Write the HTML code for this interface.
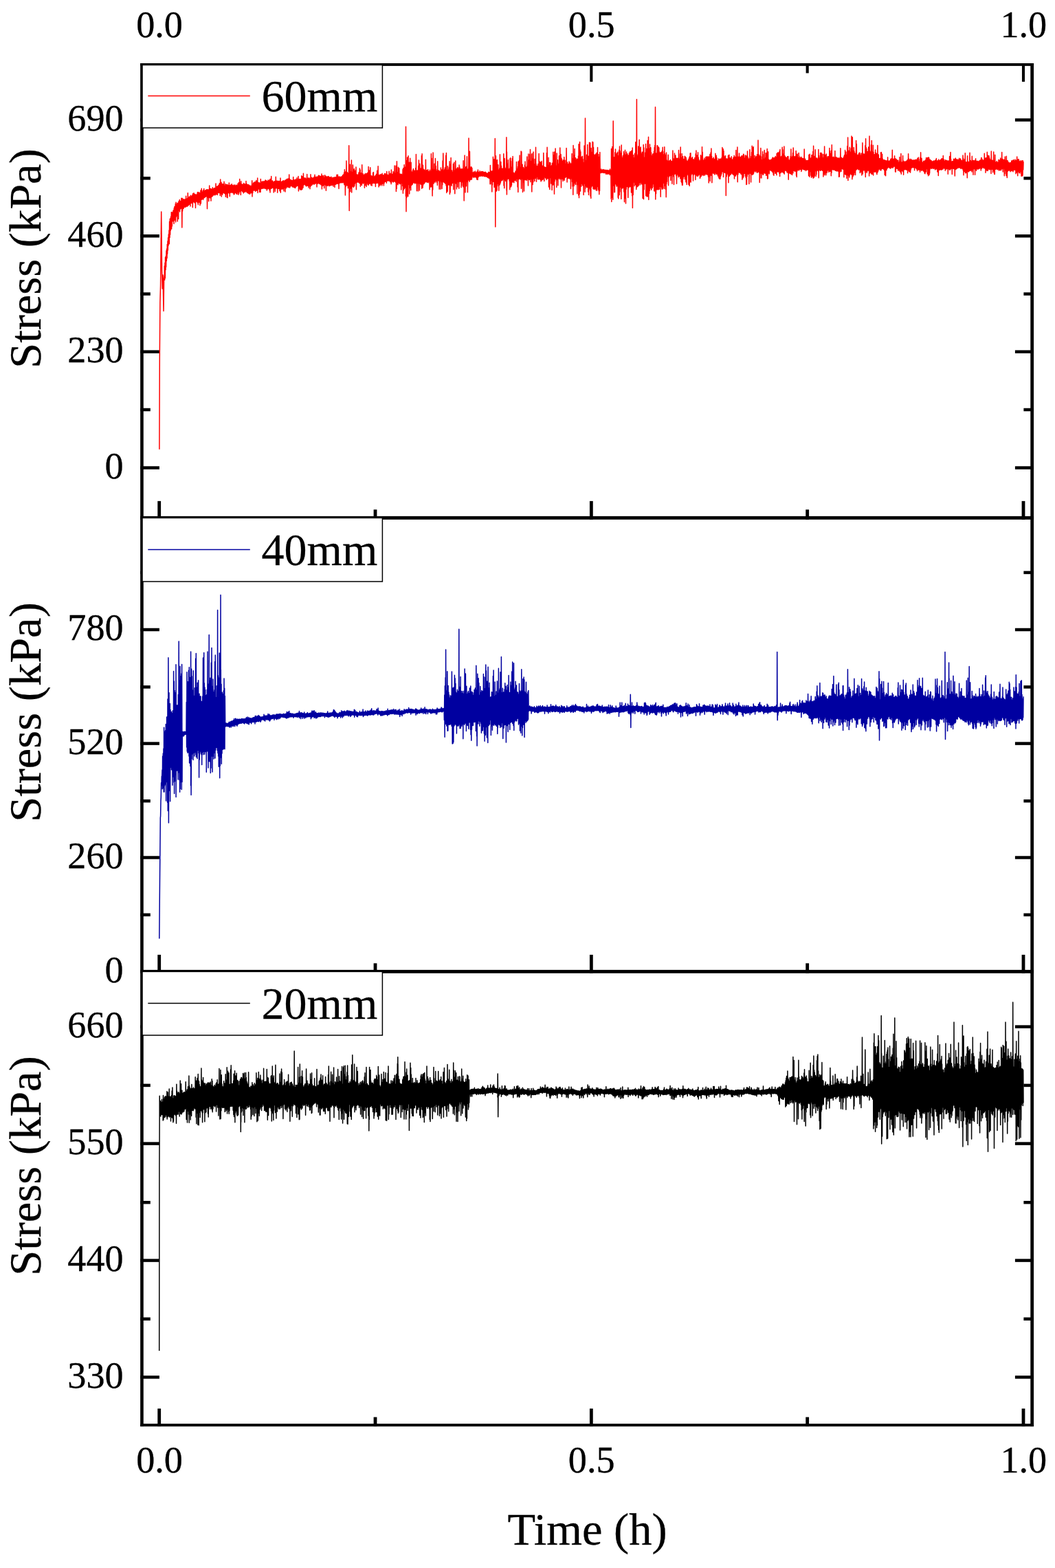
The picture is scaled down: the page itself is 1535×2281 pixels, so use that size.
<!DOCTYPE html>
<html lang="en">
<head>
<meta charset="utf-8">
<title>Stress vs Time</title>
<style>
html,body{margin:0;padding:0;background:#fff;}
body{width:1535px;height:2281px;overflow:hidden;}
svg{display:block;}
svg text{font-family:"Liberation Serif",serif;stroke:#000;stroke-width:0.3px;}
</style>
</head>
<body>
<svg width="1535" height="2281" viewBox="0 0 1535 2281" style="display:block;background:#fff">
<rect x="0" y="0" width="1535" height="2281" fill="#fff"/>
<g id="panel1">
<rect x="204.15" y="172.25" width="27.75" height="4.50" fill="#000"/>
<rect x="1476.90" y="172.25" width="27.15" height="4.50" fill="#000"/>
<rect x="204.15" y="341.05" width="27.75" height="4.50" fill="#000"/>
<rect x="1476.90" y="341.05" width="27.15" height="4.50" fill="#000"/>
<rect x="204.15" y="509.45" width="27.75" height="4.50" fill="#000"/>
<rect x="1476.90" y="509.45" width="27.15" height="4.50" fill="#000"/>
<rect x="204.15" y="678.25" width="27.75" height="4.50" fill="#000"/>
<rect x="1476.90" y="678.25" width="27.15" height="4.50" fill="#000"/>
<rect x="204.15" y="257.05" width="14.65" height="4.50" fill="#000"/>
<rect x="1489.40" y="257.05" width="14.65" height="4.50" fill="#000"/>
<rect x="204.15" y="425.35" width="14.65" height="4.50" fill="#000"/>
<rect x="1489.40" y="425.35" width="14.65" height="4.50" fill="#000"/>
<rect x="204.15" y="593.75" width="14.65" height="4.50" fill="#000"/>
<rect x="1489.40" y="593.75" width="14.65" height="4.50" fill="#000"/>
<rect x="229.30" y="728.90" width="4.80" height="26.90" fill="#000"/>
<rect x="229.65" y="92.00" width="4.10" height="26.90" fill="#000"/>
<rect x="543.62" y="741.30" width="4.80" height="14.50" fill="#000"/>
<rect x="543.98" y="92.00" width="4.10" height="14.40" fill="#000"/>
<rect x="857.95" y="728.90" width="4.80" height="26.90" fill="#000"/>
<rect x="858.30" y="92.00" width="4.10" height="26.90" fill="#000"/>
<rect x="1172.27" y="741.30" width="4.80" height="14.50" fill="#000"/>
<rect x="1172.62" y="92.00" width="4.10" height="14.40" fill="#000"/>
<rect x="1486.60" y="728.90" width="4.80" height="26.90" fill="#000"/>
<rect x="1486.95" y="92.00" width="4.10" height="26.90" fill="#000"/>
<path d="M231.9 653.7L232.3 520.0L232.9 440.0L233.6 415.0L234.7 308.0L235.6 395.0L236.3 420.0L237.0 400.0L238.0 452.4L238.6 405.0L239.3 400.0L239.3 387.0L239.6 407.3L240.0 382.2L240.3 404.7L240.6 374.3L241.0 392.6L241.3 372.7L241.6 388.3L242.0 364.7L242.3 379.6L242.6 361.9L243.0 375.4L243.3 355.6L243.6 369.3L244.0 350.7L244.3 363.9L244.6 345.7L245.0 357.3L245.3 340.7L245.6 351.8L246.0 335.0L246.3 354.8L246.6 322.2L247.0 345.6L247.3 318.6L247.6 341.3L248.0 317.6L248.3 335.2L248.6 314.9L249.0 330.5L249.3 308.7L249.6 333.1L250.0 309.0L250.3 329.1L250.6 310.2L251.0 322.3L251.3 308.7L251.6 321.3L252.0 306.3L252.3 319.8L252.6 305.7L253.0 325.4L253.3 302.8L253.6 315.8L254.0 300.6L254.3 320.3L254.6 300.0L255.0 313.8L255.3 296.6L255.6 323.0L256.0 294.2L256.3 315.6L256.6 298.8L257.0 313.8L257.3 297.2L257.6 309.4L258.0 295.5L258.3 322.0L258.6 295.6L259.0 309.1L259.3 295.2L259.6 318.4L260.0 293.1L260.3 306.3L260.6 292.2L261.0 305.6L261.3 290.4L261.6 307.9L262.0 292.3L262.3 304.2L262.6 292.9L263.0 303.2L263.3 292.8L263.6 302.1L264.0 288.3L264.3 303.5L264.6 298.0L264.8 331.0L265.1 298.0L264.6 292.2L265.0 302.1L265.3 288.6L265.6 306.9L266.0 291.2L266.3 302.9L266.6 290.5L267.0 303.4L267.3 289.6L267.6 302.0L268.0 290.4L268.3 301.3L268.6 291.4L269.0 301.1L269.3 289.9L269.6 301.2L270.0 289.7L270.3 301.1L270.6 285.2L271.0 299.6L271.3 289.3L271.6 299.7L272.0 289.5L272.3 300.5L272.6 288.4L273.0 299.3L273.3 280.8L273.6 298.5L274.0 287.9L274.3 298.8L274.6 287.5L275.0 297.4L275.3 286.1L275.6 297.3L276.0 287.1L276.3 296.2L276.6 286.3L277.0 300.0L277.3 284.3L277.6 295.5L278.0 285.7L278.3 294.6L278.6 286.0L279.0 295.6L279.3 284.3L279.6 294.3L280.0 284.7L280.3 301.7L280.6 281.8L281.0 294.2L281.3 282.2L281.6 293.4L282.0 280.8L282.3 293.0L282.6 282.0L283.0 295.0L283.3 283.1L283.6 292.0L284.0 282.5L284.3 286.8L284.5 302.5L284.8 286.8L284.3 292.5L284.6 283.8L285.0 292.1L285.3 283.6L285.6 293.1L286.0 282.9L286.3 292.7L286.6 282.4L287.0 294.0L287.3 280.1L287.6 294.9L288.0 279.5L288.3 297.7L288.6 280.1L289.0 294.4L289.3 281.1L289.6 294.3L290.0 280.1L290.3 292.1L290.6 281.3L291.0 298.8L291.3 280.9L291.6 292.2L292.0 276.9L292.3 296.1L292.6 280.2L293.0 289.3L293.3 274.2L293.6 290.2L294.0 279.8L294.3 289.2L294.6 279.3L295.0 287.8L295.3 277.4L295.6 290.6L296.0 276.5L296.3 288.4L296.7 274.5L297.0 287.0L297.3 277.5L297.7 287.4L298.0 277.5L298.3 286.4L298.7 277.2L299.0 286.2L299.3 276.5L299.7 285.9L300.0 276.4L300.3 285.6L300.7 275.7L301.0 285.8L301.3 281.9L301.5 303.7L301.8 281.9L301.3 277.4L301.7 286.0L302.0 275.7L302.3 287.2L302.7 276.7L303.0 286.2L303.3 276.1L303.7 292.8L304.0 276.1L304.3 287.3L304.7 270.0L305.0 287.3L305.3 275.9L305.7 287.8L306.0 274.4L306.3 288.1L306.7 274.4L307.0 292.3L307.3 275.5L307.7 285.5L308.0 275.3L308.3 286.1L308.7 275.3L309.0 285.5L309.3 272.7L309.7 284.8L310.0 274.7L310.3 283.9L310.7 275.6L311.0 283.5L311.3 273.9L311.7 282.8L312.0 273.8L312.3 283.8L312.7 273.7L313.0 283.8L313.3 273.5L313.7 282.4L314.0 267.1L314.3 282.7L314.7 271.7L315.0 282.6L315.3 272.6L315.7 282.0L316.0 271.1L316.3 283.4L316.7 271.1L317.0 280.7L317.3 270.8L317.7 280.2L318.0 269.5L318.3 280.6L318.7 268.7L319.0 280.6L319.3 266.8L319.7 280.0L320.0 268.6L320.3 284.6L320.7 261.0L321.0 281.8L321.3 266.9L321.7 281.6L322.0 265.2L322.3 286.1L322.7 267.5L323.0 279.4L323.3 267.4L323.7 283.1L324.0 269.7L324.3 280.7L324.7 267.7L325.0 280.3L325.3 270.3L325.7 280.2L326.0 264.2L326.3 281.3L326.7 271.2L327.0 281.1L327.3 269.9L327.7 282.2L328.0 267.5L328.3 286.3L328.7 269.1L329.0 281.7L329.3 268.7L329.7 280.7L330.0 268.7L330.3 287.2L330.7 268.5L331.0 287.7L331.3 269.0L331.7 280.7L332.0 270.2L332.3 279.3L332.7 269.4L333.0 280.7L333.3 266.1L333.7 278.5L334.0 270.0L334.3 285.7L334.7 269.8L335.0 278.4L335.3 269.8L335.7 279.9L336.0 268.8L336.3 279.9L336.7 268.4L337.0 280.0L337.3 267.7L337.7 279.1L338.0 269.3L338.3 280.0L338.7 269.8L339.0 280.7L339.3 270.0L339.7 279.8L340.0 270.4L340.3 283.1L340.7 268.7L341.0 282.4L341.3 269.7L341.7 280.2L342.0 270.2L342.3 280.5L342.7 270.5L343.0 280.1L343.3 269.1L343.7 281.7L344.0 269.7L344.3 281.9L344.7 269.9L345.0 282.4L345.3 269.4L345.7 279.0L346.0 267.3L346.3 279.7L346.7 267.4L347.0 283.2L347.3 265.7L347.7 281.5L348.0 265.2L348.3 279.2L348.7 260.6L349.0 278.0L349.3 265.9L349.7 277.3L350.0 267.2L350.3 283.6L350.7 263.8L351.0 277.2L351.3 268.1L351.7 276.9L352.0 268.2L352.3 278.1L352.7 268.6L353.0 279.0L353.3 268.3L353.7 278.7L354.0 268.2L354.3 281.0L354.7 266.5L355.0 278.6L355.3 267.8L355.7 279.5L356.0 267.7L356.3 278.2L356.7 268.6L357.0 279.0L357.3 267.9L357.7 278.0L358.0 263.5L358.3 277.9L358.7 267.2L359.0 279.6L359.3 268.1L359.7 280.2L360.0 269.4L360.3 280.5L360.7 268.7L361.0 281.0L361.3 268.7L361.7 281.3L362.0 269.0L362.3 281.9L362.7 269.8L363.0 280.4L363.3 270.8L363.7 282.3L364.0 270.1L364.3 280.1L364.7 271.3L365.0 280.8L365.3 271.3L365.7 280.0L366.0 269.7L366.3 280.8L366.7 262.8L367.0 286.1L367.3 267.5L367.7 280.5L368.0 267.4L368.3 277.2L368.7 266.1L369.0 276.7L369.3 266.8L369.7 277.1L370.0 265.6L370.3 277.1L370.7 264.8L371.0 276.8L371.3 264.7L371.7 278.6L372.0 264.4L372.3 277.2L372.7 262.4L373.0 277.3L373.3 263.5L373.7 277.0L374.0 265.6L374.3 276.1L374.7 259.0L375.0 280.6L375.3 265.4L375.7 275.2L376.0 265.4L376.3 274.8L376.7 267.3L377.0 275.0L377.3 266.0L377.7 279.6L378.0 266.5L378.3 274.8L378.7 266.5L379.0 279.6L379.3 260.6L379.7 274.7L380.0 264.3L380.3 274.6L380.7 265.5L381.0 273.9L381.3 264.5L381.7 274.0L382.0 264.0L382.3 274.2L382.7 264.4L383.0 273.7L383.3 264.1L383.7 273.4L384.0 264.1L384.3 274.0L384.7 264.5L385.0 273.8L385.3 263.6L385.7 273.8L386.0 262.1L386.3 274.5L386.7 262.6L387.0 274.5L387.3 262.8L387.7 273.0L388.0 263.5L388.3 277.1L388.7 263.8L389.0 275.3L389.3 264.0L389.7 274.1L390.0 262.0L390.3 273.3L390.7 263.7L391.0 274.8L391.3 262.9L391.7 273.5L392.0 262.0L392.3 277.1L392.7 260.9L393.0 280.1L393.3 260.4L393.7 274.7L394.0 262.8L394.3 273.3L394.7 256.4L395.0 274.2L395.3 263.0L395.7 272.8L396.0 264.0L396.3 273.1L396.7 262.9L397.0 273.1L397.3 264.7L397.7 273.7L398.0 265.1L398.3 279.9L398.7 264.4L399.0 273.4L399.3 264.1L399.7 274.6L400.0 263.4L400.3 278.6L400.7 263.9L401.0 273.7L401.3 257.2L401.7 273.8L402.0 263.0L402.3 273.0L402.7 263.8L403.0 273.8L403.3 263.2L403.7 280.2L404.0 263.9L404.3 274.4L404.7 263.4L405.0 273.4L405.3 263.6L405.7 274.4L406.0 264.4L406.3 274.4L406.7 263.6L407.0 277.7L407.3 263.7L407.7 274.4L408.0 259.0L408.3 280.2L408.7 264.0L409.0 274.6L409.3 264.4L409.7 275.1L410.0 264.6L410.4 273.7L410.7 263.8L411.0 275.3L411.4 263.9L411.7 274.6L412.0 262.7L412.4 273.7L412.7 262.9L413.0 277.9L413.4 263.6L413.7 273.2L414.0 263.7L414.4 273.0L414.7 262.3L415.0 279.1L415.4 262.7L415.7 272.2L416.0 261.8L416.4 273.8L416.7 261.2L417.0 272.5L417.4 260.4L417.7 271.0L418.0 260.4L418.4 271.2L418.7 260.6L419.0 272.4L419.4 259.9L419.7 271.9L420.0 260.2L420.4 272.6L420.7 254.0L421.0 271.1L421.4 260.1L421.7 273.0L422.0 261.6L422.4 270.6L422.7 261.8L423.0 270.8L423.4 261.7L423.7 270.5L424.0 262.2L424.4 270.5L424.7 262.7L425.0 270.8L425.4 262.6L425.7 271.9L426.0 262.6L426.4 271.9L426.7 257.6L427.0 271.2L427.4 262.0L427.7 272.6L428.0 261.5L428.4 272.5L428.7 262.2L429.0 273.3L429.4 262.0L429.7 273.4L430.0 261.1L430.4 271.1L430.7 261.2L431.0 271.6L431.4 261.3L431.7 270.5L432.0 258.7L432.4 270.3L432.7 261.8L433.0 270.1L433.4 261.3L433.7 270.6L434.0 256.4L434.4 278.0L434.7 262.5L435.0 272.6L435.4 261.1L435.7 273.8L436.0 260.5L436.4 275.8L436.7 261.4L437.0 276.1L437.4 260.7L437.7 272.0L438.0 260.5L438.4 276.2L438.7 255.7L439.0 272.8L439.4 259.5L439.7 275.6L440.0 256.8L440.4 273.2L440.7 258.0L441.0 273.1L441.4 252.2L441.7 269.2L442.0 258.6L442.4 268.5L442.7 259.3L443.0 268.3L443.4 259.1L443.7 267.9L444.0 260.2L444.4 269.7L444.7 258.9L445.0 269.2L445.4 260.3L445.7 271.1L446.0 260.5L446.4 269.6L446.7 253.4L447.0 269.8L447.4 258.9L447.7 270.2L448.0 259.6L448.4 269.8L448.7 259.1L449.0 273.1L449.4 260.5L449.7 270.2L450.0 259.0L450.4 270.4L450.7 260.3L451.0 274.8L451.4 259.9L451.7 271.4L452.0 253.8L452.4 269.9L452.7 259.8L453.0 269.1L453.4 258.2L453.7 269.5L454.0 258.9L454.4 268.3L454.7 259.0L455.0 267.8L455.4 258.9L455.7 267.5L456.0 258.8L456.4 267.0L456.7 258.0L457.0 268.2L457.4 256.9L457.7 266.5L458.0 254.2L458.4 267.4L458.7 257.7L459.0 266.0L459.4 257.8L459.7 266.5L460.0 257.3L460.4 265.4L460.7 257.6L461.0 272.0L461.4 257.6L461.7 266.6L462.0 257.1L462.4 266.9L462.7 257.1L463.0 266.3L463.4 255.3L463.7 266.1L464.0 257.0L464.4 267.5L464.7 255.6L465.0 267.0L465.4 257.0L465.7 266.9L466.0 256.5L466.4 268.5L466.7 257.0L467.0 268.4L467.4 256.0L467.7 269.3L468.0 253.1L468.4 275.0L468.7 255.6L469.0 269.0L469.4 256.0L469.7 270.2L470.0 258.4L470.4 269.6L470.7 255.6L471.0 269.1L471.4 259.0L471.7 273.7L472.0 258.2L472.4 267.8L472.7 254.8L473.0 268.3L473.4 258.1L473.7 269.7L474.0 256.3L474.4 277.2L474.7 258.7L475.0 269.6L475.4 257.3L475.7 269.6L476.0 257.0L476.4 270.4L476.7 257.9L477.0 269.8L477.4 256.8L477.7 269.2L478.0 256.6L478.4 269.5L478.7 257.8L479.0 270.7L479.4 258.1L479.7 269.7L480.0 258.1L480.4 269.9L480.7 258.1L481.0 269.6L481.4 259.2L481.7 269.4L482.0 257.2L482.4 269.3L482.7 260.3L483.0 269.4L483.4 259.3L483.7 269.0L484.0 258.3L484.4 268.1L484.7 260.3L485.0 271.2L485.4 258.4L485.7 268.0L486.0 258.2L486.4 268.5L486.7 258.1L487.0 272.4L487.4 258.2L487.7 267.4L488.0 257.9L488.4 268.3L488.7 257.7L489.0 267.8L489.4 257.4L489.7 267.2L490.0 254.2L490.4 267.2L490.7 258.3L491.0 267.2L491.4 254.2L491.7 266.7L492.0 256.9L492.4 266.8L492.7 257.3L493.0 274.5L493.4 258.0L493.7 266.6L494.0 257.1L494.4 265.5L494.7 257.6L495.0 265.9L495.4 257.4L495.7 265.7L496.0 258.0L496.4 265.4L496.7 257.3L497.0 264.5L497.4 256.4L497.7 265.9L498.0 256.2L498.4 264.7L498.7 254.8L499.0 265.2L499.4 256.0L499.7 263.9L500.0 253.4L500.4 266.7L500.7 251.0L501.0 268.8L501.4 246.7L501.7 268.6L502.0 251.6L502.4 284.0L502.7 250.0L503.0 271.8L503.4 253.4L503.7 269.6L504.0 234.1L504.4 268.7L504.7 252.8L505.0 270.0L505.4 250.8L505.7 268.1L506.0 253.5L506.4 273.7L506.7 252.1L507.0 270.9L507.4 252.0L507.4 261.0L507.7 211.8L507.9 261.0L507.7 268.4L508.0 261.0L508.2 306.4L508.4 261.0L508.0 248.5L508.4 270.2L508.7 251.9L509.0 268.1L509.4 239.2L509.7 278.7L510.0 249.5L510.4 273.9L510.7 251.9L511.0 268.8L511.4 233.0L511.7 279.9L512.0 250.3L512.4 271.8L512.7 250.4L513.0 271.1L513.4 239.9L513.7 270.7L514.0 247.8L514.4 272.6L514.7 246.4L515.0 267.3L515.4 245.4L515.7 270.8L516.0 250.4L516.4 267.4L516.7 248.3L517.0 265.6L517.4 253.9L517.7 265.6L518.0 243.0L518.4 275.8L518.7 253.6L519.0 264.4L519.4 255.4L519.7 264.9L520.0 254.2L520.4 264.6L520.7 255.0L521.0 265.1L521.4 253.7L521.7 265.0L522.0 251.1L522.4 265.7L522.7 253.6L523.0 266.5L523.4 245.1L523.7 266.4L524.1 246.9L524.4 271.2L524.7 253.7L525.1 268.7L525.4 251.8L525.7 266.7L526.1 254.1L526.4 269.4L526.7 239.8L527.1 266.3L527.4 253.7L527.7 265.8L528.1 252.8L528.4 266.9L528.7 253.9L529.1 264.7L529.4 254.9L529.7 265.8L530.1 254.7L530.4 273.3L530.7 253.3L531.1 267.8L531.4 254.4L531.7 269.4L532.1 252.2L532.4 269.6L532.7 253.8L533.1 271.4L533.4 253.0L533.7 265.5L534.1 252.6L534.4 266.5L534.7 251.6L535.1 268.8L535.4 251.3L535.7 267.4L536.1 242.5L536.4 269.2L536.7 250.4L537.1 265.0L537.4 248.0L537.7 267.0L538.1 254.1L538.4 266.9L538.7 243.8L539.1 266.2L539.4 256.4L539.7 269.5L540.1 255.5L540.4 266.6L540.7 256.2L541.1 270.2L541.4 256.3L541.7 266.5L542.1 257.5L542.4 266.5L542.7 251.2L543.1 266.5L543.4 250.6L543.7 265.4L544.1 257.9L544.4 266.4L544.7 256.9L545.1 266.0L545.4 256.3L545.7 266.7L546.1 255.6L546.4 271.6L546.7 255.7L547.1 266.8L547.4 253.4L547.7 266.0L548.1 253.3L548.4 266.3L548.7 248.3L549.1 266.1L549.4 255.3L549.7 266.3L550.1 241.8L550.4 266.3L550.7 254.9L551.1 271.9L551.4 255.6L551.7 267.0L552.1 254.2L552.4 269.4L552.7 255.1L553.1 270.1L553.4 254.2L553.7 268.7L554.1 253.6L554.4 267.7L554.7 254.1L555.1 267.5L555.4 254.2L555.7 270.1L556.1 252.3L556.4 267.5L556.7 254.9L557.1 266.0L557.4 254.7L557.7 266.7L558.1 254.9L558.4 270.0L558.7 255.1L559.1 266.5L559.4 252.8L559.7 264.3L560.1 254.1L560.4 264.2L560.7 252.4L561.1 263.2L561.4 254.1L561.7 264.3L562.1 254.1L562.4 266.2L562.7 249.4L563.1 262.2L563.4 253.9L563.7 263.0L564.1 254.6L564.4 262.5L564.7 254.8L565.1 263.1L565.4 254.9L565.7 262.8L566.1 249.3L566.4 262.6L566.7 253.6L567.1 263.6L567.4 253.0L567.7 264.7L568.1 252.3L568.4 264.3L568.7 252.7L569.1 267.8L569.4 246.9L569.7 265.4L570.1 253.2L570.4 263.6L570.7 253.5L571.1 263.5L571.4 253.4L571.7 264.2L572.1 249.5L572.4 265.1L572.7 251.4L573.1 263.4L573.4 251.3L573.7 263.7L574.1 241.1L574.4 263.7L574.7 252.0L575.1 264.5L575.4 252.7L575.7 265.2L576.1 241.3L576.4 278.6L576.7 250.5L577.1 274.5L577.4 234.8L577.7 265.4L578.1 251.2L578.4 267.8L578.7 250.5L579.1 268.7L579.4 243.2L579.7 266.6L580.1 251.1L580.4 266.3L580.7 244.8L581.1 265.8L581.4 253.7L581.7 267.7L582.1 253.0L582.4 267.1L582.7 254.5L583.1 266.8L583.4 253.7L583.7 275.9L584.1 253.2L584.4 266.6L584.7 254.3L585.1 266.1L585.4 253.9L585.7 270.4L586.1 246.4L586.4 281.3L586.7 244.7L587.1 276.5L587.4 246.6L587.7 274.2L588.1 239.7L588.4 274.6L588.7 247.0L589.1 273.1L589.4 243.3L589.7 272.0L590.1 246.4L590.2 258.7L590.5 184.2L590.8 258.7L590.4 285.2L590.7 228.1L590.8 258.7L591.0 307.8L591.2 258.7L591.1 277.7L591.4 233.5L591.7 287.4L592.1 236.4L592.4 285.3L592.7 229.1L593.1 274.0L593.4 248.2L593.7 285.7L594.1 226.8L594.4 267.6L594.7 245.4L595.1 268.5L595.4 236.2L595.7 282.0L596.1 247.1L596.4 272.3L596.7 230.3L597.1 273.3L597.4 245.3L597.7 276.7L598.1 236.2L598.4 269.7L598.7 248.9L599.1 268.8L599.4 250.3L599.7 268.8L600.1 250.3L600.4 267.8L600.7 247.3L601.1 265.9L601.4 245.6L601.7 265.7L602.1 247.3L602.4 264.9L602.7 249.7L603.1 266.1L603.4 248.5L603.7 267.0L604.1 249.5L604.4 264.8L604.7 244.6L605.1 266.0L605.4 224.5L605.7 266.8L606.1 249.0L606.4 277.7L606.7 248.4L607.1 266.5L607.4 248.1L607.7 266.1L608.1 250.2L608.4 278.0L608.7 241.3L609.1 265.8L609.4 233.1L609.7 266.8L610.1 248.5L610.4 277.0L610.7 238.3L611.1 267.1L611.4 251.0L611.7 266.6L612.1 245.0L612.4 268.2L612.7 246.5L613.1 268.3L613.4 226.5L613.7 274.3L614.1 223.7L614.4 272.1L614.7 245.5L615.1 273.0L615.4 240.2L615.7 269.2L616.1 246.0L616.4 266.4L616.7 249.7L617.1 267.3L617.4 246.9L617.7 265.9L618.1 248.3L618.4 265.6L618.7 248.3L619.1 264.2L619.4 232.2L619.7 264.2L620.1 249.9L620.4 263.6L620.7 247.9L621.1 265.3L621.4 247.6L621.7 265.0L622.1 249.1L622.4 264.4L622.7 246.8L623.1 265.8L623.4 249.2L623.7 264.0L624.1 249.9L624.4 263.9L624.7 249.4L625.1 275.8L625.4 247.3L625.7 264.0L626.1 249.4L626.4 272.1L626.7 249.3L627.1 268.1L627.4 223.8L627.7 271.7L628.1 230.2L628.4 269.2L628.7 247.5L629.1 285.1L629.4 246.0L629.7 275.9L630.1 221.9L630.4 265.9L630.7 246.6L631.1 267.0L631.4 246.8L631.7 264.2L632.1 238.3L632.4 264.1L632.7 247.9L633.1 265.6L633.4 230.5L633.7 262.2L634.1 241.6L634.4 263.5L634.7 248.8L635.1 261.5L635.4 249.2L635.7 265.8L636.1 246.6L636.4 269.5L636.7 234.8L637.1 263.1L637.4 248.0L637.8 262.8L638.1 249.5L638.4 261.9L638.8 248.1L639.1 275.3L639.4 250.4L639.8 263.1L640.1 249.5L640.4 263.5L640.8 249.8L641.1 275.3L641.4 244.1L641.8 264.5L642.1 248.7L642.4 263.9L642.8 246.9L643.1 274.5L643.4 247.8L643.8 268.7L644.1 234.0L644.4 264.7L644.8 223.1L645.1 264.5L645.4 247.9L645.8 264.7L646.1 249.5L646.4 265.5L646.8 246.5L647.1 266.0L647.4 244.1L647.8 266.9L648.1 249.3L648.4 267.1L648.8 226.0L649.1 270.0L649.4 222.4L649.8 280.4L650.1 248.8L650.4 267.2L650.8 247.4L651.1 278.5L651.4 241.7L651.8 268.9L652.1 248.0L652.4 267.8L652.8 246.9L653.1 268.9L653.4 243.8L653.8 267.9L654.1 234.8L654.4 282.6L654.8 245.0L655.1 280.0L655.4 239.0L655.8 268.8L656.1 229.5L656.4 266.5L656.8 249.4L657.1 270.4L657.4 247.9L657.8 266.7L658.1 250.3L658.4 266.2L658.8 251.6L659.1 265.5L659.4 238.6L659.8 275.8L660.1 249.1L660.4 264.4L660.8 236.2L661.1 265.6L661.4 249.3L661.8 281.7L662.1 248.0L662.4 265.2L662.8 234.1L663.1 266.8L663.4 245.7L663.8 262.8L664.1 246.3L664.4 275.1L664.8 245.4L665.1 270.1L665.4 243.9L665.8 271.9L666.1 243.7L666.4 262.7L666.8 246.6L667.1 264.4L667.4 245.2L667.8 274.2L668.1 240.1L668.4 262.6L668.8 242.9L669.1 264.1L669.4 245.3L669.8 264.0L670.1 247.5L670.4 262.5L670.8 246.0L671.1 272.8L671.4 248.0L671.8 270.0L672.1 245.6L672.4 264.8L672.8 246.2L673.1 263.5L673.4 246.6L673.8 271.7L674.1 233.8L674.4 264.0L674.8 245.2L675.0 255.5L675.2 292.0L675.5 255.5L675.1 263.9L675.4 248.1L675.8 263.0L676.1 226.1L676.4 261.8L676.8 243.4L677.1 279.9L677.4 248.1L677.8 261.8L678.1 242.6L678.4 270.7L678.8 247.0L679.1 262.4L679.4 227.8L679.8 264.3L680.1 246.5L680.4 279.8L680.8 246.8L681.1 262.5L681.4 244.9L681.8 255.2L682.0 201.0L682.2 255.2L681.8 261.8L682.1 247.4L682.4 261.1L682.8 244.8L683.1 264.3L683.4 220.2L683.8 261.9L684.1 244.1L684.4 260.2L684.8 245.1L685.1 261.3L685.4 242.7L685.8 260.1L686.1 243.2L686.4 261.0L686.8 244.6L687.1 256.6L687.4 251.2L687.8 256.3L688.1 250.9L688.4 258.3L688.8 251.3L689.1 256.5L689.4 250.1L689.8 257.3L690.1 250.5L690.4 258.0L690.8 251.5L691.1 257.3L691.4 249.0L691.8 256.9L692.1 251.1L692.4 258.0L692.8 250.9L693.1 257.5L693.4 251.3L693.8 261.0L694.1 249.5L694.4 260.9L694.8 249.9L695.1 261.6L695.4 247.0L695.8 258.0L696.1 250.0L696.4 256.8L696.8 251.0L697.1 256.1L697.4 250.8L697.8 256.2L698.1 248.8L698.4 256.2L698.8 250.7L699.1 255.6L699.4 250.3L699.8 256.1L700.1 249.9L700.4 255.7L700.8 249.6L701.1 255.7L701.4 249.7L701.8 256.1L702.1 250.1L702.4 256.2L702.8 249.6L703.1 255.5L703.4 250.7L703.8 255.8L704.1 250.8L704.4 256.6L704.8 250.7L705.1 255.9L705.4 250.5L705.8 256.8L706.1 250.3L706.4 256.8L706.8 250.7L707.1 256.3L707.4 251.9L707.8 256.9L708.1 251.9L708.4 257.3L708.8 252.3L709.1 257.8L709.4 252.3L709.8 258.5L710.1 252.1L710.4 258.4L710.8 250.2L711.1 258.9L711.4 252.2L711.8 259.6L712.1 250.7L712.4 259.4L712.8 251.7L713.1 267.8L713.4 240.6L713.8 267.8L714.1 248.3L714.4 262.6L714.8 249.4L715.1 262.6L715.4 250.7L715.8 279.0L716.1 248.7L716.4 269.0L716.8 249.2L717.1 264.3L717.4 228.2L717.8 264.3L718.1 247.8L718.4 262.7L718.8 231.7L719.1 272.6L719.4 248.3L719.8 269.8L720.0 253.8L720.3 201.4L720.5 253.8L720.1 233.2L720.4 261.5L720.6 253.8L720.8 330.0L721.0 253.8L720.8 245.7L721.1 279.3L721.4 226.8L721.8 262.1L722.1 233.3L722.4 278.1L722.8 246.3L723.1 276.8L723.4 232.4L723.8 261.0L724.1 245.6L724.4 267.4L724.8 239.8L725.1 270.6L725.4 246.9L725.8 277.3L726.1 247.2L726.4 261.4L726.8 244.8L727.1 269.1L727.4 224.7L727.8 267.3L728.1 244.7L728.4 265.2L728.8 235.6L729.1 262.8L729.4 241.3L729.8 259.4L730.1 247.1L730.4 262.7L730.8 245.3L731.1 262.0L731.4 246.4L731.8 260.4L732.1 245.0L732.4 259.9L732.8 223.7L733.1 270.1L733.4 248.2L733.8 273.7L734.1 230.4L734.4 261.1L734.8 247.2L735.1 261.8L735.4 245.5L735.8 263.5L736.1 244.0L736.4 260.9L736.6 253.3L736.9 199.8L737.1 253.3L736.8 240.8L737.1 277.2L737.2 253.3L737.4 283.0L737.6 253.3L737.4 221.0L737.8 263.3L738.1 238.2L738.4 260.7L738.8 246.7L739.1 260.1L739.4 232.7L739.8 259.9L740.1 247.7L740.4 260.0L740.8 245.9L741.1 263.3L741.4 245.0L741.8 275.8L742.1 230.8L742.4 265.7L742.8 229.8L743.1 272.0L743.4 234.6L743.8 271.3L744.1 248.6L744.4 269.2L744.8 243.0L745.1 263.8L745.4 230.6L745.8 265.0L746.1 227.4L746.4 264.2L746.8 250.8L747.1 264.8L747.4 251.6L747.8 265.7L748.1 252.2L748.4 262.3L748.8 252.3L749.1 262.6L749.4 250.7L749.8 262.0L750.1 249.2L750.4 260.5L750.8 248.8L751.1 264.1L751.5 235.4L751.8 260.1L752.1 247.6L752.5 260.0L752.8 245.6L753.1 272.1L753.5 242.5L753.8 279.6L754.1 235.1L754.5 261.1L754.8 238.5L755.1 260.6L755.5 233.2L755.8 259.2L756.1 226.0L756.5 259.7L756.8 243.4L757.1 261.1L757.5 245.7L757.8 259.7L758.1 219.9L758.5 274.2L758.8 220.8L759.1 258.3L759.5 246.3L759.8 260.1L760.1 239.2L760.5 279.4L760.8 244.3L761.1 264.7L761.5 243.6L761.8 260.7L762.1 246.1L762.5 277.9L762.8 245.3L763.1 260.4L763.5 240.0L763.8 261.6L764.1 234.9L764.5 261.2L764.8 245.7L765.1 262.0L765.5 243.4L765.8 261.0L766.1 242.5L766.5 262.2L766.8 227.9L767.1 260.1L767.5 241.5L767.8 258.8L768.1 245.8L768.5 270.0L768.8 224.1L769.1 261.3L769.5 232.8L769.8 260.4L770.1 242.6L770.5 261.5L770.8 224.2L771.1 259.4L771.5 217.5L771.8 264.8L772.1 236.5L772.5 260.5L772.8 234.4L773.1 260.4L773.5 224.6L773.8 278.9L774.1 223.2L774.5 264.9L774.8 230.9L775.1 268.5L775.5 240.3L775.8 264.9L776.1 221.0L776.5 259.9L776.8 238.8L777.1 258.3L777.5 242.2L777.8 263.6L778.1 231.6L778.5 259.2L778.8 240.2L779.1 257.7L779.5 214.3L779.8 259.5L780.1 238.5L780.5 264.3L780.8 241.3L781.1 256.3L781.5 241.7L781.8 257.4L782.1 243.4L782.5 260.6L782.8 238.7L783.1 259.5L783.5 241.8L783.8 260.9L784.1 223.6L784.5 259.8L784.8 243.4L785.1 258.4L785.5 235.2L785.8 261.0L786.1 239.7L786.5 261.8L786.8 235.9L787.1 264.1L787.5 243.0L787.8 262.4L788.1 234.6L788.5 262.1L788.8 242.8L789.1 260.0L789.5 241.2L789.8 261.2L790.1 242.9L790.5 259.9L790.8 222.6L791.1 258.5L791.5 243.0L791.8 263.4L792.1 242.7L792.5 257.8L792.8 243.9L793.1 257.7L793.5 243.5L793.8 259.0L794.1 244.2L794.5 257.5L794.8 243.6L795.1 261.5L795.5 222.6L795.8 259.9L796.1 214.2L796.5 259.5L796.8 240.2L797.1 259.6L797.5 241.7L797.8 259.7L798.1 229.2L798.5 272.1L798.8 240.4L799.1 259.7L799.5 236.5L799.8 275.5L800.1 241.0L800.5 258.6L800.8 236.7L801.1 257.9L801.5 241.4L801.8 267.1L802.1 242.2L802.5 260.7L802.8 240.6L803.1 276.6L803.5 237.3L803.8 260.4L804.1 237.8L804.5 269.0L804.8 221.2L805.1 268.8L805.5 225.6L805.8 264.0L806.1 236.5L806.5 282.3L806.8 220.9L807.1 263.8L807.5 240.6L807.8 259.0L808.1 216.0L808.5 260.0L808.8 241.4L809.1 261.3L809.5 241.1L809.8 272.6L810.1 223.1L810.5 261.8L810.8 240.9L811.1 260.1L811.5 232.7L811.8 269.8L812.1 238.3L812.5 260.2L812.8 238.2L813.1 259.1L813.5 226.8L813.8 257.4L814.1 239.6L814.5 260.7L814.8 215.1L815.1 259.8L815.5 225.1L815.8 259.8L816.1 224.6L816.5 272.9L816.8 229.9L817.1 258.5L817.5 231.3L817.8 260.2L818.1 234.2L818.5 260.7L818.8 234.4L819.1 263.6L819.5 233.0L819.8 260.7L820.1 239.1L820.5 260.7L820.8 228.4L821.1 262.5L821.5 240.2L821.8 258.1L822.1 233.3L822.5 258.5L822.8 242.1L823.1 257.2L823.5 238.3L823.8 257.3L824.1 215.5L824.5 256.8L824.8 239.5L825.1 265.1L825.5 235.9L825.8 259.8L826.1 238.8L826.5 259.5L826.8 239.4L827.1 259.5L827.5 238.1L827.8 259.1L828.1 234.9L828.5 258.6L828.8 238.1L829.1 260.2L829.5 237.1L829.8 258.6L830.1 238.5L830.5 274.6L830.8 240.5L831.1 260.1L831.5 237.3L831.8 258.4L832.1 223.6L832.5 264.5L832.8 237.2L833.1 271.0L833.5 230.8L833.8 283.3L834.1 211.4L834.5 268.0L834.8 225.7L835.1 270.4L835.5 225.5L835.8 266.1L836.1 216.4L836.5 263.6L836.8 231.6L837.1 268.2L837.5 229.7L837.8 268.6L838.1 232.3L838.5 263.7L838.8 234.3L839.1 262.9L839.5 231.1L839.8 281.7L840.1 231.4L840.5 268.5L840.8 234.7L841.1 265.0L841.5 227.0L841.8 284.1L842.1 209.7L842.5 287.7L842.8 225.7L843.1 282.7L843.5 206.6L843.8 278.0L844.1 217.9L844.5 278.0L844.8 220.7L845.1 270.6L845.5 229.2L845.8 271.0L846.1 228.4L846.5 267.2L846.8 228.0L847.1 267.1L847.5 227.2L847.8 269.7L848.1 231.4L848.5 269.6L848.8 236.8L849.1 283.4L849.5 236.6L849.8 266.9L850.1 212.0L850.5 266.3L850.8 238.3L851.1 279.3L851.2 250.4L851.5 172.0L851.8 250.4L851.5 219.7L851.8 274.1L852.1 233.5L852.5 270.8L852.8 233.5L853.1 269.4L853.5 225.3L853.8 272.7L854.1 232.1L854.5 272.2L854.8 210.6L855.1 272.2L855.5 227.0L855.8 279.0L856.1 230.7L856.5 283.5L856.8 227.1L857.1 267.7L857.5 207.3L857.8 274.1L858.1 212.6L858.5 276.6L858.8 207.7L859.1 285.4L859.5 221.5L859.8 288.6L860.1 215.6L860.5 272.3L860.8 230.3L861.1 267.9L861.5 221.2L861.8 270.5L862.1 206.3L862.5 267.9L862.8 207.1L863.1 274.7L863.5 214.3L863.8 269.1L864.2 229.9L864.5 275.5L864.8 225.1L865.2 271.9L865.5 231.0L865.8 274.7L866.2 225.6L866.5 271.8L866.8 223.9L867.2 276.7L867.5 228.8L867.8 267.7L868.2 222.3L868.5 277.3L868.8 222.7L869.2 271.6L869.5 214.5L869.8 265.3L870.2 229.2L870.5 275.8L870.8 224.6L871.2 277.8L871.5 230.1L871.8 282.7L872.2 228.2L872.5 277.4L872.8 221.5L873.2 251.2L873.5 247.1L873.8 251.6L874.2 247.0L874.5 251.4L874.8 246.0L875.2 250.7L875.5 247.4L875.8 250.9L876.2 247.4L876.5 251.0L876.8 247.0L877.2 250.7L877.5 246.6L877.8 251.2L878.2 247.0L878.5 251.5L878.8 247.3L879.2 251.1L879.5 247.2L879.8 251.6L880.2 247.3L880.5 251.6L880.8 248.1L881.2 251.6L881.5 247.4L881.8 253.4L882.2 248.1L882.5 252.1L882.8 247.6L883.2 252.6L883.5 247.5L883.8 253.2L884.2 248.0L884.5 252.9L884.8 247.9L885.2 252.9L885.5 248.0L885.8 252.6L886.2 248.0L886.5 252.5L886.8 247.8L887.2 254.5L887.5 246.1L887.8 252.6L888.2 247.8L888.5 252.9L888.8 247.9L889.2 289.3L889.5 216.6L889.8 293.5L890.2 221.2L890.5 287.2L890.8 213.6L891.2 275.0L891.5 228.5L891.8 290.3L892.0 250.0L892.2 176.0L892.5 250.0L892.2 225.4L892.5 269.3L892.8 229.8L893.2 269.9L893.5 228.8L893.8 279.8L894.2 229.7L894.5 279.5L894.8 221.7L895.2 265.2L895.5 217.0L895.8 267.2L896.2 224.5L896.5 269.1L896.8 227.2L897.2 271.3L897.5 222.8L897.8 270.0L898.2 222.6L898.5 265.4L898.8 221.1L899.2 287.3L899.5 226.9L899.8 288.9L900.2 226.4L900.5 283.9L900.8 218.2L901.2 283.4L901.5 213.0L901.8 272.6L902.2 219.6L902.5 272.2L902.8 222.4L903.2 278.9L903.5 226.6L903.8 289.4L904.2 211.1L904.5 274.0L904.8 227.0L905.2 268.4L905.5 231.9L905.8 273.9L906.2 229.4L906.5 272.3L906.8 226.1L907.2 273.0L907.5 220.6L907.8 279.1L908.2 227.2L908.5 293.8L908.8 223.8L909.2 288.6L909.5 218.2L909.8 267.5L910.2 228.9L910.3 249.5L910.5 296.0L910.8 249.5L910.5 282.9L910.8 225.1L911.2 275.2L911.5 220.9L911.8 271.5L912.2 224.1L912.5 271.6L912.8 223.8L913.2 270.3L913.5 229.2L913.8 287.6L914.2 226.0L914.5 270.0L914.8 229.3L915.2 272.8L915.5 222.8L915.8 267.7L916.2 222.0L916.5 271.0L916.8 220.4L917.2 271.7L917.5 220.7L917.8 271.8L918.2 229.4L918.5 279.9L918.8 219.2L919.2 270.4L919.5 224.2L919.8 284.7L920.2 215.0L920.2 249.3L920.4 302.4L920.6 249.3L920.5 278.8L920.8 225.7L921.2 283.4L921.5 225.6L921.8 264.4L922.2 229.5L922.5 264.9L922.8 229.9L923.2 270.8L923.5 223.7L923.8 268.8L924.2 222.6L924.5 268.7L924.8 206.8L925.2 267.9L925.5 223.6L925.8 275.5L926.1 249.1L926.4 144.4L926.6 249.1L926.2 228.2L926.5 272.0L926.8 228.8L927.2 271.5L927.5 227.2L927.8 271.4L928.2 225.0L928.5 269.7L928.8 213.0L929.2 269.9L929.5 225.3L929.8 266.1L930.2 203.3L930.5 264.4L930.8 214.9L931.2 269.1L931.5 229.5L931.8 265.5L932.2 214.1L932.5 263.5L932.8 229.4L933.2 267.8L933.5 223.4L933.8 267.7L934.2 221.2L934.5 267.9L934.8 222.1L935.2 288.4L935.5 221.1L935.8 266.2L936.2 210.6L936.5 289.8L936.8 215.1L937.2 275.8L937.5 229.4L937.8 266.2L938.2 229.0L938.5 266.9L938.8 221.9L939.2 265.1L939.5 209.6L939.8 284.8L940.2 220.0L940.5 274.4L940.8 216.4L941.2 285.9L941.5 225.3L941.8 281.2L942.2 204.4L942.5 285.7L942.8 215.9L943.2 281.4L943.5 199.2L943.8 290.6L944.2 215.9L944.5 281.5L944.8 219.9L945.2 277.5L945.5 209.9L945.8 272.9L946.2 223.0L946.5 268.5L946.8 214.7L947.2 274.8L947.5 221.8L947.8 276.2L948.2 229.6L948.5 269.8L948.8 226.4L949.2 273.6L949.5 224.2L949.8 267.8L950.2 224.1L950.5 267.5L950.8 223.6L951.2 271.7L951.5 220.3L951.8 277.8L952.2 214.4L952.5 273.0L952.8 211.4L953.2 278.8L953.2 248.4L953.5 155.8L953.8 248.4L953.5 204.3L953.8 290.0L954.2 227.7L954.5 281.8L954.8 223.0L955.2 275.9L955.5 223.7L955.8 267.9L956.2 211.8L956.5 275.4L956.8 211.9L957.2 271.7L957.5 217.9L957.8 276.1L958.2 213.9L958.5 274.0L958.8 215.0L959.2 275.3L959.5 221.0L959.8 271.5L960.2 227.5L960.5 270.3L960.8 222.5L961.2 286.2L961.5 222.1L961.8 272.3L962.2 221.5L962.5 270.6L962.8 220.8L963.2 274.9L963.5 219.1L963.8 275.2L964.2 214.3L964.5 274.1L964.8 220.5L965.2 266.2L965.5 224.8L965.8 265.4L966.2 224.9L966.5 274.5L966.8 213.7L967.2 268.6L967.5 223.4L967.8 270.2L968.2 227.2L968.5 275.2L968.8 225.6L969.2 286.7L969.5 222.1L969.8 267.6L970.2 233.1L970.5 264.2L970.8 235.4L971.2 256.5L971.5 234.2L971.8 255.7L972.2 225.2L972.5 269.8L972.8 234.6L973.2 257.5L973.5 235.5L973.8 256.2L974.2 233.6L974.5 254.9L974.8 234.2L975.2 255.5L975.5 232.5L975.8 262.6L976.2 234.1L976.5 255.2L976.8 236.4L977.2 253.4L977.5 234.5L977.9 267.2L978.2 235.5L978.5 254.0L978.9 218.9L979.2 254.1L979.5 233.0L979.9 257.0L980.2 231.1L980.5 268.6L980.9 233.4L981.2 253.5L981.5 223.0L981.9 253.2L982.2 229.1L982.5 252.6L982.9 225.9L983.2 253.1L983.5 230.0L983.9 255.7L984.2 232.9L984.5 267.3L984.9 230.3L985.2 253.6L985.5 232.8L985.9 253.2L986.2 230.6L986.5 255.2L986.9 230.0L987.2 257.7L987.5 218.4L987.9 254.9L988.2 231.0L988.5 256.4L988.9 232.0L989.2 254.9L989.5 223.7L989.9 259.7L990.2 214.1L990.5 257.4L990.9 229.4L991.2 264.4L991.5 228.9L991.9 265.9L992.2 223.6L992.5 269.3L992.9 232.5L993.2 269.3L993.5 227.5L993.9 260.5L994.2 233.9L994.5 257.8L994.9 231.4L995.2 256.6L995.5 232.9L995.9 255.4L996.2 227.3L996.5 260.7L996.9 232.7L997.2 257.4L997.5 228.2L997.9 264.7L998.2 229.6L998.5 254.8L998.9 232.7L999.2 268.4L999.5 234.4L999.9 252.4L1000.2 235.5L1000.5 253.4L1000.9 233.9L1001.2 255.0L1001.5 232.6L1001.9 268.4L1002.2 231.1L1002.5 255.5L1002.9 229.0L1003.2 270.4L1003.5 227.5L1003.9 264.7L1004.2 223.1L1004.5 254.5L1004.9 222.8L1005.2 265.1L1005.5 232.2L1005.9 254.2L1006.2 229.9L1006.5 252.5L1006.9 233.6L1007.2 250.9L1007.5 228.5L1007.9 253.6L1008.2 231.6L1008.5 263.0L1008.9 232.8L1009.2 253.4L1009.5 232.2L1009.9 254.0L1010.2 231.9L1010.5 252.8L1010.9 229.6L1011.2 252.6L1011.5 230.4L1011.9 261.4L1012.2 223.7L1012.5 254.5L1012.9 219.0L1013.2 254.3L1013.5 226.4L1013.9 256.0L1014.2 225.9L1014.5 255.0L1014.9 229.9L1015.2 256.6L1015.5 221.7L1015.9 255.6L1016.2 228.9L1016.5 254.4L1016.9 232.4L1017.2 253.0L1017.5 234.3L1017.9 253.8L1018.2 235.3L1018.5 259.6L1018.9 233.1L1019.2 257.4L1019.5 225.8L1019.9 254.5L1020.2 233.3L1020.5 256.3L1020.9 227.0L1021.2 253.6L1021.5 213.8L1021.9 254.2L1022.2 221.2L1022.5 252.9L1022.9 233.5L1023.2 255.4L1023.5 233.7L1023.9 252.2L1024.2 232.1L1024.5 253.5L1024.9 230.0L1025.2 255.3L1025.5 233.9L1025.9 253.9L1026.2 232.3L1026.5 252.8L1026.9 228.6L1027.2 253.0L1027.5 230.5L1027.9 253.7L1028.2 227.8L1028.5 251.2L1028.9 229.7L1029.2 253.9L1029.5 228.3L1029.9 254.0L1030.2 228.3L1030.5 257.0L1030.9 227.9L1031.2 266.0L1031.5 230.0L1031.9 255.6L1032.2 228.0L1032.5 257.2L1032.9 224.4L1033.2 263.5L1033.5 224.3L1033.9 255.2L1034.2 221.8L1034.5 254.9L1034.9 216.0L1035.2 255.1L1035.5 227.3L1035.9 265.7L1036.2 230.8L1036.5 252.0L1036.9 231.0L1037.2 251.7L1037.5 230.7L1037.9 252.0L1038.2 229.0L1038.5 249.8L1038.9 231.1L1039.2 253.0L1039.5 232.6L1039.9 254.1L1040.2 231.8L1040.5 251.3L1040.9 223.2L1041.2 251.2L1041.5 229.9L1041.9 253.3L1042.2 226.3L1042.5 251.4L1042.9 229.4L1043.2 253.3L1043.5 233.7L1043.9 253.3L1044.2 233.9L1044.5 255.9L1044.9 233.7L1045.2 254.1L1045.5 231.0L1045.9 258.9L1046.2 231.5L1046.5 252.8L1046.9 232.3L1047.2 260.4L1047.5 231.7L1047.9 259.9L1048.2 231.1L1048.5 256.8L1048.9 231.5L1049.2 255.0L1049.5 231.0L1049.9 252.8L1050.2 229.1L1050.5 249.6L1050.9 214.5L1051.2 249.7L1051.5 226.4L1051.9 248.1L1052.2 216.7L1052.5 257.5L1052.9 219.6L1053.2 247.9L1053.5 226.7L1053.9 250.8L1054.2 230.6L1054.5 251.3L1054.9 228.1L1055.2 251.4L1055.5 226.5L1055.9 250.6L1056.1 242.0L1056.3 284.5L1056.5 242.0L1056.2 231.4L1056.5 257.7L1056.9 231.1L1057.2 256.8L1057.5 230.9L1057.9 249.9L1058.2 232.2L1058.5 252.4L1058.9 231.1L1059.2 254.4L1059.5 226.5L1059.9 265.7L1060.2 226.1L1060.5 256.1L1060.9 225.3L1061.2 256.3L1061.5 229.3L1061.9 252.3L1062.2 231.8L1062.5 254.4L1062.9 230.0L1063.2 253.5L1063.5 230.0L1063.9 252.9L1064.2 227.8L1064.5 249.6L1064.9 231.5L1065.2 251.5L1065.5 232.9L1065.9 253.3L1066.2 232.4L1066.5 251.9L1066.9 229.3L1067.2 254.5L1067.5 231.2L1067.9 251.7L1068.2 226.3L1068.5 260.1L1068.9 227.9L1069.2 255.4L1069.5 229.1L1069.9 255.9L1070.2 228.6L1070.5 256.1L1070.9 218.4L1071.2 252.0L1071.5 228.5L1071.9 253.8L1072.2 229.7L1072.5 251.7L1072.9 214.0L1073.2 264.7L1073.5 229.9L1073.9 253.8L1074.2 228.2L1074.5 250.8L1074.9 228.7L1075.2 249.5L1075.5 223.1L1075.9 251.3L1076.2 229.0L1076.5 249.3L1076.9 228.2L1077.2 251.3L1077.5 230.6L1077.9 253.1L1078.2 228.6L1078.5 250.6L1078.9 226.8L1079.2 254.1L1079.5 228.4L1079.9 261.2L1080.2 226.7L1080.5 254.0L1080.9 226.5L1081.2 258.7L1081.5 224.2L1081.9 257.1L1082.2 224.6L1082.5 252.5L1082.9 232.0L1083.2 252.2L1083.5 229.7L1083.9 250.7L1084.2 226.5L1084.5 256.3L1084.9 225.7L1085.2 258.5L1085.5 229.2L1085.9 268.5L1086.2 227.2L1086.5 267.9L1086.9 226.5L1087.2 256.5L1087.5 220.1L1087.9 253.5L1088.2 228.6L1088.5 253.0L1088.9 231.0L1089.2 252.6L1089.5 231.1L1089.9 267.5L1090.2 231.7L1090.5 252.3L1090.9 217.8L1091.2 251.5L1091.6 230.6L1091.9 252.4L1092.2 230.5L1092.6 264.9L1092.9 227.4L1093.2 252.9L1093.6 221.4L1093.9 253.5L1094.2 212.2L1094.6 254.3L1094.9 221.1L1095.2 253.8L1095.6 214.8L1095.9 253.5L1096.2 213.5L1096.6 252.1L1096.9 230.8L1097.2 249.7L1097.6 232.4L1097.9 248.5L1098.2 226.3L1098.6 247.8L1098.9 231.3L1099.2 249.9L1099.6 228.9L1099.9 248.2L1100.2 227.6L1100.6 248.8L1100.9 229.3L1101.2 250.7L1101.6 224.7L1101.9 251.2L1102.2 227.2L1102.6 249.9L1102.8 241.1L1103.0 204.0L1103.2 241.1L1102.9 226.9L1103.2 249.9L1103.6 225.4L1103.9 249.8L1104.2 224.9L1104.6 251.0L1104.9 226.1L1105.2 265.4L1105.6 229.6L1105.9 259.1L1106.2 227.5L1106.6 250.7L1106.9 215.6L1107.2 251.9L1107.6 227.7L1107.9 259.0L1108.2 232.4L1108.6 251.5L1108.9 232.7L1109.2 252.2L1109.6 220.5L1109.9 254.0L1110.2 224.4L1110.6 254.3L1110.9 231.2L1111.2 250.7L1111.6 231.3L1111.9 251.8L1112.2 218.6L1112.6 251.5L1112.9 229.8L1113.2 252.2L1113.6 231.7L1113.9 252.1L1114.2 222.5L1114.6 255.2L1114.9 222.8L1115.2 253.4L1115.6 230.4L1115.9 255.0L1116.2 216.5L1116.6 259.9L1116.9 229.9L1117.2 259.7L1117.6 220.7L1117.9 251.8L1118.2 231.9L1118.6 251.8L1118.9 232.4L1119.2 252.9L1119.6 233.4L1119.9 247.3L1120.2 233.2L1120.6 247.6L1120.9 232.8L1121.2 246.9L1121.6 232.8L1121.9 248.4L1122.2 232.4L1122.6 248.8L1122.9 231.6L1123.2 248.4L1123.6 230.3L1123.9 250.3L1124.2 229.0L1124.6 251.0L1124.9 230.1L1125.2 253.9L1125.6 232.1L1125.9 255.3L1126.2 229.4L1126.6 248.8L1126.9 229.4L1127.2 249.1L1127.6 231.0L1127.9 252.2L1128.2 227.4L1128.6 252.1L1128.9 228.7L1129.2 251.4L1129.6 229.7L1129.9 254.8L1130.2 223.3L1130.6 249.8L1130.9 225.8L1131.2 247.5L1131.6 222.0L1131.9 249.9L1132.2 228.9L1132.6 249.8L1132.9 221.9L1133.2 249.9L1133.6 225.6L1133.9 252.4L1134.2 219.7L1134.6 256.6L1134.9 217.6L1135.2 249.8L1135.6 229.1L1135.9 251.6L1136.2 228.3L1136.6 251.0L1136.9 227.8L1137.2 247.0L1137.6 226.7L1137.9 249.5L1138.2 214.3L1138.6 250.5L1138.9 217.7L1139.2 250.0L1139.6 224.1L1139.9 251.4L1140.2 228.1L1140.6 251.1L1140.9 213.1L1141.2 253.2L1141.6 226.3L1141.9 247.5L1142.2 227.3L1142.6 248.1L1142.9 228.8L1143.2 248.3L1143.6 229.3L1143.9 248.8L1144.2 229.4L1144.6 248.6L1144.9 232.2L1145.2 251.1L1145.6 227.8L1145.9 249.3L1146.2 233.6L1146.6 251.2L1146.9 227.6L1147.2 261.2L1147.6 232.3L1147.9 250.2L1148.2 234.2L1148.6 251.0L1148.9 233.2L1149.2 252.5L1149.6 230.7L1149.9 252.1L1150.2 227.5L1150.6 252.7L1150.9 217.0L1151.2 253.4L1151.6 229.3L1151.9 252.7L1152.2 228.8L1152.6 254.6L1152.9 227.3L1153.2 249.4L1153.6 222.6L1153.9 251.7L1154.2 215.0L1154.6 248.4L1154.9 229.4L1155.2 248.3L1155.6 227.5L1155.9 248.0L1156.2 228.5L1156.6 249.5L1156.9 228.0L1157.2 248.8L1157.6 227.1L1157.9 248.0L1158.2 219.6L1158.6 255.4L1158.9 229.1L1159.2 257.4L1159.6 224.7L1159.9 249.1L1160.2 224.0L1160.6 246.2L1160.9 230.4L1161.2 247.2L1161.6 229.2L1161.9 246.3L1162.2 222.5L1162.6 248.1L1162.9 227.3L1163.2 246.0L1163.6 229.4L1163.9 246.2L1164.2 230.4L1164.6 246.4L1164.9 229.2L1165.2 246.1L1165.6 228.3L1165.9 249.4L1166.2 229.7L1166.6 247.2L1166.9 230.1L1167.2 245.6L1167.6 232.2L1167.9 245.3L1168.2 230.6L1168.6 246.4L1168.9 231.0L1169.2 246.4L1169.6 231.9L1169.9 245.1L1170.2 217.0L1170.6 247.3L1170.9 233.3L1171.2 245.9L1171.6 231.3L1171.9 246.8L1172.2 233.6L1172.6 248.4L1172.9 233.5L1173.2 246.9L1173.6 234.1L1173.9 246.9L1174.2 233.7L1174.6 245.8L1174.9 233.5L1175.2 247.0L1175.6 233.6L1175.9 246.6L1176.2 233.0L1176.6 255.7L1176.9 225.2L1177.2 247.2L1177.6 230.4L1177.9 257.3L1178.2 224.2L1178.6 248.8L1178.9 231.1L1179.2 249.5L1179.6 230.4L1179.9 255.2L1180.2 229.3L1180.6 258.3L1180.9 225.6L1181.2 255.3L1181.6 228.8L1181.9 256.8L1182.2 225.2L1182.6 248.4L1182.9 220.3L1183.2 259.3L1183.6 212.2L1183.9 247.8L1184.2 227.3L1184.6 257.9L1184.9 227.6L1185.2 256.0L1185.6 231.2L1185.9 248.6L1186.2 217.8L1186.6 247.1L1186.9 229.8L1187.2 256.5L1187.6 230.2L1187.9 253.7L1188.2 230.3L1188.6 248.6L1188.9 230.0L1189.2 247.7L1189.6 231.5L1189.9 247.3L1190.2 232.5L1190.6 248.9L1190.9 217.5L1191.2 258.8L1191.6 226.4L1191.9 246.9L1192.2 229.8L1192.6 247.4L1192.9 230.2L1193.2 246.7L1193.6 222.4L1193.9 248.5L1194.2 230.7L1194.6 246.3L1194.9 222.3L1195.2 247.3L1195.6 229.3L1195.9 245.8L1196.2 224.0L1196.6 248.2L1196.9 230.2L1197.2 248.2L1197.6 229.4L1197.9 257.1L1198.2 224.4L1198.6 247.3L1198.9 229.3L1199.2 253.4L1199.6 213.1L1199.9 254.8L1200.2 226.8L1200.6 251.7L1200.9 225.8L1201.2 251.2L1201.6 225.2L1201.9 254.8L1202.2 224.1L1202.6 251.2L1202.9 229.3L1203.2 251.2L1203.6 229.2L1203.9 249.0L1204.2 227.4L1204.6 246.8L1204.9 229.4L1205.3 247.5L1205.6 227.7L1205.9 250.5L1206.3 229.6L1206.6 247.1L1206.9 215.6L1207.3 249.3L1207.6 219.8L1207.9 246.7L1208.3 228.3L1208.6 249.2L1208.9 223.2L1209.3 255.7L1209.6 219.1L1209.9 251.2L1210.3 210.8L1210.6 246.4L1210.9 228.9L1211.3 246.7L1211.6 229.2L1211.9 246.0L1212.3 228.3L1212.6 247.1L1212.9 228.3L1213.3 246.9L1213.6 230.5L1213.9 246.0L1214.3 229.5L1214.6 247.0L1214.9 219.4L1215.3 248.2L1215.6 229.1L1215.9 247.1L1216.3 231.2L1216.6 248.3L1216.9 228.5L1217.3 249.0L1217.6 230.0L1217.9 246.7L1218.3 230.7L1218.6 248.5L1218.9 229.8L1219.3 249.1L1219.6 232.9L1219.9 248.6L1220.3 229.9L1220.6 257.3L1220.9 230.5L1221.3 257.0L1221.6 230.8L1221.9 250.6L1222.3 228.6L1222.6 248.8L1222.9 215.8L1223.3 248.0L1223.6 229.4L1223.9 249.4L1224.3 229.2L1224.6 245.8L1224.9 231.9L1225.3 244.7L1225.6 230.2L1225.9 245.8L1226.3 230.7L1226.6 246.3L1226.9 230.2L1227.3 244.6L1227.6 228.5L1227.9 257.8L1228.3 226.5L1228.6 248.3L1228.9 225.2L1229.3 253.3L1229.6 218.6L1229.9 251.1L1230.3 222.1L1230.6 254.2L1230.9 220.9L1231.3 254.0L1231.6 226.8L1231.9 259.4L1232.3 225.3L1232.6 253.8L1232.9 212.6L1233.3 254.8L1233.6 200.1L1233.9 262.5L1234.3 224.5L1234.6 255.4L1234.9 219.3L1235.3 254.1L1235.6 226.4L1235.9 258.0L1236.3 214.3L1236.6 254.5L1236.9 226.1L1237.3 252.4L1237.6 221.1L1237.9 250.6L1238.3 215.8L1238.6 253.8L1238.8 238.8L1239.0 198.0L1239.2 238.8L1238.9 224.9L1239.3 254.2L1239.6 218.9L1239.9 260.7L1240.3 199.8L1240.6 257.6L1240.9 220.9L1241.3 256.1L1241.6 219.2L1241.9 253.7L1242.3 214.4L1242.6 254.2L1242.9 220.1L1243.3 251.3L1243.6 222.6L1243.9 249.5L1244.3 223.8L1244.6 254.6L1244.9 226.4L1245.3 247.8L1245.6 204.5L1245.9 246.8L1246.3 209.4L1246.6 246.2L1246.9 228.6L1247.3 245.4L1247.6 225.6L1247.9 245.5L1248.3 226.6L1248.6 246.0L1248.9 225.0L1249.3 247.0L1249.6 223.1L1249.9 246.4L1250.3 225.5L1250.6 245.9L1250.9 221.9L1251.3 251.4L1251.6 223.5L1251.9 248.1L1252.3 227.1L1252.6 249.4L1252.9 226.0L1253.3 251.1L1253.6 223.0L1253.9 255.0L1254.3 223.5L1254.6 250.3L1254.9 207.7L1255.3 253.0L1255.6 222.7L1255.9 246.7L1256.3 224.2L1256.6 247.7L1256.9 224.2L1257.3 246.3L1257.6 226.2L1257.9 247.9L1258.3 223.8L1258.6 250.8L1258.9 211.7L1259.3 257.5L1259.6 201.8L1259.9 248.5L1260.3 214.6L1260.6 249.7L1260.9 216.5L1261.3 251.3L1261.6 221.2L1261.9 249.0L1262.3 220.6L1262.6 247.2L1262.9 220.5L1263.3 248.0L1263.6 213.9L1263.9 248.1L1264.3 225.9L1264.6 256.0L1264.8 239.0L1265.0 198.0L1265.2 239.0L1264.9 222.8L1265.3 249.2L1265.6 219.5L1265.9 251.7L1266.3 221.0L1266.6 250.8L1266.9 223.9L1267.3 249.2L1267.6 210.7L1267.9 253.0L1268.3 204.6L1268.6 253.3L1268.9 225.3L1269.3 251.4L1269.6 220.4L1269.9 253.2L1270.3 211.3L1270.6 255.1L1270.9 221.3L1271.3 249.0L1271.6 226.6L1271.9 249.8L1272.3 224.8L1272.6 250.3L1272.9 224.9L1273.3 249.4L1273.6 218.0L1273.9 249.8L1274.3 221.9L1274.6 248.8L1274.9 225.6L1275.3 251.8L1275.6 223.5L1275.9 253.7L1276.3 223.6L1276.6 251.0L1276.9 211.5L1277.3 250.1L1277.6 231.1L1277.9 248.3L1278.3 225.1L1278.6 246.2L1278.9 231.4L1279.3 244.9L1279.6 230.7L1279.9 246.1L1280.3 230.6L1280.6 247.4L1280.9 231.9L1281.3 246.4L1281.6 222.1L1281.9 247.9L1282.3 221.4L1282.6 246.1L1282.9 231.7L1283.3 245.5L1283.6 224.3L1283.9 245.3L1284.3 231.0L1284.6 245.6L1284.9 233.3L1285.3 244.8L1285.6 232.8L1285.9 246.4L1286.3 232.8L1286.6 247.8L1286.9 233.6L1287.3 254.4L1287.6 233.1L1287.9 248.4L1288.3 233.7L1288.6 255.8L1288.9 233.8L1289.3 246.8L1289.6 233.9L1289.9 247.5L1290.3 234.2L1290.6 245.2L1290.9 234.1L1291.3 244.6L1291.6 228.8L1291.9 243.6L1292.3 233.7L1292.6 242.7L1292.9 234.5L1293.3 243.2L1293.6 234.4L1293.9 243.9L1294.3 233.9L1294.6 242.5L1294.9 233.6L1295.3 245.1L1295.6 232.1L1295.9 245.1L1296.3 231.0L1296.6 243.3L1296.9 231.0L1297.3 243.0L1297.6 232.5L1297.9 244.0L1298.3 218.3L1298.6 243.7L1298.9 232.5L1299.3 244.1L1299.6 231.3L1299.9 242.6L1300.3 232.7L1300.6 241.8L1300.9 231.2L1301.3 241.7L1301.6 226.7L1301.9 242.3L1302.3 230.8L1302.6 250.1L1302.9 230.7L1303.3 250.1L1303.6 232.2L1303.9 244.3L1304.3 231.8L1304.6 244.9L1304.9 233.3L1305.3 245.3L1305.6 234.1L1305.9 245.3L1306.3 232.9L1306.6 247.9L1306.9 236.1L1307.3 247.2L1307.6 236.5L1307.9 247.7L1308.3 233.5L1308.6 247.7L1308.9 228.4L1309.3 249.4L1309.6 235.8L1309.9 247.9L1310.3 235.2L1310.6 251.1L1310.9 223.4L1311.3 253.3L1311.6 236.5L1311.9 247.7L1312.3 236.3L1312.6 248.6L1312.9 235.5L1313.3 246.7L1313.6 226.4L1313.9 249.9L1314.3 234.1L1314.6 254.2L1314.9 235.4L1315.3 246.4L1315.6 235.4L1315.9 246.8L1316.3 235.1L1316.6 246.4L1316.9 235.3L1317.3 246.4L1317.6 236.4L1317.9 245.8L1318.3 234.8L1318.6 247.0L1319.0 235.5L1319.3 246.6L1319.6 233.2L1320.0 247.5L1320.3 234.7L1320.6 251.7L1321.0 231.8L1321.3 246.2L1321.6 223.7L1322.0 247.7L1322.3 230.8L1322.6 249.5L1323.0 232.4L1323.3 245.9L1323.6 232.2L1324.0 250.2L1324.3 232.6L1324.6 251.1L1325.0 231.2L1325.3 247.1L1325.6 232.6L1326.0 244.4L1326.3 232.6L1326.6 243.8L1327.0 232.5L1327.3 243.7L1327.6 233.3L1328.0 243.1L1328.3 233.8L1328.6 243.6L1329.0 234.0L1329.3 243.8L1329.6 232.5L1330.0 243.1L1330.3 234.1L1330.6 247.7L1331.0 233.5L1331.3 243.4L1331.6 232.5L1332.0 243.7L1332.3 233.1L1332.6 244.6L1333.0 232.3L1333.3 245.2L1333.6 232.5L1334.0 246.6L1334.3 232.7L1334.6 248.4L1335.0 230.3L1335.3 246.7L1335.6 232.2L1336.0 246.2L1336.3 229.1L1336.6 247.0L1337.0 235.0L1337.3 247.0L1337.6 235.2L1338.0 247.1L1338.3 231.7L1338.6 250.2L1339.0 229.0L1339.3 246.9L1339.6 221.8L1340.0 246.5L1340.3 232.2L1340.6 248.2L1341.0 230.2L1341.3 247.2L1341.6 235.2L1342.0 247.6L1342.3 236.5L1342.6 247.0L1343.0 236.6L1343.3 248.7L1343.6 234.2L1344.0 247.4L1344.3 234.4L1344.6 249.9L1345.0 234.5L1345.3 252.3L1345.6 234.1L1346.0 252.8L1346.3 233.4L1346.6 246.2L1347.0 232.0L1347.3 250.0L1347.6 229.4L1348.0 244.7L1348.3 230.6L1348.6 245.5L1349.0 229.7L1349.3 252.9L1349.6 230.6L1350.0 245.6L1350.3 229.0L1350.6 255.8L1351.0 229.5L1351.3 246.6L1351.6 229.3L1352.0 254.5L1352.3 232.4L1352.6 251.9L1353.0 232.1L1353.3 246.1L1353.6 232.8L1354.0 244.2L1354.3 233.9L1354.6 244.1L1355.0 233.6L1355.3 245.5L1355.6 235.0L1356.0 244.4L1356.3 235.6L1356.6 244.6L1357.0 234.7L1357.3 244.9L1357.6 235.4L1358.0 244.6L1358.3 234.1L1358.6 245.2L1359.0 235.1L1359.3 244.7L1359.6 234.3L1360.0 245.0L1360.3 233.7L1360.6 247.0L1361.0 232.9L1361.3 245.3L1361.6 232.8L1362.0 245.9L1362.3 230.4L1362.6 245.8L1363.0 234.0L1363.3 244.9L1363.6 234.9L1364.0 250.0L1364.3 233.8L1364.6 245.9L1365.0 234.0L1365.3 255.6L1365.6 232.1L1366.0 247.2L1366.3 234.8L1366.6 246.9L1367.0 233.7L1367.3 247.3L1367.6 233.0L1368.0 246.8L1368.3 232.7L1368.6 246.0L1369.0 233.6L1369.3 246.7L1369.6 231.0L1370.0 247.3L1370.3 232.6L1370.6 245.6L1371.0 230.8L1371.3 245.9L1371.6 232.0L1372.0 245.9L1372.3 226.5L1372.6 244.5L1373.0 231.8L1373.3 243.9L1373.6 232.3L1374.0 245.1L1374.3 234.5L1374.6 244.2L1375.0 234.4L1375.3 248.3L1375.6 232.8L1376.0 244.3L1376.3 234.8L1376.6 246.2L1377.0 233.5L1377.3 245.1L1377.6 233.4L1378.0 245.6L1378.3 235.2L1378.6 245.4L1379.0 234.1L1379.3 253.3L1379.6 234.4L1380.0 245.3L1380.3 234.1L1380.6 245.6L1381.0 234.8L1381.3 247.0L1381.6 227.4L1382.0 246.6L1382.3 227.8L1382.6 246.9L1383.0 221.6L1383.3 245.5L1383.6 231.4L1384.0 245.1L1384.3 235.0L1384.6 244.8L1385.0 235.1L1385.3 253.4L1385.6 235.0L1386.0 244.1L1386.3 234.5L1386.6 245.0L1387.0 234.5L1387.3 245.4L1387.6 231.3L1388.0 245.1L1388.3 234.5L1388.6 246.0L1389.0 231.4L1389.3 256.1L1389.6 231.3L1390.0 245.7L1390.3 230.0L1390.6 246.5L1391.0 231.5L1391.3 245.7L1391.6 232.2L1392.0 245.5L1392.3 232.6L1392.6 243.8L1393.0 232.0L1393.3 243.9L1393.6 233.4L1394.0 244.6L1394.3 232.5L1394.6 243.2L1395.0 232.2L1395.3 243.3L1395.6 230.2L1396.0 244.0L1396.3 233.3L1396.6 243.9L1397.0 231.2L1397.3 244.3L1397.6 231.0L1398.0 245.5L1398.3 232.9L1398.6 243.7L1399.0 233.8L1399.3 244.3L1399.6 234.2L1400.0 245.5L1400.3 232.9L1400.6 245.1L1401.0 226.1L1401.3 247.8L1401.6 230.2L1402.0 254.8L1402.3 232.7L1402.6 248.1L1403.0 235.9L1403.3 249.6L1403.6 231.7L1404.0 249.8L1404.3 222.8L1404.6 251.8L1405.0 236.1L1405.3 248.9L1405.6 235.8L1406.0 251.5L1406.3 236.1L1406.6 248.2L1407.0 237.2L1407.3 258.7L1407.6 226.8L1408.0 249.3L1408.3 234.9L1408.6 249.1L1409.0 235.8L1409.3 250.1L1409.6 236.3L1410.0 249.0L1410.3 235.0L1410.6 247.3L1411.0 222.2L1411.3 248.3L1411.6 234.9L1412.0 247.1L1412.3 233.5L1412.6 248.0L1413.0 235.7L1413.3 246.1L1413.6 234.7L1414.0 249.9L1414.3 227.2L1414.6 245.9L1415.0 235.0L1415.3 247.3L1415.6 233.5L1416.0 254.3L1416.3 233.4L1416.6 245.0L1417.0 234.7L1417.3 245.6L1417.6 233.9L1418.0 246.1L1418.3 233.3L1418.6 254.3L1419.0 234.0L1419.3 246.9L1419.6 230.8L1420.0 245.5L1420.3 234.2L1420.6 248.3L1421.0 234.8L1421.3 245.7L1421.6 234.3L1422.0 245.4L1422.3 235.7L1422.6 245.9L1423.0 234.5L1423.3 246.0L1423.6 235.6L1424.0 244.0L1424.3 235.0L1424.6 245.2L1425.0 233.9L1425.3 244.1L1425.6 233.4L1426.0 244.7L1426.3 233.1L1426.6 245.1L1427.0 233.3L1427.3 247.9L1427.6 229.7L1428.0 245.2L1428.3 229.6L1428.6 244.9L1429.0 231.6L1429.3 243.8L1429.6 232.8L1430.0 243.1L1430.3 233.7L1430.6 243.2L1431.0 233.6L1431.3 244.8L1431.6 232.2L1432.0 244.0L1432.3 223.2L1432.7 244.5L1433.0 232.5L1433.3 245.4L1433.7 230.2L1434.0 251.2L1434.3 229.7L1434.7 246.7L1435.0 229.8L1435.3 246.9L1435.7 231.9L1436.0 248.5L1436.3 221.2L1436.7 247.0L1437.0 231.3L1437.3 248.2L1437.7 226.2L1438.0 245.8L1438.3 229.9L1438.7 245.3L1439.0 226.7L1439.3 246.7L1439.7 229.8L1440.0 244.3L1440.3 232.0L1440.7 246.6L1441.0 232.6L1441.3 245.3L1441.7 233.0L1442.0 252.5L1442.3 220.1L1442.7 246.3L1443.0 234.0L1443.3 246.3L1443.7 233.3L1444.0 245.6L1444.3 233.4L1444.7 250.7L1445.0 233.8L1445.3 248.0L1445.7 220.9L1446.0 245.6L1446.3 235.2L1446.7 253.2L1447.0 233.8L1447.3 253.5L1447.7 225.2L1448.0 244.9L1448.3 236.1L1448.7 246.3L1449.0 235.9L1449.3 245.5L1449.7 236.2L1450.0 245.7L1450.3 234.6L1450.7 245.0L1451.0 236.0L1451.3 246.8L1451.7 236.5L1452.0 246.0L1452.3 235.9L1452.7 246.1L1453.0 232.5L1453.3 247.9L1453.7 232.5L1454.0 247.3L1454.3 233.9L1454.7 247.4L1455.0 233.4L1455.3 247.8L1455.7 229.9L1456.0 245.5L1456.3 234.0L1456.7 247.5L1457.0 231.6L1457.3 245.6L1457.7 221.6L1458.0 244.9L1458.3 231.9L1458.7 245.8L1459.0 231.4L1459.3 250.0L1459.7 233.5L1460.0 245.1L1460.3 232.5L1460.7 245.1L1461.0 232.7L1461.3 255.8L1461.7 232.0L1462.0 252.8L1462.3 228.1L1462.7 247.7L1463.0 233.5L1463.3 247.5L1463.7 235.4L1464.0 255.4L1464.3 227.3L1464.7 248.6L1465.0 235.7L1465.3 258.5L1465.7 233.4L1466.0 249.6L1466.3 233.9L1466.7 248.2L1467.0 235.8L1467.3 248.1L1467.7 236.5L1468.0 247.4L1468.3 237.1L1468.7 247.4L1469.0 238.0L1469.3 248.4L1469.7 236.7L1470.0 249.8L1470.3 236.7L1470.7 248.3L1471.0 236.8L1471.3 247.1L1471.7 234.1L1472.0 248.8L1472.3 234.6L1472.7 247.7L1473.0 233.8L1473.3 247.5L1473.7 234.4L1474.0 249.7L1474.3 232.8L1474.7 247.7L1475.0 232.8L1475.3 246.3L1475.7 234.5L1476.0 247.1L1476.3 234.3L1476.7 247.2L1477.0 232.1L1477.3 245.0L1477.7 233.8L1478.0 252.8L1478.3 233.5L1478.7 246.8L1479.0 233.2L1479.3 251.1L1479.7 228.1L1480.0 246.1L1480.3 232.1L1480.7 255.8L1481.0 232.9L1481.3 249.6L1481.7 231.8L1482.0 248.8L1482.3 232.1L1482.7 251.2L1483.0 234.2L1483.3 249.0L1483.7 235.1L1484.0 252.0L1484.3 236.2L1484.7 249.6L1485.0 233.8L1485.3 248.6L1485.7 235.3L1486.0 256.2L1486.3 235.1L1486.7 249.7L1487.0 233.7L1487.3 255.9L1487.7 235.8L1488.0 255.3L1488.3 233.8L1488.7 247.1L1489.0 235.3" stroke="#ff0000" stroke-width="1.50" fill="none" stroke-linejoin="round"/>
<rect x="204.15" y="92.00" width="4.60" height="663.80" fill="#000"/>
<rect x="1499.30" y="92.00" width="4.75" height="663.80" fill="#000"/>
<rect x="204.15" y="92.00" width="1299.90" height="3.90" fill="#000"/>
<rect x="204.15" y="750.90" width="1299.90" height="4.90" fill="#000"/>
</g>
<g id="panel2">
<rect x="204.15" y="913.75" width="27.75" height="4.50" fill="#000"/>
<rect x="1476.90" y="913.75" width="27.15" height="4.50" fill="#000"/>
<rect x="204.15" y="1079.35" width="27.75" height="4.50" fill="#000"/>
<rect x="1476.90" y="1079.35" width="27.15" height="4.50" fill="#000"/>
<rect x="204.15" y="1245.25" width="27.75" height="4.50" fill="#000"/>
<rect x="1476.90" y="1245.25" width="27.15" height="4.50" fill="#000"/>
<rect x="204.15" y="830.65" width="14.65" height="4.50" fill="#000"/>
<rect x="1489.40" y="830.65" width="14.65" height="4.50" fill="#000"/>
<rect x="204.15" y="997.15" width="14.65" height="4.50" fill="#000"/>
<rect x="1489.40" y="997.15" width="14.65" height="4.50" fill="#000"/>
<rect x="204.15" y="1162.95" width="14.65" height="4.50" fill="#000"/>
<rect x="1489.40" y="1162.95" width="14.65" height="4.50" fill="#000"/>
<rect x="204.15" y="1328.55" width="14.65" height="4.50" fill="#000"/>
<rect x="1489.40" y="1328.55" width="14.65" height="4.50" fill="#000"/>
<rect x="229.30" y="1388.90" width="4.80" height="26.90" fill="#000"/>
<rect x="543.62" y="1401.30" width="4.80" height="14.50" fill="#000"/>
<rect x="857.95" y="1388.90" width="4.80" height="26.90" fill="#000"/>
<rect x="1172.27" y="1401.30" width="4.80" height="14.50" fill="#000"/>
<rect x="1486.60" y="1388.90" width="4.80" height="26.90" fill="#000"/>
<path d="M231.8 1365.5L232.5 1280.0L233.3 1194.0L233.3 1189.8L233.6 1187.2L234.0 1164.7L234.3 1160.0L234.6 1138.8L235.0 1142.4L235.3 1129.3L235.6 1132.3L236.0 1119.9L236.3 1147.7L236.6 1099.9L237.0 1146.3L237.3 1096.0L237.6 1145.2L238.0 1088.9L238.3 1152.1L238.6 1058.3L239.0 1151.9L239.3 1068.2L239.6 1143.0L240.0 1064.2L240.3 1129.6L240.6 1062.5L241.0 1140.9L241.3 1053.5L241.6 1165.1L242.0 1059.8L242.3 1137.6L242.6 1042.9L243.0 1128.6L243.3 1046.7L243.6 1167.2L244.0 1017.0L244.3 1179.6L244.6 1022.7L244.7 1088.2L244.9 956.8L245.2 1088.2L245.0 1145.1L245.2 1088.2L245.4 1197.0L245.7 1088.2L245.3 1014.4L245.6 1136.4L246.0 1007.7L246.3 1150.0L246.6 1034.0L247.0 1143.1L247.3 1023.5L247.6 1165.8L248.0 1032.4L248.3 1116.3L248.6 1049.3L249.0 1112.3L249.3 1035.4L249.6 1119.7L250.0 1037.4L250.3 1119.7L250.6 1044.5L251.0 1142.2L251.3 1034.1L251.6 1124.2L252.0 1033.7L252.3 1130.1L252.6 976.4L253.0 1138.1L253.3 990.9L253.6 1154.5L254.0 1004.5L254.3 1136.8L254.6 1007.6L255.0 1127.2L255.3 1010.4L255.6 1125.0L255.9 1075.5L256.1 1159.4L256.4 1075.5L256.0 966.8L256.3 1136.2L256.6 1025.8L257.0 1112.1L257.3 1026.1L257.6 1121.1L258.0 1026.5L258.3 1113.0L258.6 1025.8L259.0 1134.0L259.3 1010.4L259.6 1111.1L259.9 1071.8L260.2 933.0L260.4 1071.8L260.0 998.3L260.3 1123.7L260.6 989.5L261.0 1134.4L261.3 1014.1L261.6 1152.3L262.0 969.2L262.3 1147.5L262.6 989.2L263.0 1131.1L263.3 983.4L263.6 1137.4L264.0 980.0L264.3 1148.4L264.6 966.5L265.0 1137.4L265.3 1065.0L265.6 1070.9L266.0 1064.5L266.3 1070.5L266.6 1064.8L267.0 1070.9L267.3 1064.7L267.6 1070.2L268.0 1064.7L268.3 1069.0L268.6 1064.3L269.0 1068.5L269.3 1064.5L269.6 1068.3L270.0 1064.7L270.3 1068.1L270.6 1064.5L271.0 1068.4L271.3 1021.4L271.6 1086.9L272.0 977.8L272.3 1092.9L272.6 1022.4L273.0 1095.3L273.3 991.7L273.6 1094.2L274.0 1010.4L274.3 1091.9L274.6 975.2L275.0 1100.1L275.3 970.7L275.6 1110.0L276.0 990.7L276.3 1108.7L276.6 985.4L277.0 1114.4L277.3 988.7L277.4 1064.8L277.6 948.0L277.9 1064.8L277.6 1142.7L277.9 1064.8L278.1 1156.5L278.4 1064.8L278.0 1009.5L278.3 1106.3L278.6 973.3L279.0 1103.9L279.3 983.7L279.6 1097.0L280.0 1004.8L280.3 1094.9L280.6 1004.0L281.0 1105.5L281.3 975.8L281.6 1095.3L282.0 1012.3L282.3 1093.7L282.6 1012.5L283.0 1100.1L283.3 1000.8L283.6 1094.5L284.0 1016.1L284.3 1092.4L284.6 958.0L285.0 1097.4L285.3 950.5L285.6 1101.2L286.0 1000.1L286.3 1097.9L286.6 1001.8L287.0 1103.4L287.3 993.3L287.6 1091.8L288.0 1002.1L288.3 1088.7L288.6 989.7L289.0 1095.4L289.3 1019.4L289.6 1131.0L290.0 1009.2L290.3 1104.9L290.7 1022.3L291.0 1090.8L291.3 1013.1L291.7 1093.3L292.0 1013.0L292.3 1095.9L292.7 1020.0L293.0 1097.7L293.3 1021.4L293.7 1112.5L294.0 1020.4L294.3 1094.4L294.7 1013.1L295.0 1092.2L295.2 1061.4L295.5 957.0L295.8 1061.4L295.3 1010.1L295.7 1097.8L296.0 1002.2L296.3 1093.5L296.7 949.6L297.0 1091.1L297.3 993.7L297.7 1097.2L298.0 1000.0L298.3 1091.3L298.7 1003.4L299.0 1093.6L299.3 1011.6L299.7 1093.7L300.0 1017.0L300.3 1123.2L300.7 1010.5L301.0 1088.3L301.3 1003.2L301.7 1092.7L302.0 947.9L302.3 1092.3L302.7 995.0L303.0 1117.1L303.3 1008.7L303.7 1096.9L303.9 1059.8L304.2 923.5L304.4 1059.8L304.0 960.6L304.3 1107.3L304.7 997.0L305.0 1107.7L305.3 989.9L305.7 1107.5L306.0 986.2L306.3 1124.5L306.7 1012.6L307.0 1117.2L307.3 963.9L307.7 1100.1L308.0 942.5L308.3 1095.8L308.7 998.3L309.0 1123.1L309.3 1000.3L309.7 1099.9L310.0 988.0L310.3 1099.3L310.7 1006.5L311.0 1104.0L311.3 1009.8L311.7 1095.2L312.0 1003.7L312.3 1085.3L312.7 962.4L313.0 1103.1L313.3 952.9L313.7 1091.2L314.0 1014.4L314.3 1086.0L314.7 1019.3L315.0 1087.6L315.3 997.7L315.7 1086.0L316.0 1010.3L316.3 1091.8L316.4 1057.5L316.6 887.4L316.9 1057.5L316.7 972.0L317.0 1095.4L317.3 982.8L317.7 1100.0L318.0 985.9L318.3 1115.3L318.7 1001.1L319.0 1098.9L319.3 950.0L319.7 1131.7L320.0 994.8L320.3 1114.0L320.7 992.5L320.8 1056.7L321.0 865.6L321.2 1056.7L321.0 1101.9L321.3 974.1L321.7 1092.2L322.0 995.2L322.3 1111.2L322.7 1008.6L323.0 1095.9L323.3 1007.2L323.7 1082.2L324.0 1011.8L324.3 1090.2L324.7 1009.5L325.0 1089.8L325.3 1004.7L325.7 1089.3L326.0 986.9L326.3 1083.7L326.7 1001.3L327.0 1089.8L327.3 1012.6L327.7 1057.1L328.0 1051.7L328.3 1056.7L328.7 1051.9L329.0 1056.2L329.3 1052.6L329.7 1056.2L330.0 1052.3L330.3 1056.2L330.7 1052.5L331.0 1056.7L331.3 1052.4L331.7 1056.4L332.0 1052.4L332.3 1056.6L332.7 1051.6L333.0 1057.0L333.3 1050.2L333.7 1057.2L334.0 1051.8L334.3 1058.1L334.7 1051.0L335.0 1056.3L335.3 1049.7L335.7 1056.4L336.0 1050.8L336.3 1058.0L336.7 1048.9L337.0 1055.6L337.3 1049.8L337.7 1055.9L338.0 1049.2L338.3 1056.3L338.7 1048.7L339.0 1055.4L339.3 1047.9L339.7 1056.4L340.0 1047.7L340.3 1054.8L340.7 1045.5L341.0 1054.6L341.3 1047.7L341.7 1056.7L342.0 1048.1L342.3 1054.2L342.7 1045.3L343.0 1053.6L343.3 1045.5L343.7 1054.7L344.0 1047.9L344.3 1054.4L344.7 1046.8L345.0 1056.2L345.3 1046.3L345.7 1054.5L346.0 1046.1L346.3 1053.1L346.7 1046.9L347.0 1052.9L347.3 1046.6L347.7 1052.7L348.0 1046.9L348.3 1052.5L348.7 1046.0L349.0 1052.1L349.3 1046.5L349.7 1052.2L350.0 1046.5L350.3 1051.9L350.7 1046.8L351.0 1052.3L351.3 1045.5L351.7 1052.0L352.0 1045.7L352.3 1051.5L352.7 1046.3L353.0 1051.0L353.3 1045.8L353.7 1051.3L354.0 1046.2L354.3 1052.1L354.7 1046.0L355.0 1051.2L355.3 1046.2L355.7 1053.0L356.0 1045.8L356.3 1051.4L356.7 1046.1L357.0 1050.9L357.3 1045.8L357.7 1051.2L358.0 1044.2L358.3 1051.9L358.7 1044.0L359.0 1051.9L359.3 1044.9L359.7 1052.3L360.0 1043.1L360.3 1051.9L360.7 1045.0L361.0 1053.2L361.3 1045.3L361.7 1051.1L362.0 1043.6L362.3 1053.8L362.7 1044.7L363.0 1050.5L363.3 1045.6L363.7 1050.9L364.0 1044.8L364.3 1050.7L364.7 1045.1L365.0 1051.3L365.3 1045.2L365.7 1052.8L366.0 1045.3L366.3 1050.7L366.7 1045.1L367.0 1050.0L367.3 1044.3L367.7 1049.4L368.0 1044.4L368.3 1050.6L368.7 1043.7L369.0 1049.9L369.3 1044.1L369.7 1049.9L370.0 1043.7L370.3 1050.6L370.7 1043.3L371.0 1053.1L371.3 1041.6L371.7 1049.8L372.0 1043.6L372.3 1049.9L372.7 1041.4L373.0 1050.1L373.3 1043.8L373.7 1049.2L374.0 1043.0L374.3 1049.1L374.7 1041.8L375.0 1049.4L375.3 1043.3L375.7 1048.6L376.0 1040.6L376.3 1049.7L376.7 1043.3L377.0 1048.7L377.3 1041.6L377.7 1048.7L378.0 1042.9L378.3 1048.2L378.7 1042.8L379.0 1050.3L379.3 1043.2L379.7 1048.9L380.0 1043.3L380.3 1046.7L380.7 1043.1L381.0 1046.9L381.3 1043.1L381.7 1046.7L382.0 1042.9L382.3 1046.7L382.7 1042.5L383.0 1046.9L383.3 1042.2L383.7 1046.8L384.0 1039.2L384.3 1047.9L384.7 1041.9L385.0 1046.7L385.3 1041.3L385.7 1049.0L386.0 1041.2L386.3 1046.6L386.7 1041.4L387.0 1046.6L387.3 1041.3L387.7 1046.8L388.0 1041.6L388.3 1046.9L388.7 1041.1L389.0 1046.8L389.3 1041.4L389.7 1046.6L390.0 1038.4L390.3 1047.0L390.7 1039.9L391.0 1047.5L391.3 1041.5L391.7 1046.4L392.0 1039.1L392.3 1049.0L392.7 1040.9L393.0 1048.2L393.3 1040.8L393.7 1046.5L394.0 1041.4L394.3 1046.1L394.7 1041.0L395.0 1045.4L395.3 1040.6L395.7 1045.6L396.0 1041.0L396.3 1045.6L396.7 1040.0L397.0 1044.9L397.3 1040.4L397.7 1044.9L398.0 1040.1L398.3 1044.9L398.7 1039.7L399.0 1047.4L399.3 1040.2L399.7 1045.0L400.0 1040.2L400.3 1045.0L400.7 1040.4L401.0 1044.9L401.3 1040.1L401.7 1045.2L402.0 1038.9L402.3 1046.7L402.7 1039.5L403.0 1046.1L403.3 1038.9L403.7 1045.0L404.0 1039.3L404.3 1044.2L404.7 1039.2L405.0 1045.9L405.4 1039.1L405.7 1043.9L406.0 1038.9L406.4 1043.7L406.7 1038.8L407.0 1045.5L407.4 1038.6L407.7 1044.2L408.0 1039.0L408.4 1043.4L408.7 1038.8L409.0 1042.9L409.4 1039.4L409.7 1042.6L410.0 1039.5L410.4 1042.9L410.7 1039.1L411.0 1043.3L411.4 1039.3L411.7 1043.1L412.0 1039.0L412.4 1043.0L412.7 1038.3L413.0 1043.7L413.4 1039.1L413.7 1043.5L414.0 1039.2L414.4 1043.5L414.7 1039.0L415.0 1043.3L415.4 1038.5L415.7 1044.2L416.0 1038.2L416.4 1043.5L416.7 1037.9L417.0 1045.1L417.4 1035.5L417.7 1044.0L418.0 1036.5L418.4 1043.7L418.7 1037.4L419.0 1044.2L419.4 1035.8L419.7 1043.2L420.0 1036.4L420.4 1043.6L420.7 1034.5L421.0 1043.0L421.4 1037.7L421.7 1042.9L422.0 1037.4L422.4 1042.8L422.7 1038.1L423.0 1042.7L423.4 1037.9L423.7 1042.7L424.0 1038.4L424.4 1042.8L424.7 1038.2L425.0 1042.5L425.4 1038.3L425.7 1042.6L426.0 1038.2L426.4 1042.7L426.7 1038.8L427.0 1044.2L427.4 1039.0L427.7 1042.5L428.0 1039.2L428.4 1042.3L428.7 1038.7L429.0 1042.6L429.4 1038.7L429.7 1042.7L430.0 1038.5L430.4 1042.4L430.7 1037.9L431.0 1042.7L431.4 1037.9L431.7 1042.8L432.0 1038.0L432.4 1042.6L432.7 1037.5L433.0 1043.4L433.4 1037.5L433.7 1042.5L434.0 1037.2L434.4 1042.0L434.7 1036.9L435.0 1042.9L435.4 1034.6L435.7 1044.5L436.0 1037.3L436.4 1042.2L436.7 1037.1L437.0 1042.5L437.4 1038.0L437.7 1045.6L438.0 1036.8L438.4 1042.1L438.7 1037.3L439.0 1042.6L439.4 1037.1L439.7 1042.6L440.0 1038.0L440.4 1045.3L440.7 1037.8L441.0 1042.7L441.4 1038.1L441.7 1042.9L442.0 1037.9L442.4 1042.5L442.7 1036.1L443.0 1045.1L443.4 1038.3L443.7 1042.9L444.0 1038.6L444.4 1042.2L444.7 1038.3L445.0 1044.1L445.4 1038.4L445.7 1043.1L446.0 1038.1L446.4 1042.6L446.7 1037.5L447.0 1042.5L447.4 1036.5L447.7 1043.0L448.0 1038.3L448.4 1042.5L448.7 1038.3L449.0 1042.3L449.4 1038.0L449.7 1042.6L450.0 1037.8L450.4 1041.9L450.7 1037.7L451.0 1042.6L451.4 1037.2L451.7 1042.2L452.0 1037.2L452.4 1045.8L452.7 1037.7L453.0 1044.2L453.4 1035.6L453.7 1042.5L454.0 1033.9L454.4 1043.0L454.7 1034.7L455.0 1041.9L455.4 1036.9L455.7 1042.2L456.0 1034.4L456.4 1042.4L456.7 1034.1L457.0 1044.2L457.4 1034.0L457.7 1043.9L458.0 1036.7L458.4 1042.6L458.7 1037.0L459.0 1043.3L459.4 1035.7L459.7 1045.1L460.0 1038.0L460.4 1042.4L460.7 1037.4L461.0 1044.1L461.4 1037.8L461.7 1043.9L462.0 1037.7L462.4 1042.0L462.7 1038.1L463.0 1042.5L463.4 1037.0L463.7 1042.5L464.0 1038.2L464.4 1042.5L464.7 1037.8L465.0 1041.9L465.4 1036.9L465.7 1042.5L466.0 1037.2L466.4 1042.5L466.7 1037.3L467.0 1041.8L467.4 1037.0L467.7 1041.7L468.0 1037.6L468.4 1041.6L468.7 1037.3L469.0 1041.8L469.4 1037.6L469.7 1041.5L470.0 1037.3L470.4 1041.8L470.7 1037.4L471.0 1041.2L471.4 1037.8L471.7 1041.2L472.0 1038.0L472.4 1043.7L472.7 1037.7L473.0 1041.8L473.4 1038.2L473.7 1041.8L474.0 1037.9L474.4 1042.1L474.7 1038.1L475.0 1042.2L475.4 1037.4L475.7 1042.5L476.0 1037.9L476.4 1042.6L476.7 1034.9L477.0 1042.9L477.4 1037.9L477.7 1043.3L478.0 1037.6L478.4 1043.0L478.7 1037.9L479.0 1042.8L479.4 1037.3L479.7 1042.6L480.0 1037.5L480.4 1042.2L480.7 1036.9L481.0 1042.0L481.4 1037.4L481.7 1041.6L482.0 1037.2L482.4 1040.9L482.7 1037.1L483.0 1041.4L483.4 1036.5L483.7 1040.6L484.0 1036.5L484.4 1040.8L484.7 1034.8L485.0 1041.6L485.4 1032.5L485.7 1042.1L486.0 1035.5L486.4 1042.8L486.7 1033.3L487.0 1043.4L487.4 1036.7L487.7 1041.9L488.0 1035.3L488.4 1041.9L488.7 1037.0L489.0 1042.1L489.4 1037.0L489.7 1042.2L490.0 1037.8L490.4 1042.3L490.7 1038.1L491.0 1044.8L491.4 1038.2L491.7 1042.6L492.0 1038.4L492.4 1042.3L492.7 1038.1L493.0 1042.3L493.4 1037.7L493.7 1042.3L494.0 1036.3L494.4 1041.5L494.7 1037.6L495.0 1041.2L495.4 1036.8L495.7 1044.1L496.0 1037.0L496.4 1041.0L496.7 1033.8L497.0 1041.9L497.4 1035.6L497.7 1040.8L498.0 1035.6L498.4 1044.0L498.7 1034.7L499.0 1042.1L499.4 1035.6L499.7 1040.7L500.0 1035.0L500.4 1041.8L500.7 1035.3L501.0 1040.4L501.4 1034.3L501.7 1040.1L502.0 1035.4L502.4 1040.5L502.7 1035.6L503.0 1040.2L503.4 1035.3L503.7 1040.8L504.0 1035.2L504.4 1039.8L504.7 1033.9L505.0 1040.1L505.4 1033.5L505.7 1040.5L506.0 1035.1L506.4 1039.8L506.7 1035.1L507.0 1042.0L507.4 1034.0L507.7 1040.3L508.0 1034.3L508.4 1040.4L508.7 1034.9L509.0 1040.1L509.4 1034.9L509.7 1042.5L510.0 1034.7L510.4 1039.5L510.7 1035.0L511.0 1041.3L511.4 1035.2L511.7 1039.6L512.0 1035.9L512.4 1039.7L512.7 1035.3L513.0 1039.7L513.4 1035.7L513.7 1040.1L514.0 1035.4L514.4 1039.9L514.7 1035.2L515.0 1039.9L515.4 1032.3L515.7 1043.2L516.0 1033.1L516.4 1040.3L516.7 1033.4L517.0 1040.6L517.4 1035.7L517.7 1040.3L518.0 1036.0L518.4 1040.4L518.7 1035.6L519.1 1042.5L519.4 1036.0L519.7 1042.2L520.1 1036.4L520.4 1042.8L520.7 1036.7L521.1 1040.4L521.4 1037.0L521.7 1040.5L522.1 1036.9L522.4 1040.3L522.7 1036.7L523.1 1040.5L523.4 1034.6L523.7 1040.6L524.1 1036.7L524.4 1040.4L524.7 1036.4L525.1 1040.8L525.4 1035.9L525.7 1040.1L526.1 1035.9L526.4 1040.5L526.7 1035.7L527.1 1040.2L527.4 1035.8L527.7 1040.4L528.1 1031.9L528.4 1042.6L528.7 1035.6L529.1 1040.9L529.4 1035.9L529.7 1041.0L530.1 1035.7L530.4 1040.3L530.7 1035.6L531.1 1040.1L531.4 1035.9L531.7 1040.5L532.1 1034.0L532.4 1040.2L532.7 1036.0L533.1 1040.0L533.4 1035.9L533.7 1039.8L534.1 1035.5L534.4 1041.3L534.7 1034.0L535.1 1040.0L535.4 1034.5L535.7 1040.2L536.1 1035.1L536.4 1039.7L536.7 1034.7L537.1 1039.5L537.4 1034.2L537.7 1039.9L538.1 1034.8L538.4 1039.8L538.7 1034.0L539.1 1040.0L539.4 1033.1L539.7 1039.9L540.1 1034.5L540.4 1039.3L540.7 1030.8L541.1 1039.4L541.4 1033.9L541.7 1039.0L542.1 1034.2L542.4 1039.8L542.7 1034.4L543.1 1040.1L543.4 1033.7L543.7 1038.5L544.1 1034.2L544.4 1039.6L544.7 1034.0L545.1 1038.3L545.4 1034.2L545.7 1037.5L546.1 1034.4L546.4 1038.5L546.7 1034.3L547.1 1037.5L547.4 1033.9L547.7 1037.3L548.1 1031.5L548.4 1038.2L548.7 1032.2L549.1 1037.7L549.4 1033.3L549.7 1040.1L550.1 1030.0L550.4 1038.6L550.7 1034.1L551.1 1038.3L551.4 1034.4L551.7 1038.8L552.1 1034.8L552.4 1039.1L552.7 1035.1L553.1 1039.0L553.4 1035.1L553.7 1040.9L554.1 1035.3L554.4 1039.3L554.7 1035.1L555.1 1040.9L555.4 1034.4L555.7 1039.9L556.1 1035.1L556.4 1040.7L556.7 1034.8L557.1 1039.9L557.4 1035.4L557.7 1039.9L558.1 1035.3L558.4 1039.9L558.7 1034.7L559.1 1039.8L559.4 1035.3L559.7 1039.4L560.1 1035.1L560.4 1039.1L560.7 1034.8L561.1 1039.2L561.4 1034.1L561.7 1039.3L562.1 1033.9L562.4 1039.3L562.7 1034.2L563.1 1038.5L563.4 1034.2L563.7 1040.9L564.1 1031.2L564.4 1039.8L564.7 1034.3L565.1 1038.7L565.4 1033.7L565.7 1039.4L566.1 1034.0L566.4 1039.5L566.7 1033.5L567.1 1037.8L567.4 1033.3L567.7 1037.8L568.1 1033.2L568.4 1038.6L568.7 1033.7L569.1 1038.2L569.4 1032.7L569.7 1038.1L570.1 1033.3L570.4 1038.4L570.7 1032.7L571.1 1038.1L571.4 1033.3L571.7 1038.0L572.1 1032.8L572.4 1038.1L572.7 1031.6L573.1 1037.8L573.4 1033.8L573.7 1039.0L574.1 1033.9L574.4 1038.4L574.7 1032.5L575.1 1038.9L575.4 1034.2L575.7 1038.7L576.1 1032.2L576.4 1038.5L576.7 1034.5L577.1 1038.9L577.4 1034.4L577.7 1039.0L578.1 1034.0L578.4 1038.5L578.7 1034.7L579.1 1039.1L579.4 1032.7L579.7 1039.0L580.1 1034.7L580.4 1039.2L580.7 1034.1L581.1 1038.9L581.4 1031.7L581.7 1042.4L582.1 1034.7L582.4 1039.4L582.7 1034.8L583.1 1039.4L583.4 1034.6L583.7 1039.5L584.1 1033.8L584.4 1039.5L584.7 1034.5L585.1 1041.5L585.4 1034.1L585.7 1039.0L586.1 1034.6L586.4 1038.3L586.7 1034.3L587.1 1038.0L587.4 1034.2L587.7 1038.6L588.1 1031.8L588.4 1037.6L588.7 1033.2L589.1 1037.4L589.4 1033.5L589.7 1037.6L590.1 1032.5L590.4 1037.0L590.7 1032.8L591.1 1036.5L591.4 1032.3L591.7 1036.4L592.1 1032.0L592.4 1036.9L592.7 1032.7L593.1 1037.3L593.4 1032.2L593.7 1036.2L594.1 1032.5L594.4 1036.1L594.7 1029.6L595.1 1036.7L595.4 1032.1L595.7 1036.0L596.1 1031.9L596.4 1036.5L596.7 1031.6L597.1 1036.4L597.4 1031.7L597.7 1039.1L598.1 1032.3L598.4 1036.7L598.7 1031.5L599.1 1036.9L599.4 1031.9L599.7 1036.9L600.1 1032.3L600.4 1036.9L600.7 1032.5L601.1 1037.0L601.4 1032.3L601.7 1036.8L602.1 1032.9L602.4 1036.5L602.7 1032.9L603.1 1036.8L603.4 1033.2L603.7 1036.8L604.1 1031.9L604.4 1036.7L604.7 1031.1L605.1 1040.2L605.4 1032.7L605.7 1037.5L606.1 1031.5L606.4 1037.2L606.7 1032.5L607.1 1038.7L607.4 1032.8L607.7 1037.6L608.1 1033.3L608.4 1037.1L608.7 1033.4L609.1 1036.9L609.4 1033.0L609.7 1036.6L610.1 1033.1L610.4 1037.8L610.7 1033.0L611.1 1036.8L611.4 1032.2L611.7 1036.5L612.1 1032.8L612.4 1036.5L612.7 1029.9L613.1 1036.7L613.4 1032.0L613.7 1036.7L614.1 1031.7L614.4 1036.3L614.7 1032.0L615.1 1035.8L615.4 1031.9L615.7 1038.3L616.1 1031.1L616.4 1035.8L616.7 1032.0L617.1 1035.8L617.4 1031.9L617.7 1037.8L618.1 1028.8L618.4 1036.0L618.7 1032.4L619.1 1036.9L619.4 1031.7L619.7 1038.6L620.1 1032.3L620.4 1035.9L620.7 1032.1L621.1 1035.6L621.4 1032.1L621.7 1035.7L622.1 1032.7L622.4 1038.4L622.7 1032.9L623.1 1035.4L623.4 1032.8L623.7 1035.7L624.1 1032.6L624.4 1035.8L624.7 1032.7L625.1 1036.2L625.4 1032.1L625.7 1036.4L626.1 1032.4L626.4 1037.1L626.7 1032.3L627.1 1038.1L627.4 1032.7L627.7 1037.1L628.1 1033.0L628.4 1036.7L628.7 1032.8L629.1 1036.9L629.4 1031.3L629.7 1036.9L630.1 1032.4L630.4 1036.7L630.7 1032.6L631.1 1036.6L631.4 1032.6L631.7 1036.6L632.1 1032.4L632.4 1036.9L632.7 1032.9L633.1 1036.5L633.4 1032.4L633.8 1036.6L634.1 1032.4L634.4 1039.0L634.8 1032.2L635.1 1037.6L635.4 1031.7L635.8 1038.8L636.1 1029.9L636.4 1036.3L636.8 1031.5L637.1 1035.6L637.4 1031.4L637.8 1035.8L638.1 1031.8L638.4 1035.7L638.8 1031.7L639.1 1035.1L639.4 1031.9L639.8 1035.4L640.1 1031.6L640.4 1034.9L640.8 1031.3L641.1 1034.9L641.4 1031.4L641.8 1034.9L642.1 1028.9L642.4 1035.2L642.8 1029.7L643.1 1035.9L643.4 1030.7L643.8 1034.5L644.1 1031.1L644.4 1034.9L644.8 1031.1L645.1 1034.6L645.4 1030.6L645.8 1034.8L646.1 1031.4L646.4 1047.6L646.8 1011.0L647.1 1072.3L647.4 997.7L647.8 1048.8L648.1 985.7L648.4 1033.5L648.6 945.1L648.9 1033.5L648.4 1053.3L648.8 977.1L649.1 1049.5L649.4 1004.7L649.8 1055.9L650.1 1008.4L650.4 1051.6L650.8 976.7L651.1 1063.2L651.4 1012.5L651.8 1063.1L652.1 997.5L652.4 1054.6L652.8 1006.9L653.1 1054.1L653.4 1010.7L653.8 1053.6L654.1 1015.0L654.4 1054.3L654.8 1017.0L655.1 1052.4L655.4 1012.1L655.8 1053.5L656.1 1012.4L656.4 1052.6L656.8 1012.8L657.1 1056.2L657.4 976.9L657.8 1055.6L658.0 1033.3L658.2 1082.0L658.5 1033.3L658.1 1010.7L658.4 1054.9L658.8 1000.9L659.1 1081.4L659.4 1001.5L659.8 1079.5L660.1 1000.0L660.4 1056.8L660.8 1001.7L661.1 1055.4L661.4 982.3L661.8 1049.5L662.1 986.8L662.4 1053.7L662.8 994.3L663.1 1049.0L663.4 1006.8L663.8 1055.0L664.1 1007.9L664.4 1067.1L664.8 1010.2L665.1 1049.0L665.4 1003.3L665.8 1056.1L666.1 1005.4L666.4 1054.3L666.8 1007.0L667.1 1055.9L667.4 1009.7L667.5 1033.1L667.8 915.2L668.0 1033.1L667.8 1053.8L668.1 1010.4L668.4 1052.1L668.8 999.4L669.1 1059.8L669.4 1006.3L669.8 1056.1L670.1 984.6L670.4 1059.2L670.8 1008.4L671.1 1055.9L671.4 1005.4L671.8 1056.3L672.1 1008.3L672.4 1050.0L672.8 1010.5L673.1 1053.7L673.4 1005.6L673.8 1074.8L674.1 1009.1L674.4 1048.8L674.8 1009.3L675.1 1053.2L675.4 1005.1L675.8 1054.3L676.1 972.9L676.4 1050.9L676.8 1010.4L677.1 1052.1L677.4 980.1L677.8 1049.8L678.1 1003.6L678.4 1063.4L678.8 998.2L679.1 1055.0L679.4 1009.6L679.8 1045.8L680.1 1011.5L680.4 1055.6L680.8 1007.2L681.1 1048.8L681.4 1005.5L681.8 1060.3L682.1 1008.5L682.4 1045.6L682.8 1012.1L683.1 1050.8L683.4 1000.9L683.8 1048.0L684.1 1007.7L684.4 1061.3L684.8 997.9L685.1 1068.7L685.4 1008.1L685.8 1077.2L686.1 1006.3L686.4 1061.2L686.8 1008.6L687.1 1055.8L687.4 1006.9L687.8 1053.3L688.1 1011.3L688.4 1055.2L688.8 1013.5L689.1 1050.5L689.4 1007.7L689.8 1047.8L690.1 1003.5L690.4 1050.4L690.8 1009.5L691.1 1050.0L691.4 1001.1L691.8 1047.9L692.1 1007.1L692.4 1063.5L692.8 968.2L693.1 1053.8L693.4 1003.7L693.8 1071.2L693.9 1032.7L694.1 1085.0L694.4 1032.7L694.1 1008.3L694.4 1046.9L694.8 980.3L695.1 1050.9L695.4 1007.3L695.8 1053.0L696.1 986.7L696.4 1048.9L696.8 993.6L697.1 1046.4L697.4 1013.5L697.8 1056.2L698.1 1011.3L698.4 1048.8L698.8 998.5L699.1 1049.4L699.4 1007.1L699.8 1052.3L700.1 1012.0L700.4 1066.3L700.8 1004.4L701.1 1060.1L701.4 1009.1L701.8 1062.9L702.1 1005.7L702.4 1062.6L702.8 1005.5L703.1 1057.1L703.4 980.4L703.8 1054.9L704.1 984.5L704.4 1067.1L704.8 1003.9L705.1 1078.3L705.4 1001.5L705.8 1069.8L706.1 985.2L706.4 1069.0L706.8 966.9L707.1 1057.4L707.4 975.7L707.8 1053.5L708.1 999.7L708.4 1073.1L708.8 991.2L709.1 1053.7L709.4 1002.9L709.8 1080.4L710.1 970.2L710.4 1053.8L710.8 1000.7L711.1 1055.5L711.4 1008.6L711.8 1052.5L712.1 993.2L712.4 1053.7L712.8 1015.2L713.1 1044.9L713.4 1014.3L713.8 1047.5L714.1 1013.9L714.4 1069.5L714.8 1013.7L715.1 1048.9L715.4 1006.7L715.8 1055.9L716.1 1007.2L716.4 1062.3L716.8 1012.4L717.1 1051.5L717.4 983.6L717.8 1054.4L718.1 974.9L718.4 1055.2L718.8 1014.9L719.1 1051.6L719.4 1012.8L719.8 1053.1L720.1 992.0L720.4 1054.7L720.8 1015.1L721.1 1054.5L721.4 1011.3L721.8 1050.1L722.1 1006.1L722.4 1056.5L722.8 1011.9L723.1 1054.3L723.4 990.9L723.8 1067.4L724.1 1008.0L724.4 1058.5L724.8 1011.9L725.1 1051.3L725.4 972.3L725.8 1053.8L726.1 1004.0L726.4 1054.2L726.8 1011.2L727.1 1055.1L727.4 1001.7L727.8 1058.4L728.1 977.8L728.4 1051.4L728.8 1011.8L729.1 1056.2L729.1 1032.1L729.4 955.6L729.6 1032.1L729.4 989.2L729.8 1057.6L730.1 1008.9L730.4 1050.8L730.8 1007.4L731.1 1051.5L731.4 1001.3L731.8 1074.6L732.1 1007.6L732.4 1059.6L732.8 1006.9L733.1 1058.9L733.4 1009.8L733.8 1053.9L734.1 1002.7L734.4 1054.4L734.8 993.8L735.1 1052.7L735.4 1002.7L735.8 1054.5L736.1 998.4L736.2 1032.0L736.4 1080.0L736.6 1032.0L736.4 1054.9L736.8 1007.3L737.1 1050.9L737.4 1004.0L737.8 1055.5L738.1 996.5L738.4 1049.2L738.8 1000.0L739.1 1064.6L739.4 1010.2L739.8 1049.6L740.1 982.4L740.4 1053.2L740.8 1008.7L741.1 1048.8L741.4 1007.4L741.8 1061.4L742.1 1007.5L742.4 1049.3L742.8 992.1L743.1 1050.9L743.4 1007.1L743.8 1048.4L744.1 997.3L744.4 1050.3L744.8 976.9L745.1 1047.5L745.4 996.4L745.5 1031.9L745.7 963.0L746.0 1031.9L745.8 1052.5L746.1 999.8L746.4 1048.5L746.8 1000.1L747.1 1055.4L747.5 964.7L747.8 1062.6L748.1 1003.2L748.5 1050.4L748.8 1007.0L749.1 1048.8L749.5 1000.7L749.8 1047.5L750.1 991.2L750.5 1044.7L750.8 997.5L751.1 1049.1L751.5 997.0L751.8 1048.8L752.1 1006.2L752.5 1045.5L752.8 1011.7L753.1 1044.2L753.5 1007.3L753.8 1045.3L754.1 1010.5L754.5 1054.1L754.8 1010.0L755.1 1047.4L755.5 994.6L755.8 1052.1L756.1 1004.8L756.5 1062.9L756.8 1006.3L757.1 1051.1L757.5 1012.3L757.8 1066.2L758.1 1005.1L758.5 1056.4L758.8 973.8L759.1 1052.8L759.5 1007.0L759.8 1069.9L760.1 1004.7L760.5 1058.6L760.8 987.8L761.1 1052.6L761.5 1009.8L761.8 1054.0L762.1 985.0L762.5 1051.9L762.8 988.8L763.1 1072.5L763.5 1005.9L763.8 1048.7L764.1 1007.4L764.5 1048.4L764.8 1007.5L765.1 1051.2L765.5 992.3L765.8 1046.0L766.1 1008.4L766.5 1049.4L766.8 1014.6L767.1 1048.2L767.5 1009.9L767.8 1048.0L768.1 1006.6L768.5 1046.6L768.8 1004.6L769.1 1034.6L769.5 1027.7L769.8 1034.0L770.1 1028.4L770.5 1033.6L770.8 1026.9L771.1 1033.7L771.5 1028.2L771.8 1033.9L772.1 1028.3L772.5 1033.5L772.8 1028.5L773.1 1037.9L773.5 1028.3L773.8 1034.0L774.1 1028.6L774.5 1034.2L774.8 1029.2L775.1 1035.0L775.5 1028.9L775.8 1034.5L776.1 1029.2L776.5 1034.5L776.8 1029.2L777.1 1034.6L777.5 1027.7L777.8 1036.5L778.1 1029.2L778.5 1034.9L778.8 1029.8L779.1 1035.8L779.5 1029.8L779.8 1034.8L780.1 1029.7L780.5 1035.8L780.8 1027.3L781.1 1035.6L781.5 1029.3L781.8 1036.6L782.1 1029.0L782.5 1037.0L782.8 1027.9L783.1 1035.6L783.5 1027.0L783.8 1036.4L784.1 1029.4L784.5 1035.1L784.8 1028.0L785.1 1035.1L785.5 1029.0L785.8 1034.8L786.1 1026.4L786.5 1034.0L786.8 1029.4L787.1 1035.2L787.5 1028.4L787.8 1034.3L788.1 1028.5L788.5 1034.2L788.8 1027.6L789.1 1034.7L789.5 1026.5L789.8 1034.3L790.1 1028.9L790.5 1034.2L790.8 1028.6L791.1 1034.6L791.5 1028.6L791.8 1034.1L792.1 1028.6L792.5 1038.2L792.8 1028.1L793.1 1034.8L793.5 1029.2L793.8 1034.5L794.1 1028.8L794.5 1034.8L794.8 1029.4L795.1 1034.4L795.5 1028.8L795.8 1035.1L796.1 1026.1L796.5 1035.3L796.8 1028.6L797.1 1035.4L797.5 1029.3L797.8 1037.7L798.1 1028.4L798.5 1034.4L798.8 1028.8L799.1 1035.1L799.5 1028.7L799.8 1034.6L800.1 1028.4L800.5 1036.0L800.8 1028.3L801.1 1033.5L801.5 1024.7L801.8 1033.8L802.1 1028.0L802.5 1034.4L802.8 1028.1L803.1 1035.5L803.5 1027.6L803.8 1033.8L804.1 1026.9L804.5 1035.1L804.8 1028.4L805.1 1034.5L805.5 1027.3L805.8 1034.2L806.1 1028.0L806.5 1034.4L806.8 1028.1L807.1 1035.5L807.5 1027.9L807.8 1034.1L808.1 1027.4L808.5 1035.2L808.8 1025.5L809.1 1033.8L809.5 1027.8L809.8 1034.8L810.1 1028.5L810.5 1034.3L810.8 1027.9L811.1 1033.9L811.5 1028.2L811.8 1035.5L812.1 1028.6L812.5 1034.4L812.8 1029.0L813.1 1035.0L813.5 1029.3L813.8 1034.8L814.1 1027.6L814.5 1037.5L814.8 1029.4L815.1 1035.6L815.5 1029.6L815.8 1035.0L816.1 1029.2L816.5 1035.3L816.8 1026.3L817.1 1035.7L817.5 1028.8L817.8 1035.3L818.1 1027.5L818.5 1036.2L818.8 1029.3L819.1 1035.5L819.5 1030.0L819.8 1035.2L820.1 1027.8L820.5 1034.4L820.8 1030.2L821.1 1036.5L821.5 1027.9L821.8 1034.3L822.1 1030.7L822.5 1034.7L822.8 1030.5L823.1 1034.5L823.5 1030.1L823.8 1034.5L824.1 1029.5L824.5 1035.0L824.8 1026.7L825.1 1034.7L825.5 1028.9L825.8 1035.1L826.1 1029.4L826.5 1034.7L826.8 1029.0L827.1 1034.1L827.5 1029.2L827.8 1034.4L828.1 1029.2L828.5 1034.1L828.8 1028.9L829.1 1034.6L829.5 1028.2L829.8 1034.7L830.1 1027.5L830.5 1036.4L830.8 1027.8L831.1 1034.3L831.5 1027.7L831.8 1035.2L832.1 1025.9L832.5 1034.0L832.8 1028.0L833.1 1034.2L833.5 1027.4L833.8 1036.2L834.1 1025.8L834.5 1035.9L834.8 1027.1L835.1 1033.0L835.5 1027.8L835.8 1034.7L836.1 1026.9L836.5 1032.7L836.8 1025.7L837.1 1035.4L837.5 1024.6L837.8 1033.4L838.1 1026.5L838.5 1032.9L838.8 1027.0L839.1 1033.3L839.5 1027.2L839.8 1033.1L840.1 1028.1L840.5 1033.0L840.8 1028.0L841.1 1033.1L841.5 1028.3L841.8 1033.5L842.1 1028.1L842.5 1033.6L842.8 1028.0L843.1 1034.2L843.5 1028.4L843.8 1034.4L844.1 1027.8L844.5 1033.9L844.8 1028.8L845.1 1034.2L845.5 1028.8L845.8 1034.7L846.1 1029.6L846.5 1035.0L846.8 1029.0L847.1 1034.7L847.5 1029.3L847.8 1035.4L848.1 1028.1L848.5 1035.0L848.8 1029.9L849.1 1034.6L849.5 1029.4L849.8 1036.9L850.1 1030.0L850.5 1034.3L850.8 1029.8L851.1 1034.6L851.5 1029.9L851.8 1034.1L852.1 1029.4L852.5 1034.6L852.8 1029.4L853.1 1034.3L853.5 1024.4L853.8 1035.5L854.1 1028.4L854.5 1034.6L854.8 1028.6L855.1 1034.3L855.5 1027.1L855.8 1034.4L856.1 1028.7L856.5 1034.1L856.8 1029.0L857.1 1033.8L857.5 1028.7L857.8 1034.7L858.1 1028.9L858.5 1034.6L858.8 1028.3L859.1 1034.7L859.5 1028.6L859.8 1034.0L860.1 1028.1L860.5 1037.4L860.8 1027.3L861.2 1035.2L861.5 1027.7L861.8 1033.9L862.2 1028.2L862.5 1034.6L862.8 1026.5L863.2 1035.3L863.5 1027.8L863.8 1033.9L864.2 1027.7L864.5 1034.7L864.8 1028.7L865.2 1033.4L865.5 1028.2L865.8 1033.4L866.2 1028.3L866.5 1033.6L866.8 1028.1L867.2 1033.7L867.5 1028.0L867.8 1033.7L868.2 1025.3L868.5 1033.1L868.8 1027.9L869.2 1033.5L869.5 1024.5L869.8 1033.8L870.2 1027.2L870.5 1033.6L870.8 1027.3L871.2 1033.4L871.5 1027.3L871.8 1034.2L872.2 1027.2L872.5 1035.4L872.8 1027.3L873.2 1036.6L873.5 1028.5L873.8 1033.9L874.2 1027.8L874.5 1033.6L874.8 1028.2L875.2 1034.1L875.5 1028.4L875.8 1034.7L876.2 1026.0L876.5 1034.4L876.8 1028.5L877.2 1036.6L877.5 1028.8L877.8 1034.4L878.2 1029.1L878.5 1034.9L878.8 1028.8L879.2 1035.5L879.5 1028.8L879.8 1034.0L880.2 1028.1L880.5 1034.1L880.8 1028.5L881.2 1034.5L881.5 1028.7L881.8 1034.4L882.2 1028.5L882.5 1034.4L882.8 1028.0L883.2 1038.1L883.5 1028.6L883.8 1037.7L884.2 1028.7L884.5 1035.1L884.8 1029.3L885.2 1037.4L885.5 1025.4L885.8 1035.2L886.2 1029.5L886.5 1036.3L886.8 1029.4L887.2 1038.3L887.5 1030.1L887.8 1036.3L888.2 1025.8L888.5 1036.2L888.8 1030.3L889.2 1036.5L889.5 1028.6L889.8 1036.5L890.2 1027.9L890.5 1035.8L890.8 1026.8L891.2 1035.9L891.5 1029.3L891.8 1035.4L892.2 1029.6L892.5 1035.8L892.8 1030.2L893.2 1035.4L893.5 1029.7L893.8 1035.6L894.2 1030.4L894.5 1035.6L894.8 1030.5L895.2 1034.9L895.5 1030.3L895.8 1035.7L896.2 1026.9L896.5 1035.2L896.8 1029.0L897.2 1035.0L897.5 1030.8L897.8 1035.2L898.2 1030.2L898.5 1035.3L898.8 1030.0L899.2 1034.9L899.5 1030.6L899.8 1035.0L900.2 1029.6L900.5 1042.2L900.8 1029.2L901.2 1036.8L901.5 1028.4L901.8 1036.2L902.2 1022.0L902.5 1035.8L902.8 1028.3L903.2 1035.9L903.5 1026.6L903.8 1036.0L904.2 1027.8L904.5 1035.1L904.8 1021.9L905.2 1034.8L905.5 1028.6L905.8 1035.7L906.2 1027.8L906.5 1035.2L906.8 1028.5L907.2 1035.7L907.5 1027.3L907.8 1035.4L908.2 1026.2L908.5 1034.9L908.8 1029.0L909.2 1034.7L909.5 1028.2L909.8 1034.5L910.2 1023.3L910.5 1033.6L910.8 1027.6L911.2 1034.5L911.5 1027.5L911.8 1034.2L912.2 1027.7L912.5 1033.3L912.8 1027.8L913.2 1033.5L913.5 1023.9L913.8 1036.4L914.2 1026.1L914.5 1037.9L914.8 1026.3L915.2 1034.8L915.5 1026.5L915.8 1037.9L916.2 1027.7L916.5 1034.3L916.8 1026.6L917.0 1031.5L917.3 1010.3L917.5 1031.5L917.2 1040.1L917.5 1028.3L917.6 1031.5L917.8 1058.5L918.0 1031.5L917.8 1035.0L918.2 1027.5L918.5 1037.8L918.8 1027.7L919.2 1035.4L919.5 1022.0L919.8 1035.8L920.2 1027.9L920.5 1035.1L920.8 1027.5L921.2 1037.4L921.5 1026.8L921.8 1034.1L922.2 1028.1L922.5 1034.0L922.8 1027.4L923.2 1035.7L923.5 1027.8L923.8 1038.3L924.2 1027.8L924.5 1033.1L924.8 1027.8L925.2 1033.3L925.5 1026.6L925.8 1033.5L926.2 1027.0L926.5 1033.7L926.8 1022.0L927.2 1034.8L927.5 1025.7L927.8 1035.4L928.2 1027.7L928.5 1035.0L928.8 1027.9L929.2 1035.3L929.5 1027.3L929.8 1035.0L930.2 1027.8L930.5 1033.9L930.8 1028.6L931.2 1034.1L931.5 1027.9L931.8 1034.6L932.2 1028.5L932.5 1037.9L932.8 1027.8L933.2 1035.8L933.5 1027.5L933.8 1035.4L934.2 1028.8L934.5 1035.5L934.8 1028.2L935.2 1035.7L935.5 1028.7L935.8 1035.9L936.2 1028.8L936.5 1036.0L936.8 1028.2L937.2 1038.9L937.5 1022.7L937.8 1035.6L938.2 1022.7L938.5 1036.3L938.8 1022.1L939.2 1037.1L939.5 1023.6L939.8 1036.9L940.2 1025.9L940.5 1035.3L940.8 1026.6L941.2 1040.4L941.5 1026.6L941.8 1039.1L942.2 1026.9L942.5 1035.1L942.8 1027.6L943.2 1034.0L943.5 1027.2L943.8 1034.8L944.2 1028.3L944.5 1034.5L944.8 1028.3L945.2 1039.2L945.5 1028.6L945.8 1035.2L946.2 1027.9L946.5 1037.3L946.8 1025.4L947.2 1035.4L947.5 1026.4L947.8 1036.2L948.2 1027.7L948.5 1035.5L948.8 1027.2L949.2 1037.3L949.5 1025.6L949.8 1036.8L950.2 1027.4L950.5 1036.0L950.8 1028.1L951.2 1035.5L951.5 1026.1L951.8 1036.7L952.2 1025.4L952.5 1035.6L952.8 1025.6L953.2 1038.7L953.5 1024.0L953.8 1039.4L954.2 1022.2L954.5 1035.8L954.8 1028.7L955.2 1040.3L955.5 1028.0L955.8 1038.8L956.2 1028.6L956.5 1034.7L956.8 1027.5L957.2 1035.8L957.5 1028.5L957.8 1034.8L958.2 1026.5L958.5 1034.7L958.8 1028.9L959.2 1037.0L959.5 1028.6L959.8 1035.1L960.2 1028.4L960.5 1034.8L960.8 1027.7L961.2 1035.0L961.5 1028.0L961.8 1037.6L962.2 1027.3L962.5 1042.0L962.8 1028.3L963.2 1036.0L963.5 1027.4L963.8 1036.0L964.2 1029.5L964.5 1035.9L964.8 1025.3L965.2 1038.1L965.5 1028.9L965.8 1036.3L966.2 1029.4L966.5 1035.4L966.8 1029.8L967.2 1035.7L967.5 1029.2L967.8 1036.7L968.2 1029.6L968.5 1035.8L968.8 1030.2L969.2 1040.9L969.5 1029.6L969.8 1036.0L970.2 1029.4L970.5 1035.9L970.8 1028.3L971.2 1035.0L971.5 1029.2L971.8 1034.7L972.2 1029.3L972.5 1038.9L972.8 1028.6L973.2 1035.1L973.5 1028.1L973.8 1035.4L974.2 1027.8L974.5 1035.1L974.8 1028.1L975.2 1035.3L975.5 1026.6L975.9 1034.9L976.2 1027.1L976.5 1033.6L976.9 1026.1L977.2 1033.1L977.5 1026.1L977.9 1033.3L978.2 1026.9L978.5 1033.5L978.9 1024.6L979.2 1035.2L979.5 1025.2L979.9 1035.7L980.2 1026.2L980.5 1033.1L980.9 1023.2L981.2 1033.2L981.5 1025.5L981.9 1033.6L982.2 1022.8L982.5 1034.4L982.9 1023.3L983.2 1034.2L983.5 1025.4L983.9 1034.9L984.2 1027.2L984.5 1035.2L984.9 1023.8L985.2 1034.9L985.5 1027.9L985.9 1034.2L986.2 1029.0L986.5 1038.3L986.9 1028.6L987.2 1035.3L987.5 1029.4L987.9 1034.9L988.2 1029.7L988.5 1035.9L988.9 1026.6L989.2 1036.5L989.5 1026.6L989.9 1036.1L990.2 1025.7L990.5 1042.9L990.9 1028.3L991.2 1036.0L991.5 1027.2L991.9 1036.3L992.2 1027.6L992.5 1036.7L992.9 1028.3L993.2 1041.8L993.5 1028.7L993.9 1035.2L994.2 1028.2L994.5 1035.2L994.9 1028.0L995.2 1034.5L995.5 1027.9L995.9 1035.3L996.2 1027.9L996.5 1034.1L996.9 1027.3L997.2 1034.5L997.5 1027.7L997.9 1034.4L998.2 1022.7L998.5 1037.9L998.9 1028.0L999.2 1036.8L999.5 1026.7L999.9 1036.1L1000.2 1028.0L1000.5 1041.5L1000.9 1023.9L1001.2 1035.6L1001.5 1028.4L1001.9 1036.1L1002.2 1029.9L1002.5 1038.8L1002.9 1025.6L1003.2 1036.7L1003.5 1030.0L1003.9 1038.2L1004.2 1029.0L1004.5 1037.3L1004.9 1029.3L1005.2 1037.8L1005.5 1030.5L1005.9 1036.7L1006.2 1030.0L1006.5 1037.3L1006.9 1029.7L1007.2 1036.5L1007.5 1029.6L1007.9 1037.7L1008.2 1030.2L1008.5 1036.6L1008.9 1029.1L1009.2 1036.6L1009.5 1029.4L1009.9 1036.1L1010.2 1028.4L1010.5 1036.1L1010.9 1029.1L1011.2 1034.9L1011.5 1028.9L1011.9 1035.7L1012.2 1028.8L1012.5 1041.2L1012.9 1028.7L1013.2 1035.3L1013.5 1024.7L1013.9 1035.5L1014.2 1026.1L1014.5 1035.2L1014.9 1027.6L1015.2 1036.3L1015.5 1028.0L1015.9 1034.5L1016.2 1028.2L1016.5 1035.1L1016.9 1027.4L1017.2 1034.4L1017.5 1023.7L1017.9 1035.4L1018.2 1028.2L1018.5 1040.3L1018.9 1028.6L1019.2 1034.6L1019.5 1028.5L1019.9 1037.0L1020.2 1028.7L1020.5 1034.7L1020.9 1028.8L1021.2 1035.1L1021.5 1028.9L1021.9 1036.6L1022.2 1029.4L1022.5 1034.7L1022.9 1026.2L1023.2 1034.6L1023.5 1025.9L1023.9 1034.9L1024.2 1027.9L1024.5 1034.5L1024.9 1025.2L1025.2 1039.3L1025.5 1026.2L1025.9 1034.6L1026.2 1028.1L1026.5 1034.0L1026.9 1027.0L1027.2 1033.7L1027.5 1027.9L1027.9 1035.8L1028.2 1027.3L1028.5 1033.8L1028.9 1027.4L1029.2 1034.3L1029.5 1028.2L1029.9 1035.1L1030.2 1026.7L1030.5 1035.1L1030.9 1028.0L1031.2 1034.2L1031.5 1027.7L1031.9 1034.5L1032.2 1028.8L1032.5 1034.8L1032.9 1025.0L1033.2 1035.3L1033.5 1028.4L1033.9 1034.9L1034.2 1028.7L1034.5 1035.0L1034.9 1028.2L1035.2 1035.0L1035.5 1029.3L1035.9 1035.5L1036.2 1025.1L1036.5 1035.8L1036.9 1025.3L1037.2 1035.8L1037.5 1026.7L1037.9 1040.5L1038.2 1029.8L1038.5 1036.0L1038.9 1030.1L1039.2 1036.4L1039.5 1029.9L1039.9 1036.6L1040.2 1030.0L1040.5 1036.8L1040.9 1025.1L1041.2 1037.5L1041.5 1026.4L1041.9 1036.5L1042.2 1026.6L1042.5 1036.6L1042.9 1029.9L1043.2 1036.0L1043.5 1024.4L1043.9 1036.3L1044.2 1029.4L1044.5 1035.2L1044.9 1029.6L1045.2 1034.9L1045.5 1029.1L1045.9 1034.6L1046.2 1029.0L1046.5 1034.7L1046.9 1025.9L1047.2 1035.5L1047.5 1026.3L1047.9 1035.8L1048.2 1028.4L1048.5 1038.5L1048.9 1028.1L1049.2 1034.7L1049.5 1028.4L1049.9 1034.5L1050.2 1027.4L1050.5 1034.8L1050.9 1024.7L1051.2 1034.6L1051.5 1027.1L1051.9 1039.2L1052.2 1028.3L1052.5 1034.5L1052.9 1028.2L1053.2 1034.7L1053.5 1028.3L1053.9 1034.9L1054.2 1028.4L1054.5 1035.9L1054.9 1026.6L1055.2 1035.8L1055.5 1023.1L1055.9 1036.5L1056.2 1027.2L1056.5 1036.1L1056.9 1027.5L1057.2 1038.2L1057.5 1026.9L1057.9 1034.2L1058.2 1026.9L1058.5 1034.4L1058.9 1023.9L1059.2 1039.8L1059.5 1027.0L1059.9 1033.7L1060.2 1026.9L1060.5 1033.3L1060.9 1027.8L1061.2 1034.0L1061.5 1022.8L1061.9 1034.5L1062.2 1027.2L1062.5 1034.1L1062.9 1026.6L1063.2 1034.6L1063.5 1027.9L1063.9 1035.7L1064.2 1028.3L1064.5 1034.3L1064.9 1028.2L1065.2 1035.4L1065.5 1027.9L1065.9 1034.9L1066.2 1023.1L1066.5 1037.5L1066.9 1028.2L1067.2 1036.9L1067.5 1025.9L1067.9 1039.1L1068.2 1028.6L1068.5 1035.3L1068.9 1028.5L1069.2 1036.7L1069.5 1027.9L1069.9 1035.6L1070.2 1028.1L1070.5 1041.6L1070.9 1024.3L1071.2 1035.1L1071.5 1027.2L1071.9 1039.9L1072.2 1027.3L1072.5 1035.3L1072.9 1026.7L1073.2 1040.1L1073.5 1027.0L1073.9 1034.3L1074.2 1025.1L1074.5 1034.9L1074.9 1021.9L1075.2 1034.7L1075.5 1026.9L1075.9 1034.3L1076.2 1026.8L1076.5 1035.4L1076.9 1027.7L1077.2 1034.6L1077.5 1027.3L1077.9 1035.5L1078.2 1028.7L1078.5 1036.1L1078.9 1028.3L1079.2 1035.4L1079.5 1028.8L1079.9 1039.7L1080.2 1029.3L1080.5 1036.3L1080.9 1025.9L1081.2 1042.0L1081.5 1029.3L1081.9 1036.7L1082.2 1028.5L1082.5 1036.3L1082.9 1029.1L1083.2 1037.0L1083.5 1026.2L1083.9 1036.5L1084.2 1029.6L1084.5 1037.7L1084.9 1028.3L1085.2 1038.2L1085.5 1029.2L1085.9 1036.7L1086.2 1026.3L1086.5 1037.3L1086.9 1029.1L1087.2 1037.2L1087.5 1029.0L1087.9 1036.4L1088.2 1026.5L1088.5 1035.8L1088.9 1026.7L1089.2 1037.2L1089.6 1028.7L1089.9 1035.3L1090.2 1029.1L1090.6 1035.9L1090.9 1029.1L1091.2 1039.7L1091.6 1028.7L1091.9 1035.3L1092.2 1028.1L1092.6 1036.5L1092.9 1028.4L1093.2 1037.7L1093.6 1028.4L1093.9 1036.2L1094.2 1028.7L1094.6 1036.1L1094.9 1028.7L1095.2 1035.7L1095.6 1028.9L1095.9 1035.7L1096.2 1023.9L1096.6 1035.6L1096.9 1026.3L1097.2 1035.2L1097.6 1028.9L1097.9 1035.1L1098.2 1027.6L1098.6 1039.1L1098.9 1027.7L1099.2 1035.5L1099.6 1027.5L1099.9 1034.8L1100.2 1028.9L1100.6 1034.3L1100.9 1028.8L1101.2 1034.2L1101.6 1027.9L1101.9 1034.4L1102.2 1027.8L1102.6 1034.1L1102.9 1028.1L1103.2 1034.3L1103.6 1024.5L1103.9 1036.0L1104.2 1027.2L1104.6 1034.2L1104.9 1022.8L1105.2 1035.5L1105.6 1021.7L1105.9 1034.0L1106.2 1025.4L1106.6 1035.6L1106.9 1027.6L1107.2 1034.0L1107.6 1025.7L1107.9 1034.1L1108.2 1027.5L1108.6 1034.0L1108.9 1028.0L1109.2 1034.6L1109.6 1028.9L1109.9 1035.0L1110.2 1028.2L1110.6 1036.0L1110.9 1028.2L1111.2 1038.4L1111.6 1028.0L1111.9 1035.9L1112.2 1026.5L1112.6 1036.4L1112.9 1028.5L1113.2 1036.0L1113.6 1029.8L1113.9 1036.1L1114.2 1028.9L1114.6 1035.9L1114.9 1028.6L1115.2 1036.0L1115.6 1029.4L1115.9 1036.0L1116.2 1024.3L1116.6 1036.1L1116.9 1027.2L1117.2 1038.1L1117.6 1026.0L1117.9 1036.5L1118.2 1029.2L1118.6 1036.0L1118.9 1028.7L1119.2 1035.6L1119.6 1029.1L1119.9 1035.9L1120.2 1028.4L1120.6 1036.0L1120.9 1028.8L1121.2 1035.5L1121.6 1028.8L1121.9 1035.4L1122.2 1028.2L1122.6 1034.4L1122.9 1027.9L1123.2 1034.5L1123.6 1028.3L1123.9 1034.4L1124.2 1028.1L1124.6 1034.1L1124.9 1028.7L1125.2 1035.0L1125.6 1028.8L1125.9 1035.0L1126.2 1028.6L1126.6 1035.5L1126.9 1027.6L1127.2 1036.0L1127.6 1028.2L1127.9 1035.2L1128.2 1027.9L1128.6 1034.9L1128.9 1027.3L1129.2 1036.1L1129.6 1025.8L1129.9 1035.3L1130.2 1027.7L1130.5 1031.5L1130.7 948.4L1131.0 1031.5L1130.6 1035.6L1130.9 1028.9L1131.0 1031.5L1131.2 1047.8L1131.5 1031.5L1131.2 1035.5L1131.6 1029.5L1131.9 1040.2L1132.2 1029.4L1132.6 1036.7L1132.9 1029.0L1133.2 1034.7L1133.6 1029.0L1133.9 1034.2L1134.2 1028.9L1134.6 1034.3L1134.9 1029.4L1135.2 1035.0L1135.6 1023.0L1135.9 1034.8L1136.2 1029.0L1136.6 1034.6L1136.9 1028.6L1137.2 1036.1L1137.6 1027.8L1137.9 1034.3L1138.2 1024.9L1138.6 1034.5L1138.9 1028.0L1139.2 1033.3L1139.6 1028.3L1139.9 1034.0L1140.2 1027.9L1140.6 1033.3L1140.9 1027.8L1141.2 1033.5L1141.6 1026.9L1141.9 1034.1L1142.2 1027.0L1142.6 1033.1L1142.9 1026.5L1143.2 1033.6L1143.6 1027.1L1143.9 1037.8L1144.2 1026.4L1144.6 1033.2L1144.9 1027.2L1145.2 1033.9L1145.6 1027.6L1145.9 1033.5L1146.2 1026.9L1146.6 1034.4L1146.9 1027.5L1147.2 1034.5L1147.6 1026.8L1147.9 1034.4L1148.2 1027.0L1148.6 1034.1L1148.9 1023.1L1149.2 1033.8L1149.6 1021.2L1149.9 1034.0L1150.2 1027.5L1150.6 1033.1L1150.9 1027.5L1151.2 1038.6L1151.6 1027.7L1151.9 1034.0L1152.2 1028.1L1152.6 1033.9L1152.9 1027.4L1153.2 1034.3L1153.6 1025.5L1153.9 1033.9L1154.2 1024.6L1154.6 1034.1L1154.9 1027.7L1155.2 1035.0L1155.6 1027.7L1155.9 1034.5L1156.2 1026.5L1156.6 1034.0L1156.9 1025.0L1157.2 1034.4L1157.6 1028.7L1157.9 1035.2L1158.2 1027.9L1158.6 1034.9L1158.9 1028.5L1159.2 1034.5L1159.6 1025.0L1159.9 1036.5L1160.2 1021.9L1160.6 1036.0L1160.9 1027.3L1161.2 1035.0L1161.6 1028.1L1161.9 1036.2L1162.2 1027.4L1162.6 1035.0L1162.9 1025.3L1163.2 1036.4L1163.6 1018.6L1163.9 1034.9L1164.2 1025.9L1164.6 1035.8L1164.9 1022.9L1165.2 1035.8L1165.6 1025.0L1165.9 1043.4L1166.2 1023.6L1166.6 1036.0L1166.9 1020.6L1167.2 1035.4L1167.6 1019.2L1167.9 1035.7L1168.2 1023.1L1168.6 1035.9L1168.9 1022.6L1169.2 1038.6L1169.6 1024.7L1169.9 1037.6L1170.2 1022.7L1170.6 1037.1L1170.9 1023.1L1171.2 1036.9L1171.6 1024.4L1171.9 1037.4L1172.2 1022.8L1172.6 1036.8L1172.9 1018.9L1173.2 1037.1L1173.6 1020.4L1173.9 1038.3L1174.2 1021.0L1174.6 1039.0L1174.9 1020.0L1175.2 1038.7L1175.6 1009.4L1175.9 1040.0L1176.2 1020.2L1176.6 1041.1L1176.9 1021.7L1177.2 1044.5L1177.6 1022.8L1177.9 1043.4L1178.2 1019.7L1178.6 1045.1L1178.9 1020.4L1179.2 1043.4L1179.6 1018.3L1179.9 1045.2L1180.2 1012.8L1180.6 1049.6L1180.9 1020.4L1181.2 1049.8L1181.6 1021.3L1181.9 1053.3L1182.2 1020.5L1182.6 1044.2L1182.9 1020.8L1183.2 1046.2L1183.6 1022.8L1183.9 1041.8L1184.2 1019.3L1184.6 1044.6L1184.9 1022.4L1185.2 1044.6L1185.6 1019.6L1185.9 1043.2L1186.2 1013.6L1186.6 1044.1L1186.9 1018.1L1187.2 1044.8L1187.6 1017.0L1187.9 1044.0L1188.2 1006.1L1188.6 1043.9L1188.9 997.8L1189.2 1042.4L1189.6 1014.6L1189.9 1043.7L1190.2 1012.0L1190.6 1045.8L1190.9 1015.0L1191.2 1051.8L1191.6 1015.3L1191.9 1042.9L1192.2 1013.1L1192.6 1043.2L1192.9 993.6L1193.2 1048.4L1193.6 1013.0L1193.9 1045.1L1194.2 1014.3L1194.6 1046.6L1194.9 1013.4L1195.2 1050.2L1195.6 1013.5L1195.9 1045.0L1196.2 1012.0L1196.6 1047.8L1196.9 1007.7L1197.2 1059.7L1197.6 1008.5L1197.9 1049.1L1198.2 1011.4L1198.6 1051.2L1198.9 1013.4L1199.2 1043.9L1199.6 1011.1L1199.9 1046.0L1200.2 1011.0L1200.6 1043.2L1200.9 1014.2L1201.2 1043.4L1201.6 1014.7L1201.9 1050.1L1202.2 1012.7L1202.6 1046.4L1202.9 1018.2L1203.2 1050.4L1203.6 1016.7L1203.9 1047.1L1204.3 1017.0L1204.6 1046.1L1204.9 1018.4L1205.3 1055.1L1205.6 1013.9L1205.9 1049.7L1206.3 1012.5L1206.6 1059.0L1206.9 1012.0L1207.3 1048.8L1207.6 1016.7L1207.9 1044.0L1208.3 1012.6L1208.6 1044.7L1208.9 1014.7L1209.3 1053.4L1209.6 1012.6L1209.9 1044.8L1210.3 1002.4L1210.6 1045.9L1210.9 1013.9L1211.3 1045.2L1211.6 995.8L1211.9 1056.0L1212.3 1013.3L1212.6 1050.6L1212.9 983.6L1213.3 1047.7L1213.6 1007.4L1213.9 1045.2L1214.3 1009.4L1214.6 1054.6L1214.9 1011.6L1215.3 1043.1L1215.6 1010.4L1215.9 1051.0L1216.3 1014.4L1216.6 1045.0L1216.9 996.0L1217.3 1045.4L1217.6 1013.0L1217.9 1043.2L1218.3 1017.4L1218.6 1045.0L1218.9 1013.5L1219.3 1044.7L1219.6 995.4L1219.9 1046.3L1220.3 993.2L1220.6 1055.3L1220.9 1003.5L1221.3 1045.4L1221.6 1014.3L1221.9 1044.9L1222.3 1012.1L1222.6 1054.7L1222.9 1013.3L1223.3 1045.2L1223.6 1010.8L1223.9 1046.1L1224.3 1014.6L1224.6 1050.8L1224.9 1009.4L1225.3 1049.7L1225.6 1012.8L1225.9 1053.3L1226.3 997.7L1226.6 1062.6L1226.9 997.6L1227.3 1050.4L1227.6 1011.1L1227.9 1049.5L1228.3 1014.1L1228.6 1045.3L1228.9 1017.4L1229.3 1045.5L1229.6 1016.7L1229.9 1050.4L1230.3 1011.2L1230.6 1044.4L1230.9 1013.2L1231.3 1046.8L1231.6 1010.8L1231.9 1045.9L1232.3 1008.2L1232.6 1056.7L1232.9 1007.2L1233.2 1031.5L1233.4 973.8L1233.7 1031.5L1233.3 1046.9L1233.6 989.1L1233.9 1048.2L1234.3 1007.5L1234.6 1047.3L1234.9 1013.7L1235.3 1061.5L1235.6 999.7L1235.9 1055.2L1236.3 1012.7L1236.6 1049.5L1236.9 1002.7L1237.3 1042.6L1237.6 1006.4L1237.9 1046.5L1238.3 1015.3L1238.6 1044.9L1238.9 1015.7L1239.3 1043.2L1239.6 1013.0L1239.9 1050.7L1240.3 1015.2L1240.6 1044.3L1240.9 1005.0L1241.3 1043.1L1241.6 1013.2L1241.9 1044.1L1242.3 1012.0L1242.6 1044.8L1242.9 987.3L1243.3 1045.0L1243.6 1010.2L1243.9 1047.4L1244.3 1009.6L1244.6 1045.5L1244.9 1011.3L1245.3 1048.0L1245.6 1009.1L1245.9 1058.2L1246.3 1009.8L1246.6 1051.7L1246.9 1001.6L1247.3 1047.9L1247.6 1009.9L1247.9 1053.8L1248.3 996.8L1248.6 1046.7L1248.9 1015.1L1249.3 1045.1L1249.6 1013.2L1249.9 1044.9L1250.3 998.3L1250.6 1046.0L1250.9 1013.1L1251.3 1044.9L1251.6 1008.5L1251.9 1044.6L1252.3 1012.3L1252.6 1044.8L1252.9 1011.6L1253.3 1052.7L1253.6 987.4L1253.9 1046.0L1254.3 1006.7L1254.6 1056.6L1254.9 1002.0L1255.3 1054.2L1255.6 1004.7L1255.9 1046.7L1256.3 1011.6L1256.6 1051.5L1256.9 998.8L1257.3 1048.4L1257.6 992.0L1257.9 1058.4L1258.3 1004.8L1258.6 1047.4L1258.9 1005.2L1259.3 1060.3L1259.6 1005.5L1259.9 1063.7L1260.3 1000.3L1260.6 1049.1L1260.9 1011.9L1261.3 1052.9L1261.6 1005.6L1261.9 1044.9L1262.3 1006.3L1262.6 1045.1L1262.9 1012.6L1263.3 1042.3L1263.6 1014.3L1263.9 1042.3L1264.3 1010.0L1264.6 1042.8L1264.9 1005.3L1265.3 1045.2L1265.6 1012.8L1265.9 1056.8L1266.3 1006.4L1266.6 1046.9L1266.9 1007.1L1267.3 1050.6L1267.6 1013.2L1267.9 1046.8L1268.3 1011.1L1268.6 1043.5L1268.9 1011.5L1269.3 1045.4L1269.6 1012.4L1269.9 1041.7L1270.3 1014.2L1270.6 1042.3L1270.9 1013.1L1271.3 1050.5L1271.6 1017.1L1271.9 1043.6L1272.3 1012.7L1272.6 1043.6L1272.9 1016.4L1273.3 1043.9L1273.6 1015.8L1273.9 1047.5L1274.3 1013.0L1274.6 1046.4L1274.9 999.5L1275.3 1048.8L1275.6 1004.3L1275.9 1053.3L1276.3 1001.3L1276.6 1053.2L1276.9 1005.2L1277.3 1052.2L1277.6 1006.8L1277.9 1060.1L1278.3 1011.8L1278.6 1046.4L1278.8 1031.5L1279.0 976.7L1279.2 1031.5L1278.9 1011.7L1279.3 1043.7L1279.3 1031.5L1279.5 1077.0L1279.8 1031.5L1279.6 987.5L1279.9 1045.9L1280.3 1017.7L1280.6 1044.0L1280.9 1017.7L1281.3 1046.0L1281.6 995.4L1281.9 1042.5L1282.3 1017.2L1282.6 1044.1L1282.9 991.3L1283.3 1044.6L1283.6 1001.0L1283.9 1049.5L1284.3 1008.4L1284.6 1046.1L1284.9 1016.0L1285.3 1048.4L1285.6 991.6L1285.9 1056.8L1286.3 1007.3L1286.6 1055.7L1286.9 1015.3L1287.3 1050.9L1287.6 1013.7L1287.9 1047.7L1288.3 1010.9L1288.6 1058.8L1288.9 1011.8L1289.3 1052.1L1289.6 1008.6L1289.9 1058.7L1290.3 1012.6L1290.6 1045.2L1290.9 1010.6L1291.3 1042.3L1291.6 1011.5L1291.9 1046.1L1292.3 993.4L1292.6 1042.9L1292.9 1013.5L1293.3 1040.4L1293.6 1013.7L1293.9 1042.1L1294.3 1012.8L1294.6 1045.5L1294.9 1012.8L1295.3 1045.4L1295.6 1013.7L1295.9 1045.6L1296.3 1012.1L1296.6 1047.1L1296.9 1012.9L1297.3 1043.1L1297.6 1014.3L1297.9 1044.0L1298.3 1008.2L1298.6 1051.4L1298.9 1017.3L1299.3 1058.4L1299.6 1010.6L1299.9 1048.2L1300.3 1015.4L1300.6 1050.4L1300.9 1014.4L1301.3 1050.9L1301.6 1014.4L1301.9 1049.0L1302.3 1012.9L1302.6 1047.1L1302.9 1016.5L1303.3 1043.3L1303.6 1012.5L1303.9 1045.7L1304.3 1013.8L1304.6 1043.2L1304.9 1014.5L1305.3 1044.8L1305.6 1015.0L1305.9 1044.9L1306.3 1000.7L1306.6 1045.0L1306.9 992.9L1307.3 1053.1L1307.6 1012.1L1307.9 1046.0L1308.3 1013.1L1308.6 1044.7L1308.9 1012.7L1309.3 1048.0L1309.6 997.0L1309.9 1049.6L1310.3 1007.6L1310.6 1045.7L1310.9 1010.1L1311.3 1051.0L1311.6 1003.3L1311.9 1062.2L1312.3 1003.5L1312.6 1050.8L1312.9 1004.2L1313.3 1046.6L1313.6 1004.7L1313.9 1059.6L1314.3 989.2L1314.6 1050.8L1314.9 1007.3L1315.3 1055.8L1315.6 1013.1L1315.9 1048.4L1316.3 1011.1L1316.6 1049.7L1316.9 1013.1L1317.3 1061.5L1317.6 996.7L1318.0 1050.2L1318.3 994.1L1318.6 1054.2L1319.0 1009.8L1319.3 1051.0L1319.6 1012.3L1320.0 1050.0L1320.3 1013.0L1320.6 1055.2L1321.0 1017.4L1321.3 1041.9L1321.6 1017.1L1322.0 1046.9L1322.3 1017.8L1322.6 1043.2L1323.0 1014.6L1323.3 1045.4L1323.6 1011.3L1324.0 1045.2L1324.3 1011.9L1324.6 1051.1L1325.0 1004.0L1325.3 1048.3L1325.6 1009.3L1326.0 1064.5L1326.3 1010.5L1326.6 1061.2L1327.0 1012.3L1327.3 1056.2L1327.6 1010.1L1328.0 1048.3L1328.3 996.1L1328.6 1060.2L1329.0 1009.8L1329.3 1051.2L1329.6 1005.8L1330.0 1048.9L1330.3 1008.3L1330.6 1057.8L1331.0 1012.0L1331.3 1055.5L1331.6 1013.2L1332.0 1043.7L1332.3 1012.5L1332.6 1046.8L1333.0 1014.8L1333.3 1054.3L1333.6 1006.9L1334.0 1046.9L1334.3 1012.8L1334.6 1045.2L1335.0 989.6L1335.3 1044.4L1335.6 1007.4L1336.0 1043.9L1336.3 1000.1L1336.6 1052.2L1337.0 997.3L1337.3 1056.9L1337.6 986.7L1338.0 1048.0L1338.3 1013.4L1338.6 1052.4L1339.0 998.3L1339.3 1052.8L1339.6 998.7L1340.0 1061.7L1340.3 1011.8L1340.6 1053.9L1341.0 1001.4L1341.3 1054.7L1341.6 1015.4L1342.0 1048.4L1342.3 986.2L1342.6 1046.2L1343.0 1017.2L1343.3 1044.3L1343.6 1011.5L1344.0 1048.3L1344.3 1013.6L1344.6 1050.1L1345.0 1012.8L1345.3 1048.2L1345.6 1012.3L1346.0 1062.0L1346.3 1006.2L1346.6 1053.2L1347.0 1014.0L1347.3 1045.2L1347.6 1014.1L1348.0 1048.4L1348.3 1013.5L1348.6 1043.7L1349.0 1016.0L1349.3 1058.1L1349.6 1011.9L1350.0 1047.5L1350.3 1004.1L1350.6 1048.1L1351.0 1015.3L1351.3 1057.2L1351.6 1017.0L1352.0 1044.3L1352.3 1010.7L1352.6 1046.4L1353.0 1011.3L1353.3 1063.0L1353.6 1006.3L1354.0 1054.1L1354.3 1006.7L1354.6 1057.0L1355.0 1016.0L1355.3 1044.9L1355.6 1018.0L1356.0 1043.2L1356.3 1018.6L1356.6 1045.3L1357.0 1012.2L1357.3 1045.2L1357.6 1019.9L1358.0 1046.0L1358.3 1021.9L1358.6 1042.8L1359.0 1016.8L1359.3 1046.6L1359.6 1015.5L1360.0 1046.6L1360.3 1013.6L1360.6 1047.8L1361.0 988.1L1361.3 1045.6L1361.6 1016.9L1362.0 1053.7L1362.3 1008.7L1362.6 1064.1L1363.0 996.9L1363.3 1048.3L1363.6 987.4L1364.0 1054.7L1364.3 1000.3L1364.6 1053.8L1365.0 1009.3L1365.3 1056.5L1365.6 1010.3L1366.0 1048.1L1366.3 1013.0L1366.6 1052.6L1367.0 998.0L1367.3 1046.6L1367.6 1014.9L1368.0 1045.7L1368.3 1016.1L1368.6 1045.2L1369.0 1018.3L1369.3 1045.9L1369.6 1014.8L1370.0 1044.6L1370.3 990.3L1370.6 1047.1L1371.0 1014.5L1371.3 1044.9L1371.6 1011.9L1372.0 1043.5L1372.3 1011.5L1372.6 1045.5L1373.0 1013.1L1373.3 1050.8L1373.6 1016.1L1374.0 1041.4L1374.3 1017.9L1374.6 1043.7L1374.8 1031.5L1375.0 948.4L1375.2 1031.5L1375.0 1016.7L1375.3 1031.5L1375.5 1075.4L1375.8 1031.5L1375.3 1044.6L1375.6 1017.2L1376.0 1050.3L1376.3 1019.2L1376.6 1042.6L1377.0 1016.3L1377.3 1046.0L1377.6 1011.0L1378.0 1050.8L1378.3 992.7L1378.6 1063.6L1379.0 1006.5L1379.3 1050.5L1379.6 1002.2L1380.0 1049.0L1380.3 1007.8L1380.3 1031.5L1380.6 964.0L1380.8 1031.5L1380.6 1054.4L1381.0 987.0L1381.3 1047.2L1381.6 1011.9L1382.0 1051.6L1382.3 1009.9L1382.6 1054.4L1383.0 1016.5L1383.3 1044.4L1383.6 990.2L1384.0 1058.3L1384.3 1013.9L1384.6 1054.7L1385.0 1006.4L1385.3 1053.4L1385.6 1009.2L1386.0 1055.0L1386.3 1010.9L1386.6 1060.6L1387.0 983.3L1387.3 1048.6L1387.6 1010.2L1388.0 1053.2L1388.3 1011.1L1388.6 1045.2L1389.0 991.7L1389.3 1051.2L1389.6 1011.0L1390.0 1051.8L1390.3 1011.0L1390.6 1050.0L1391.0 1009.0L1391.3 1045.8L1391.6 1014.6L1392.0 1043.3L1392.3 1009.5L1392.6 1045.9L1393.0 1016.5L1393.3 1046.0L1393.6 1014.2L1394.0 1042.8L1394.3 1016.0L1394.6 1042.3L1395.0 1017.1L1395.3 1041.8L1395.6 994.2L1396.0 1043.7L1396.3 1014.9L1396.6 1044.5L1397.0 1013.9L1397.3 1044.9L1397.6 1006.2L1398.0 1046.3L1398.3 1012.1L1398.6 1044.0L1399.0 1001.6L1399.3 1045.8L1399.6 1012.3L1400.0 1045.8L1400.3 1014.4L1400.6 1047.3L1401.0 1012.4L1401.3 1048.0L1401.6 1016.6L1402.0 1046.6L1402.3 1013.5L1402.6 1048.6L1403.0 1012.8L1403.3 1048.2L1403.6 1015.5L1404.0 1050.3L1404.3 1015.9L1404.6 1049.5L1405.0 1015.7L1405.3 1046.0L1405.6 1017.9L1406.0 1050.8L1406.3 989.9L1406.6 1047.6L1407.0 1011.0L1407.3 1047.2L1407.6 1012.4L1408.0 1049.5L1408.3 986.2L1408.6 1052.6L1409.0 1008.5L1409.3 1054.7L1409.6 1007.1L1410.0 1031.5L1410.2 969.6L1410.5 1031.5L1410.0 1047.1L1410.3 1009.3L1410.6 1047.7L1411.0 1013.9L1411.3 1053.8L1411.6 992.8L1412.0 1051.0L1412.3 1017.4L1412.6 1048.9L1413.0 1016.9L1413.3 1049.8L1413.6 1016.7L1414.0 1049.3L1414.3 1005.4L1414.6 1052.6L1415.0 1011.7L1415.3 1059.4L1415.6 1014.8L1416.0 1045.5L1416.3 1018.3L1416.6 1060.1L1417.0 1012.7L1417.3 1050.5L1417.6 1012.5L1418.0 1051.2L1418.3 1015.6L1418.6 1053.7L1419.0 1013.7L1419.3 1057.5L1419.6 1009.6L1420.0 1060.3L1420.3 1014.4L1420.6 1058.2L1421.0 1017.5L1421.3 1043.1L1421.6 1012.9L1422.0 1051.3L1422.3 1014.6L1422.6 1047.3L1423.0 1017.7L1423.3 1045.4L1423.6 1013.2L1424.0 1050.6L1424.3 1013.6L1424.6 1051.7L1425.0 1001.4L1425.3 1047.5L1425.6 1009.9L1426.0 1049.0L1426.3 1013.7L1426.6 1056.2L1427.0 1013.6L1427.3 1053.3L1427.6 1017.0L1428.0 1049.9L1428.3 1010.6L1428.6 1048.8L1429.0 1019.3L1429.3 1049.9L1429.6 996.2L1430.0 1046.1L1430.3 1015.1L1430.6 1049.8L1431.0 1013.6L1431.3 1054.3L1431.6 1005.0L1432.0 1051.8L1432.3 1017.3L1432.7 1053.1L1433.0 1012.4L1433.3 1053.0L1433.7 986.0L1434.0 1053.6L1434.3 982.7L1434.7 1050.0L1435.0 1005.9L1435.3 1059.1L1435.7 1012.1L1436.0 1055.8L1436.3 1008.3L1436.7 1053.9L1437.0 1005.4L1437.3 1054.9L1437.7 1010.3L1438.0 1045.7L1438.3 1016.8L1438.7 1047.6L1439.0 1012.3L1439.3 1049.4L1439.7 1013.7L1440.0 1051.2L1440.3 1017.1L1440.7 1047.3L1441.0 1015.6L1441.3 1047.4L1441.7 1009.9L1442.0 1052.3L1442.3 996.0L1442.7 1049.6L1443.0 1013.7L1443.3 1055.7L1443.7 1014.9L1444.0 1051.5L1444.3 1018.1L1444.7 1044.8L1445.0 1018.6L1445.3 1046.7L1445.7 1016.8L1446.0 1059.4L1446.3 1006.6L1446.7 1043.7L1447.0 1017.5L1447.3 1043.6L1447.7 1017.3L1448.0 1046.6L1448.3 1018.7L1448.7 1045.6L1449.0 1013.6L1449.3 1057.0L1449.7 1015.6L1450.0 1046.1L1450.3 1012.8L1450.7 1044.9L1451.0 1013.8L1451.3 1052.9L1451.7 1017.2L1452.0 1046.9L1452.3 1015.0L1452.7 1044.3L1453.0 1015.1L1453.3 1048.5L1453.7 1007.0L1454.0 1047.5L1454.3 1016.1L1454.7 1045.5L1455.0 995.3L1455.3 1048.6L1455.7 1016.3L1456.0 1048.2L1456.3 1016.6L1456.7 1048.1L1457.0 1016.6L1457.3 1047.2L1457.7 1018.2L1458.0 1044.0L1458.3 1013.7L1458.7 1043.3L1459.0 1000.1L1459.3 1043.9L1459.7 1015.0L1460.0 1046.6L1460.3 1015.9L1460.7 1047.4L1461.0 1017.4L1461.3 1047.1L1461.7 1017.3L1462.0 1054.3L1462.3 1019.2L1462.7 1044.9L1463.0 1018.0L1463.3 1044.0L1463.7 1003.1L1464.0 1043.3L1464.3 1018.6L1464.7 1057.3L1465.0 1010.4L1465.3 1045.8L1465.7 1013.1L1466.0 1048.9L1466.3 1008.4L1466.7 1047.7L1467.0 1005.0L1467.3 1048.2L1467.7 1013.8L1468.0 1052.4L1468.3 992.2L1468.7 1051.8L1469.0 994.5L1469.3 1052.5L1469.7 1003.3L1470.0 1054.5L1470.3 1015.5L1470.7 1044.5L1471.0 1014.3L1471.3 1045.3L1471.7 1014.5L1472.0 1050.8L1472.3 1017.9L1472.7 1048.5L1473.0 1017.9L1473.3 1050.1L1473.7 1015.8L1474.0 1046.9L1474.3 1016.6L1474.7 1048.8L1475.0 1000.1L1475.3 1046.7L1475.7 1005.5L1476.0 1048.5L1476.3 1008.9L1476.7 1051.3L1477.0 1006.1L1477.3 1052.5L1477.7 999.4L1478.0 1060.0L1478.3 981.7L1478.7 1052.3L1479.0 1000.1L1479.3 1051.7L1479.7 1009.0L1480.0 1045.6L1480.3 1011.9L1480.7 1048.1L1481.0 1009.5L1481.3 1045.4L1481.7 1013.0L1482.0 1044.4L1482.3 1006.7L1482.7 1051.9L1483.0 994.6L1483.3 1045.9L1483.7 1014.1L1484.0 1045.3L1484.3 1013.0L1484.7 1045.6L1485.0 990.9L1485.3 1045.5L1485.7 1013.6L1486.0 1046.1L1486.3 989.7L1486.7 1047.7L1487.0 1010.5L1487.3 1047.8L1487.7 1016.7L1488.0 1047.0L1488.3 1016.6L1488.7 1043.8L1489.0 1013.2" stroke="#0000a0" stroke-width="1.50" fill="none" stroke-linejoin="round"/>
<rect x="204.15" y="750.90" width="4.60" height="664.90" fill="#000"/>
<rect x="1499.30" y="750.90" width="4.75" height="664.90" fill="#000"/>
<rect x="204.15" y="1410.90" width="1299.90" height="4.90" fill="#000"/>
</g>
<g id="panel3">
<rect x="204.15" y="1491.35" width="27.75" height="4.50" fill="#000"/>
<rect x="1476.90" y="1491.35" width="27.15" height="4.50" fill="#000"/>
<rect x="204.15" y="1661.35" width="27.75" height="4.50" fill="#000"/>
<rect x="1476.90" y="1661.35" width="27.15" height="4.50" fill="#000"/>
<rect x="204.15" y="1831.35" width="27.75" height="4.50" fill="#000"/>
<rect x="1476.90" y="1831.35" width="27.15" height="4.50" fill="#000"/>
<rect x="204.15" y="2001.15" width="27.75" height="4.50" fill="#000"/>
<rect x="1476.90" y="2001.15" width="27.15" height="4.50" fill="#000"/>
<rect x="204.15" y="1576.65" width="14.65" height="4.50" fill="#000"/>
<rect x="1489.40" y="1576.65" width="14.65" height="4.50" fill="#000"/>
<rect x="204.15" y="1746.95" width="14.65" height="4.50" fill="#000"/>
<rect x="1489.40" y="1746.95" width="14.65" height="4.50" fill="#000"/>
<rect x="204.15" y="1916.45" width="14.65" height="4.50" fill="#000"/>
<rect x="1489.40" y="1916.45" width="14.65" height="4.50" fill="#000"/>
<rect x="229.30" y="2049.10" width="4.80" height="26.00" fill="#000"/>
<rect x="543.62" y="2061.50" width="4.80" height="13.60" fill="#000"/>
<rect x="857.95" y="2049.10" width="4.80" height="26.00" fill="#000"/>
<rect x="1172.27" y="2061.50" width="4.80" height="13.60" fill="#000"/>
<rect x="1486.60" y="2049.10" width="4.80" height="26.00" fill="#000"/>
<path d="M231.7 1965.0L231.9 1700.0L232.2 1618.0L232.2 1594.2L232.5 1623.0L232.9 1603.2L233.2 1623.0L233.5 1601.4L233.9 1623.9L234.2 1603.6L234.5 1621.2L234.9 1603.9L235.2 1621.2L235.5 1599.3L235.9 1621.4L236.2 1603.3L236.5 1620.7L236.9 1603.0L237.2 1629.9L237.5 1593.4L237.9 1628.8L238.2 1598.6L238.5 1623.6L238.9 1600.7L239.2 1625.4L239.5 1596.1L239.9 1625.3L240.2 1599.0L240.5 1624.2L240.9 1594.6L241.2 1621.2L241.5 1595.6L241.9 1622.0L242.2 1598.1L242.5 1624.7L242.9 1587.7L243.2 1628.1L243.5 1599.6L243.9 1623.8L244.2 1589.1L244.5 1624.5L244.9 1595.0L245.2 1623.1L245.5 1597.8L245.9 1621.5L246.2 1584.1L246.5 1624.9L246.9 1594.9L247.2 1622.7L247.5 1598.7L247.9 1624.4L248.2 1595.6L248.5 1631.0L248.9 1598.0L249.2 1621.3L249.5 1593.5L249.9 1625.4L250.2 1587.0L250.5 1623.7L250.9 1582.0L251.2 1626.8L251.5 1597.8L251.9 1632.8L252.2 1598.1L252.5 1630.9L252.9 1594.1L253.2 1621.8L253.5 1595.0L253.9 1619.7L254.2 1593.8L254.5 1620.7L254.9 1596.5L255.2 1621.7L255.5 1595.1L255.9 1622.9L256.2 1594.7L256.5 1634.2L256.9 1577.2L257.2 1621.0L257.5 1587.3L257.9 1621.0L258.2 1593.2L258.5 1618.6L258.9 1589.7L259.2 1621.0L259.5 1589.0L259.9 1616.2L260.2 1589.3L260.5 1616.8L260.9 1590.9L261.2 1624.0L261.5 1592.4L261.9 1619.3L262.2 1571.9L262.5 1620.1L262.9 1590.7L263.2 1618.1L263.5 1576.8L263.9 1621.0L264.2 1588.0L264.5 1620.0L264.9 1586.2L265.2 1615.7L265.5 1592.2L265.9 1618.1L266.2 1590.4L266.5 1617.4L266.9 1589.5L267.2 1615.6L267.5 1589.0L267.9 1616.7L268.2 1589.1L268.5 1612.8L268.9 1589.0L269.2 1613.4L269.5 1591.6L269.9 1611.8L270.2 1573.7L270.5 1612.6L270.9 1587.2L271.2 1628.6L271.5 1587.2L271.9 1611.0L272.2 1585.0L272.5 1633.0L272.9 1585.2L273.2 1616.3L273.5 1580.7L273.9 1612.6L274.2 1582.6L274.5 1620.9L274.9 1565.0L275.2 1633.2L275.5 1579.4L275.9 1620.8L276.2 1581.8L276.5 1614.8L276.9 1585.8L277.2 1628.9L277.6 1583.7L277.9 1610.4L278.2 1586.7L278.6 1623.2L278.9 1577.4L279.2 1611.0L279.6 1583.7L279.9 1615.3L280.2 1583.5L280.6 1613.2L280.9 1585.6L281.2 1615.8L281.6 1582.1L281.9 1613.8L282.2 1586.4L282.6 1611.3L282.9 1583.7L283.2 1611.6L283.6 1584.2L283.9 1613.0L284.2 1566.8L284.6 1612.8L284.9 1583.6L285.2 1625.3L285.6 1572.2L285.9 1634.7L286.2 1580.0L286.6 1617.1L286.9 1568.5L287.2 1619.3L287.6 1569.0L287.9 1636.2L288.2 1562.4L288.6 1618.6L288.9 1572.1L289.2 1636.8L289.6 1572.9L289.9 1618.2L290.2 1577.5L290.6 1609.6L290.9 1580.2L291.2 1625.6L291.6 1581.0L291.9 1610.0L292.2 1581.1L292.6 1615.7L292.9 1554.1L293.2 1615.8L293.6 1571.0L293.9 1618.1L294.2 1572.6L294.6 1632.7L294.9 1574.6L295.2 1618.8L295.6 1567.6L295.9 1614.0L296.2 1574.9L296.6 1611.1L296.9 1576.3L297.2 1613.5L297.6 1576.3L297.9 1631.8L298.2 1576.0L298.6 1618.7L298.9 1581.4L299.2 1611.2L299.6 1579.1L299.9 1617.8L300.2 1576.8L300.6 1612.0L300.9 1580.2L301.2 1608.3L301.6 1576.8L301.9 1611.8L302.2 1575.2L302.6 1619.9L302.9 1575.0L303.2 1625.0L303.6 1577.1L303.9 1613.5L304.2 1575.3L304.6 1609.4L304.9 1575.8L305.2 1607.5L305.6 1578.8L305.9 1610.0L306.2 1574.0L306.6 1613.2L306.9 1579.6L307.2 1612.2L307.6 1579.0L307.9 1609.3L308.2 1569.8L308.6 1614.9L308.9 1572.4L309.2 1617.7L309.6 1579.7L309.9 1613.0L310.2 1581.1L310.6 1607.9L310.9 1581.1L311.2 1607.6L311.6 1580.9L311.9 1609.1L312.2 1578.5L312.6 1609.9L312.9 1581.6L313.2 1608.6L313.6 1580.1L313.9 1606.9L314.2 1576.6L314.6 1616.9L314.9 1575.0L315.2 1606.5L315.6 1575.2L315.9 1606.9L316.2 1570.8L316.6 1610.9L316.9 1578.7L317.2 1609.6L317.6 1577.2L317.9 1623.1L318.2 1579.0L318.6 1610.8L318.9 1554.4L319.2 1610.0L319.6 1579.6L319.9 1628.0L320.2 1575.5L320.6 1625.1L320.9 1556.5L321.2 1627.6L321.6 1577.7L321.9 1615.8L322.2 1563.8L322.6 1608.9L322.9 1577.1L323.2 1610.4L323.6 1580.3L323.9 1611.5L324.2 1581.1L324.6 1607.9L324.9 1582.3L325.2 1611.2L325.6 1572.7L325.9 1610.7L326.2 1577.8L326.6 1611.2L326.9 1576.1L327.2 1617.4L327.6 1575.9L327.9 1616.4L328.2 1562.8L328.6 1613.4L328.9 1570.9L329.2 1613.5L329.6 1574.1L329.9 1615.6L330.2 1552.8L330.6 1620.0L330.9 1572.6L331.2 1614.0L331.6 1558.3L331.9 1611.9L332.2 1573.0L332.6 1617.1L332.9 1560.8L333.2 1620.2L333.6 1579.3L333.9 1615.5L334.2 1577.6L334.6 1609.8L334.9 1578.6L335.2 1608.2L335.6 1555.8L335.9 1609.3L336.2 1549.7L336.6 1609.2L336.9 1579.0L337.2 1606.4L337.6 1576.5L337.9 1609.3L338.2 1576.5L338.6 1609.4L338.9 1577.4L339.2 1615.2L339.6 1572.2L339.9 1621.5L340.2 1562.3L340.6 1624.6L340.9 1573.9L341.2 1609.5L341.6 1557.8L341.9 1632.8L342.2 1573.4L342.6 1618.8L342.9 1564.9L343.2 1616.2L343.6 1570.8L343.9 1612.2L344.2 1561.3L344.6 1621.2L344.9 1575.0L345.2 1623.3L345.6 1571.5L345.9 1608.9L346.2 1578.6L346.6 1622.0L346.9 1573.1L347.2 1607.8L347.6 1579.1L347.9 1609.7L348.2 1580.0L348.6 1606.9L348.9 1572.5L349.2 1608.3L349.6 1569.9L349.9 1612.9L350.1 1593.5L350.3 1646.4L350.6 1593.5L350.2 1570.8L350.6 1632.2L350.9 1567.4L351.2 1618.1L351.6 1567.5L351.9 1611.6L352.2 1569.3L352.6 1609.9L352.9 1570.1L353.2 1616.2L353.6 1561.5L353.9 1622.5L354.2 1562.9L354.6 1610.1L354.9 1570.0L355.2 1612.4L355.6 1560.8L355.9 1632.7L356.2 1572.6L356.6 1611.0L356.9 1569.2L357.2 1612.7L357.6 1560.5L357.9 1613.6L358.2 1567.6L358.6 1612.4L358.9 1573.0L359.2 1608.6L359.6 1575.2L359.9 1608.3L360.2 1577.6L360.6 1610.9L360.9 1580.9L361.2 1608.0L361.6 1559.7L361.9 1610.3L362.2 1585.2L362.6 1606.7L362.9 1581.5L363.2 1607.6L363.6 1584.8L363.9 1609.9L364.2 1582.6L364.6 1613.6L364.9 1579.9L365.2 1628.2L365.6 1580.4L365.9 1623.7L366.2 1583.9L366.6 1610.4L366.9 1574.7L367.3 1610.3L367.6 1578.8L367.9 1621.6L368.3 1578.1L368.6 1611.2L368.9 1582.4L369.3 1611.8L369.6 1580.2L369.9 1623.6L370.3 1575.8L370.6 1607.4L370.9 1577.1L371.3 1609.8L371.6 1578.2L371.9 1619.5L372.3 1580.3L372.6 1612.6L372.9 1560.8L373.3 1609.5L373.6 1572.1L373.9 1631.7L374.3 1571.3L374.6 1616.4L374.9 1568.6L375.3 1629.9L375.6 1573.6L375.9 1616.0L376.3 1559.4L376.6 1619.3L376.9 1570.0L377.3 1623.3L377.6 1571.3L377.9 1614.2L378.3 1569.1L378.6 1612.9L378.9 1563.9L379.3 1610.4L379.6 1570.2L379.9 1609.9L380.3 1572.1L380.6 1615.6L380.9 1575.9L381.3 1607.5L381.6 1576.2L381.9 1609.4L382.3 1571.2L382.6 1604.8L382.9 1576.0L383.3 1606.6L383.6 1554.2L383.9 1608.4L384.3 1573.6L384.6 1615.4L384.9 1579.1L385.3 1614.7L385.6 1573.5L385.9 1614.9L386.3 1578.8L386.6 1616.9L386.9 1573.2L387.3 1613.5L387.6 1580.1L387.9 1617.2L388.3 1555.5L388.6 1611.9L388.9 1578.7L389.3 1629.3L389.6 1567.6L389.9 1617.7L390.3 1568.2L390.6 1622.6L390.9 1574.1L391.3 1610.0L391.6 1579.8L391.9 1611.5L392.3 1576.7L392.6 1607.2L392.9 1576.7L393.3 1610.4L393.6 1579.5L393.9 1612.2L394.3 1565.6L394.6 1616.0L394.9 1564.7L395.3 1630.9L395.6 1573.6L395.9 1618.7L396.3 1551.1L396.6 1612.0L396.9 1568.7L397.3 1619.9L397.6 1568.1L397.9 1629.6L398.3 1565.1L398.6 1615.0L398.9 1574.3L399.3 1607.5L399.6 1575.6L399.9 1605.8L400.3 1576.2L400.6 1618.6L400.9 1549.2L401.3 1604.7L401.6 1577.5L401.9 1626.9L402.3 1577.3L402.6 1610.4L402.9 1576.3L403.3 1617.0L403.6 1575.4L403.9 1610.2L404.3 1576.3L404.6 1606.7L404.9 1578.0L405.3 1612.3L405.6 1578.6L405.9 1613.2L406.3 1579.1L406.6 1608.1L406.9 1562.0L407.3 1613.1L407.6 1574.2L407.9 1606.5L408.3 1578.5L408.6 1608.2L408.9 1559.0L409.3 1611.6L409.6 1554.9L409.9 1611.0L410.3 1560.1L410.6 1607.7L410.9 1579.8L411.3 1605.0L411.6 1579.2L411.9 1627.4L412.3 1581.5L412.6 1607.2L412.9 1577.8L413.3 1605.6L413.6 1570.5L413.9 1606.1L414.3 1575.5L414.6 1613.0L414.9 1579.2L415.3 1611.4L415.6 1578.9L415.9 1614.9L416.3 1574.0L416.6 1610.1L416.9 1575.8L417.3 1612.2L417.6 1573.8L417.9 1617.2L418.3 1575.3L418.6 1611.3L418.9 1572.5L419.3 1609.2L419.6 1563.2L419.9 1608.2L420.3 1576.2L420.6 1612.6L420.9 1580.2L421.3 1607.8L421.6 1579.8L421.9 1631.2L422.3 1575.1L422.6 1610.7L422.9 1577.2L423.3 1615.8L423.6 1574.5L423.9 1607.0L424.3 1574.2L424.6 1608.3L424.9 1577.5L425.3 1624.2L425.6 1577.0L425.9 1607.0L426.3 1579.4L426.6 1608.5L426.9 1581.4L427.3 1605.9L427.6 1581.6L427.9 1605.6L427.9 1593.2L428.2 1529.0L428.4 1593.2L428.3 1581.3L428.6 1606.7L428.9 1581.6L429.3 1607.5L429.6 1581.9L429.9 1606.8L430.3 1578.4L430.6 1619.5L430.9 1578.7L431.3 1608.3L431.6 1581.4L431.9 1625.5L432.3 1578.4L432.6 1610.0L432.9 1580.3L433.3 1608.3L433.6 1552.6L433.9 1620.8L434.3 1575.5L434.6 1610.0L434.9 1578.2L435.3 1628.7L435.6 1567.1L435.9 1628.2L436.3 1547.9L436.6 1613.3L436.9 1565.9L437.3 1609.4L437.6 1576.2L437.9 1611.3L438.3 1578.5L438.6 1614.0L438.9 1565.5L439.3 1607.3L439.6 1557.8L439.9 1612.0L440.3 1566.7L440.6 1606.6L440.9 1579.6L441.3 1605.1L441.6 1581.5L441.9 1608.3L442.3 1581.9L442.6 1604.3L442.9 1578.9L443.3 1607.2L443.6 1577.1L443.9 1606.2L444.3 1578.1L444.6 1622.3L444.9 1576.5L445.3 1605.6L445.6 1554.9L445.9 1605.6L446.3 1575.8L446.6 1608.3L446.9 1572.3L447.3 1609.3L447.6 1575.8L447.9 1604.6L448.3 1579.6L448.6 1606.6L448.9 1579.4L449.3 1609.9L449.6 1577.0L449.9 1609.2L450.3 1577.6L450.6 1614.9L450.9 1577.4L451.3 1614.8L451.6 1562.0L451.9 1610.6L452.3 1570.5L452.6 1608.3L452.9 1573.0L453.3 1619.4L453.6 1560.8L453.9 1618.7L454.3 1577.2L454.6 1608.2L454.9 1580.7L455.3 1607.2L455.6 1579.7L455.9 1606.5L456.3 1579.8L456.6 1605.8L457.0 1581.0L457.3 1604.8L457.6 1568.7L458.0 1605.0L458.3 1582.0L458.6 1603.3L459.0 1580.4L459.3 1603.2L459.6 1582.0L460.0 1604.9L460.3 1581.1L460.6 1610.1L461.0 1555.6L461.3 1605.0L461.6 1579.8L462.0 1606.1L462.3 1581.5L462.6 1604.0L463.0 1578.5L463.3 1618.0L463.6 1578.9L464.0 1611.7L464.3 1573.0L464.6 1605.4L465.0 1574.8L465.3 1622.0L465.6 1571.2L466.0 1622.0L466.3 1568.0L466.6 1608.3L467.0 1562.9L467.3 1611.4L467.6 1570.9L468.0 1613.3L468.3 1571.5L468.6 1612.1L469.0 1573.6L469.3 1609.3L469.6 1564.7L470.0 1610.9L470.3 1579.1L470.6 1616.4L471.0 1579.7L471.3 1611.2L471.6 1577.3L472.0 1616.5L472.3 1579.6L472.6 1614.0L473.0 1576.6L473.3 1620.3L473.6 1566.5L474.0 1612.1L474.3 1575.5L474.6 1608.9L475.0 1575.9L475.3 1610.4L475.6 1579.0L476.0 1611.6L476.3 1578.1L476.6 1615.0L477.0 1578.7L477.3 1616.0L477.6 1563.6L478.0 1609.9L478.3 1551.0L478.6 1615.5L479.0 1574.7L479.3 1611.5L479.6 1579.5L480.0 1631.3L480.3 1579.4L480.6 1608.6L481.0 1573.0L481.3 1609.9L481.6 1559.2L482.0 1610.4L482.3 1573.8L482.6 1606.9L483.0 1575.2L483.3 1608.0L483.6 1563.3L484.0 1606.8L484.3 1575.4L484.6 1607.7L485.0 1577.0L485.3 1609.6L485.6 1553.0L486.0 1625.7L486.3 1577.7L486.6 1611.2L487.0 1577.8L487.3 1608.0L487.6 1573.7L488.0 1606.9L488.3 1578.4L488.6 1609.2L489.0 1574.9L489.3 1607.4L489.6 1567.1L490.0 1605.7L490.3 1578.4L490.6 1610.8L491.0 1574.2L491.3 1611.3L491.6 1555.5L492.0 1614.7L492.3 1574.1L492.6 1615.3L493.0 1576.0L493.3 1628.4L493.6 1565.8L494.0 1612.6L494.3 1572.6L494.6 1611.0L495.0 1576.7L495.3 1608.4L495.6 1573.6L496.0 1616.3L496.3 1558.6L496.6 1627.9L497.0 1571.3L497.3 1608.3L497.6 1551.6L498.0 1619.7L498.3 1577.0L498.6 1633.9L499.0 1579.4L499.3 1613.7L499.6 1552.8L500.0 1608.9L500.3 1550.8L500.6 1628.3L501.0 1569.2L501.3 1611.3L501.6 1563.1L502.0 1615.8L502.3 1550.2L502.6 1618.3L503.0 1573.4L503.3 1619.6L503.6 1570.7L504.0 1619.0L504.3 1566.0L504.6 1619.4L505.0 1559.7L505.3 1634.8L505.6 1549.9L506.0 1635.2L506.3 1564.4L506.6 1614.9L507.0 1575.8L507.3 1624.2L507.6 1576.1L508.0 1606.3L508.3 1579.9L508.6 1606.4L509.0 1573.2L509.3 1616.7L509.6 1576.0L510.0 1624.1L510.3 1574.9L510.6 1608.3L511.0 1570.4L511.3 1628.5L511.6 1549.0L512.0 1612.0L512.3 1569.8L512.5 1592.9L512.8 1534.8L513.0 1592.9L512.6 1605.8L513.0 1569.4L513.3 1610.1L513.6 1572.0L514.0 1607.0L514.3 1573.3L514.6 1608.0L515.0 1571.6L515.3 1606.5L515.6 1548.1L516.0 1617.7L516.3 1572.8L516.6 1611.3L517.0 1574.7L517.3 1610.9L517.6 1575.3L518.0 1614.7L518.3 1573.7L518.6 1606.4L519.0 1552.6L519.3 1608.1L519.6 1580.2L520.0 1606.2L520.3 1558.6L520.6 1606.5L521.0 1579.3L521.3 1607.8L521.6 1579.9L522.0 1604.9L522.3 1576.3L522.6 1611.2L523.0 1580.3L523.3 1608.4L523.6 1578.6L524.0 1607.0L524.3 1574.2L524.6 1620.9L525.0 1576.5L525.3 1609.0L525.6 1576.1L526.0 1607.1L526.3 1573.5L526.6 1624.6L527.0 1573.6L527.3 1613.7L527.6 1571.9L528.0 1608.4L528.3 1577.4L528.6 1627.3L529.0 1576.1L529.3 1615.6L529.6 1573.6L530.0 1608.0L530.3 1566.8L530.6 1615.6L531.0 1560.8L531.3 1606.4L531.6 1580.0L532.0 1610.6L532.3 1577.4L532.6 1626.7L533.0 1552.5L533.3 1611.7L533.6 1576.5L534.0 1610.2L534.3 1576.6L534.6 1607.9L535.0 1580.0L535.3 1611.1L535.6 1578.4L536.0 1623.1L536.3 1581.1L536.6 1592.8L536.8 1645.0L537.0 1592.8L536.6 1606.4L537.0 1579.6L537.3 1628.5L537.6 1552.6L538.0 1610.0L538.3 1578.4L538.6 1609.9L539.0 1556.6L539.3 1609.6L539.6 1572.2L540.0 1607.7L540.3 1575.3L540.6 1608.3L541.0 1575.2L541.3 1611.1L541.6 1576.9L542.0 1608.4L542.3 1575.6L542.6 1617.4L543.0 1577.2L543.3 1607.3L543.6 1578.1L544.0 1626.9L544.3 1571.5L544.6 1622.9L545.0 1569.5L545.3 1618.8L545.6 1572.5L546.0 1608.6L546.3 1569.8L546.7 1611.5L547.0 1573.2L547.3 1617.5L547.7 1564.2L548.0 1612.9L548.3 1566.3L548.7 1617.7L549.0 1576.5L549.3 1623.8L549.7 1570.5L550.0 1624.5L550.3 1551.4L550.7 1628.2L551.0 1575.3L551.3 1622.2L551.7 1564.1L552.0 1610.6L552.3 1579.1L552.7 1623.0L553.0 1581.1L553.3 1603.7L553.7 1581.6L554.0 1606.1L554.3 1579.0L554.7 1608.8L555.0 1562.4L555.3 1608.8L555.7 1574.6L556.0 1608.1L556.3 1574.2L556.7 1608.0L557.0 1570.4L557.3 1613.2L557.7 1573.3L558.0 1610.0L558.3 1559.4L558.7 1611.7L559.0 1569.1L559.3 1606.7L559.7 1573.3L560.0 1612.7L560.3 1569.8L560.7 1611.1L561.0 1560.6L561.3 1629.8L561.7 1576.5L562.0 1610.3L562.3 1574.2L562.7 1630.2L563.0 1577.9L563.3 1608.0L563.7 1574.9L564.0 1606.9L564.3 1561.3L564.7 1608.0L565.0 1551.0L565.3 1628.4L565.7 1577.1L566.0 1620.5L566.3 1579.2L566.7 1611.0L567.0 1576.5L567.3 1605.9L567.7 1579.7L568.0 1606.9L568.3 1577.4L568.7 1611.0L569.0 1572.0L569.3 1609.5L569.7 1575.9L570.0 1621.2L570.3 1578.6L570.7 1608.2L571.0 1572.5L571.3 1621.0L571.7 1574.0L572.0 1612.4L572.3 1577.3L572.7 1607.5L573.0 1568.9L573.3 1609.7L573.7 1578.6L574.0 1610.3L574.3 1564.3L574.7 1607.3L575.0 1577.0L575.3 1607.1L575.7 1577.3L576.0 1628.4L576.3 1564.2L576.7 1608.5L577.0 1562.5L577.3 1612.8L577.7 1574.2L578.0 1609.6L578.3 1547.2L578.5 1592.2L578.8 1537.7L579.0 1592.2L578.7 1615.8L579.0 1548.1L579.3 1619.2L579.7 1565.4L580.0 1617.5L580.3 1573.4L580.7 1610.1L581.0 1570.2L581.3 1607.1L581.7 1575.5L582.0 1603.7L582.3 1580.4L582.7 1607.2L583.0 1576.9L583.3 1625.6L583.7 1577.0L584.0 1606.7L584.3 1577.9L584.7 1606.0L585.0 1577.3L585.3 1617.4L585.7 1571.0L586.0 1609.7L586.3 1569.6L586.7 1613.3L587.0 1566.5L587.3 1612.5L587.7 1566.9L588.0 1628.1L588.3 1565.6L588.7 1612.8L589.0 1544.7L589.3 1614.0L589.7 1567.1L590.0 1610.5L590.3 1566.2L590.7 1628.1L591.0 1560.1L591.3 1621.1L591.7 1554.9L592.0 1611.4L592.3 1568.8L592.7 1611.2L593.0 1564.3L593.3 1615.6L593.7 1572.4L594.0 1602.8L594.3 1572.7L594.7 1605.9L595.0 1576.8L595.2 1591.9L595.4 1644.6L595.6 1591.9L595.3 1607.7L595.7 1571.8L596.0 1626.6L596.3 1576.4L596.7 1611.7L597.0 1546.2L597.3 1612.0L597.7 1553.6L598.0 1612.1L598.3 1562.9L598.7 1611.2L599.0 1576.5L599.3 1619.7L599.7 1575.8L600.0 1623.2L600.3 1568.5L600.7 1611.0L601.0 1575.3L601.3 1623.4L601.7 1576.7L602.0 1609.4L602.3 1575.9L602.7 1611.8L603.0 1574.4L603.3 1611.4L603.7 1578.9L604.0 1607.6L604.3 1576.1L604.7 1607.8L605.0 1568.5L605.3 1607.5L605.7 1575.7L606.0 1619.1L606.3 1575.1L606.7 1613.4L607.0 1571.8L607.3 1612.5L607.7 1575.3L608.0 1614.0L608.3 1576.4L608.7 1608.5L609.0 1578.8L609.3 1610.8L609.7 1575.7L610.0 1609.9L610.3 1575.3L610.7 1622.2L611.0 1576.7L611.3 1611.1L611.7 1570.6L612.0 1625.9L612.3 1565.0L612.7 1609.7L613.0 1563.0L613.3 1608.5L613.7 1567.7L614.0 1613.8L614.3 1566.7L614.7 1614.6L615.0 1563.0L615.3 1625.4L615.7 1571.0L616.0 1615.9L616.3 1561.7L616.7 1624.0L617.0 1571.7L617.3 1632.6L617.7 1560.6L618.0 1618.7L618.3 1569.9L618.7 1609.5L619.0 1572.3L619.3 1622.9L619.7 1576.6L620.0 1610.2L620.3 1577.0L620.7 1609.6L621.0 1550.9L621.3 1608.0L621.7 1572.9L622.0 1612.6L622.3 1566.5L622.7 1610.1L623.0 1569.3L623.3 1610.0L623.7 1577.6L624.0 1609.1L624.3 1572.6L624.7 1612.9L625.0 1572.2L625.3 1628.6L625.7 1567.4L626.0 1631.6L626.3 1576.9L626.7 1611.5L627.0 1571.6L627.3 1608.8L627.7 1575.5L628.0 1610.4L628.3 1575.7L628.7 1606.4L629.0 1578.9L629.3 1627.5L629.7 1577.9L630.0 1603.9L630.3 1576.2L630.7 1609.8L631.0 1552.4L631.3 1616.8L631.7 1568.8L632.0 1608.2L632.3 1578.8L632.7 1603.6L633.0 1574.4L633.3 1617.8L633.7 1558.5L634.0 1606.0L634.3 1577.3L634.7 1606.8L635.0 1572.2L635.3 1610.1L635.7 1575.9L636.0 1609.9L636.4 1573.2L636.7 1622.0L637.0 1575.1L637.4 1606.7L637.7 1558.6L638.0 1607.8L638.4 1571.3L638.7 1607.1L639.0 1572.4L639.4 1623.3L639.7 1574.7L640.0 1608.9L640.4 1570.8L640.7 1619.4L641.0 1573.9L641.4 1619.6L641.7 1566.4L642.0 1627.0L642.4 1573.5L642.7 1611.7L643.0 1572.7L643.4 1607.7L643.7 1577.0L644.0 1609.9L644.4 1578.4L644.7 1606.7L645.0 1559.7L645.4 1625.3L645.7 1575.6L646.0 1608.8L646.4 1553.4L646.7 1604.0L647.0 1575.9L647.4 1608.5L647.7 1574.8L648.0 1606.2L648.4 1578.5L648.7 1614.6L649.0 1576.2L649.4 1610.3L649.7 1572.8L650.0 1624.0L650.4 1572.1L650.7 1607.4L651.0 1548.4L651.4 1605.9L651.7 1569.4L652.0 1612.9L652.4 1572.6L652.7 1616.8L653.0 1570.9L653.4 1605.8L653.7 1556.3L654.0 1604.7L654.4 1576.6L654.7 1603.9L655.0 1573.1L655.4 1605.8L655.7 1575.8L656.0 1607.1L656.4 1577.1L656.7 1603.0L657.0 1570.2L657.4 1608.2L657.7 1574.3L658.0 1609.4L658.4 1573.6L658.7 1607.7L659.0 1575.2L659.4 1619.9L659.7 1545.9L660.0 1611.4L660.4 1557.0L660.7 1613.1L661.0 1567.1L661.4 1621.8L661.7 1572.0L662.0 1609.4L662.4 1557.7L662.7 1608.9L663.0 1570.6L663.4 1606.6L663.7 1560.7L664.0 1631.2L664.4 1572.0L664.7 1617.8L665.0 1571.2L665.4 1607.2L665.7 1573.0L666.0 1631.6L666.4 1566.4L666.7 1607.7L667.0 1572.3L667.4 1606.7L667.7 1573.4L668.0 1616.5L668.4 1565.8L668.7 1602.7L669.0 1566.4L669.4 1603.0L669.7 1573.9L670.0 1606.1L670.4 1577.6L670.7 1622.7L671.0 1573.1L671.4 1602.5L671.7 1555.1L672.0 1602.8L672.4 1571.8L672.7 1619.8L673.0 1569.7L673.4 1609.2L673.7 1565.2L674.0 1612.0L674.4 1573.0L674.7 1606.1L675.0 1574.9L675.4 1605.6L675.7 1574.8L676.0 1608.1L676.4 1574.2L676.7 1606.6L677.0 1576.6L677.4 1624.9L677.7 1569.7L678.0 1612.5L678.4 1573.2L678.7 1630.6L679.0 1574.3L679.4 1627.1L679.7 1563.8L680.0 1605.4L680.4 1576.1L680.7 1603.5L681.0 1565.1L681.4 1613.9L681.7 1577.2L682.0 1610.8L682.4 1570.8L682.7 1604.2L683.0 1586.2L683.4 1591.7L683.7 1585.9L684.0 1591.3L684.4 1586.1L684.7 1595.0L685.0 1585.1L685.4 1591.2L685.7 1584.7L686.0 1591.0L686.4 1584.8L686.7 1595.1L687.0 1584.4L687.4 1590.6L687.7 1585.0L688.0 1590.9L688.4 1584.2L688.7 1591.5L689.0 1584.4L689.4 1590.9L689.7 1584.7L690.0 1590.9L690.4 1582.3L690.7 1590.3L691.0 1585.1L691.4 1590.3L691.7 1584.7L692.0 1591.1L692.4 1584.9L692.7 1591.3L693.0 1584.8L693.4 1592.5L693.7 1584.3L694.0 1591.0L694.4 1584.8L694.7 1590.7L695.0 1584.6L695.4 1590.7L695.7 1583.5L696.0 1592.1L696.4 1585.1L696.7 1590.8L697.0 1585.0L697.4 1590.7L697.7 1584.5L698.0 1590.4L698.4 1585.3L698.7 1591.8L699.0 1584.5L699.4 1590.1L699.7 1584.4L700.0 1591.1L700.4 1585.2L700.7 1590.9L701.0 1582.3L701.4 1590.9L701.7 1581.3L702.0 1591.0L702.4 1580.3L702.7 1591.5L703.0 1584.5L703.4 1590.5L703.7 1581.9L704.0 1590.9L704.4 1584.7L704.7 1590.8L705.0 1582.8L705.4 1590.2L705.7 1583.9L706.0 1593.8L706.4 1585.1L706.7 1590.9L707.0 1585.3L707.4 1590.2L707.7 1583.7L708.0 1590.4L708.4 1583.1L708.7 1589.9L709.0 1585.1L709.4 1589.6L709.7 1579.0L710.0 1590.2L710.4 1584.4L710.7 1589.6L711.0 1582.9L711.4 1589.7L711.7 1584.4L712.0 1589.2L712.4 1583.3L712.7 1589.2L713.0 1584.0L713.4 1589.1L713.7 1578.1L714.0 1589.8L714.4 1584.1L714.7 1588.3L715.0 1583.3L715.4 1589.0L715.7 1582.8L716.0 1589.1L716.4 1583.4L716.7 1591.4L717.0 1579.7L717.4 1588.5L717.7 1582.6L718.0 1588.6L718.4 1578.0L718.7 1589.2L719.0 1580.4L719.4 1589.1L719.7 1582.5L720.0 1589.1L720.4 1583.5L720.7 1589.5L721.0 1583.3L721.4 1589.1L721.7 1584.1L722.0 1589.8L722.4 1583.6L722.7 1590.1L723.0 1583.7L723.4 1589.7L723.7 1583.2L724.0 1588.1L724.2 1562.0L724.5 1588.1L724.0 1596.0L724.4 1583.7L724.5 1588.1L724.7 1624.7L725.0 1588.1L724.7 1589.9L725.0 1584.5L725.4 1590.4L725.7 1584.9L726.1 1593.7L726.4 1585.2L726.7 1590.8L727.1 1582.3L727.4 1591.2L727.7 1584.7L728.1 1591.2L728.4 1585.2L728.7 1590.6L729.1 1585.4L729.4 1595.3L729.7 1585.6L730.1 1591.4L730.4 1579.7L730.7 1592.0L731.1 1584.9L731.4 1592.1L731.7 1585.1L732.1 1590.6L732.4 1585.4L732.7 1591.5L733.1 1583.5L733.4 1591.4L733.7 1583.3L734.1 1592.4L734.4 1579.5L734.7 1592.5L735.1 1580.1L735.4 1593.0L735.7 1585.5L736.1 1592.6L736.4 1584.6L736.7 1594.1L737.1 1583.8L737.4 1592.3L737.7 1585.3L738.1 1591.5L738.4 1586.0L738.7 1593.2L739.1 1586.5L739.4 1591.1L739.7 1586.3L740.1 1590.6L740.4 1585.9L740.7 1591.4L741.1 1586.0L741.4 1591.3L741.7 1586.0L742.1 1591.5L742.4 1585.7L742.7 1591.5L743.1 1585.0L743.4 1591.1L743.7 1585.7L744.1 1591.8L744.4 1586.0L744.7 1592.2L745.1 1585.2L745.4 1591.5L745.7 1585.6L746.1 1592.0L746.4 1584.2L746.7 1596.7L747.1 1586.0L747.4 1591.3L747.7 1586.3L748.1 1592.0L748.4 1580.8L748.7 1591.3L749.1 1584.9L749.4 1591.3L749.7 1584.4L750.1 1591.1L750.4 1585.2L750.7 1591.5L751.1 1584.0L751.4 1590.4L751.7 1580.2L752.1 1590.7L752.4 1584.8L752.7 1595.9L753.1 1579.7L753.4 1592.5L753.7 1579.8L754.1 1594.6L754.4 1584.6L754.7 1590.4L755.1 1583.3L755.4 1596.3L755.7 1582.1L756.1 1595.5L756.4 1585.3L756.7 1591.0L757.1 1585.3L757.4 1591.8L757.7 1585.5L758.1 1591.5L758.4 1584.0L758.7 1592.2L759.1 1585.4L759.4 1591.6L759.7 1584.9L760.1 1591.0L760.4 1582.3L760.7 1591.1L761.1 1585.0L761.4 1591.7L761.7 1584.3L762.1 1591.1L762.4 1585.4L762.7 1592.2L763.1 1585.1L763.4 1591.4L763.7 1585.8L764.1 1591.1L764.4 1585.5L764.7 1590.9L765.1 1585.9L765.4 1591.1L765.7 1586.2L766.1 1591.5L766.4 1585.5L766.7 1592.3L767.1 1586.3L767.4 1592.2L767.7 1583.4L768.1 1594.1L768.4 1586.6L768.7 1592.0L769.1 1586.5L769.4 1592.3L769.7 1583.7L770.1 1593.6L770.4 1586.8L770.7 1592.1L771.1 1586.7L771.4 1591.3L771.7 1586.6L772.1 1591.4L772.4 1586.9L772.7 1596.7L773.1 1583.6L773.4 1591.0L773.7 1586.7L774.1 1592.5L774.4 1586.7L774.7 1591.2L775.1 1586.6L775.4 1592.4L775.7 1583.2L776.1 1592.1L776.4 1585.9L776.7 1592.5L777.1 1585.9L777.4 1592.2L777.7 1586.3L778.1 1592.0L778.4 1586.9L778.7 1592.5L779.1 1586.6L779.4 1592.2L779.7 1587.0L780.1 1591.2L780.4 1586.8L780.7 1591.6L781.1 1586.2L781.4 1590.6L781.7 1585.6L782.1 1591.7L782.4 1584.8L782.7 1590.3L783.1 1585.3L783.4 1589.7L783.7 1584.4L784.1 1591.7L784.4 1584.7L784.7 1589.9L785.1 1584.5L785.4 1589.8L785.7 1583.9L786.1 1589.2L786.4 1581.0L786.7 1589.3L787.1 1583.1L787.4 1589.0L787.7 1583.8L788.1 1589.8L788.4 1583.3L788.7 1589.6L789.1 1581.6L789.4 1590.3L789.7 1583.5L790.1 1589.2L790.4 1582.6L790.7 1588.6L791.1 1583.2L791.4 1589.0L791.7 1583.2L792.1 1589.5L792.4 1583.2L792.7 1588.5L793.1 1578.3L793.4 1589.1L793.7 1583.7L794.1 1588.7L794.4 1583.4L794.7 1589.6L795.1 1583.2L795.4 1595.1L795.7 1581.7L796.1 1589.5L796.4 1583.8L796.7 1590.4L797.1 1581.5L797.4 1590.3L797.7 1584.1L798.1 1590.8L798.4 1584.4L798.7 1590.7L799.1 1584.5L799.4 1594.1L799.7 1583.4L800.1 1597.3L800.4 1585.0L800.7 1597.5L801.1 1583.9L801.4 1592.0L801.7 1582.2L802.1 1593.9L802.4 1582.8L802.7 1592.4L803.1 1583.3L803.4 1592.2L803.7 1585.4L804.1 1592.5L804.4 1583.8L804.7 1593.6L805.1 1586.3L805.4 1592.0L805.7 1584.6L806.1 1591.6L806.4 1585.6L806.7 1592.4L807.1 1585.6L807.4 1592.3L807.7 1585.1L808.1 1592.5L808.4 1585.0L808.7 1593.6L809.1 1581.0L809.4 1591.6L809.7 1583.0L810.1 1591.8L810.4 1582.9L810.7 1597.2L811.1 1584.5L811.4 1591.9L811.7 1584.4L812.1 1590.2L812.4 1583.2L812.7 1590.7L813.1 1584.3L813.4 1590.5L813.7 1581.8L814.1 1589.7L814.4 1584.6L814.7 1590.9L815.1 1581.6L815.4 1590.8L815.8 1584.6L816.1 1591.6L816.4 1584.0L816.8 1591.3L817.1 1585.0L817.4 1595.2L817.8 1584.7L818.1 1591.8L818.4 1582.8L818.8 1591.2L819.1 1585.7L819.4 1591.0L819.8 1585.4L820.1 1590.7L820.4 1586.2L820.8 1590.9L821.1 1585.9L821.4 1591.0L821.8 1585.8L822.1 1592.0L822.4 1583.0L822.8 1591.6L823.1 1586.0L823.4 1591.2L823.8 1585.8L824.1 1596.3L824.4 1584.7L824.8 1591.9L825.1 1585.4L825.4 1592.3L825.8 1584.4L826.1 1596.1L826.4 1585.8L826.8 1597.1L827.1 1585.4L827.4 1591.4L827.8 1581.0L828.1 1591.4L828.4 1586.2L828.8 1591.2L829.1 1586.1L829.4 1590.7L829.8 1584.9L830.1 1590.4L830.4 1586.2L830.8 1590.7L831.1 1581.3L831.4 1591.6L831.8 1585.6L832.1 1591.3L832.4 1584.5L832.8 1591.8L833.1 1584.2L833.4 1593.5L833.8 1584.3L834.1 1591.0L834.4 1585.5L834.8 1591.4L835.1 1585.2L835.4 1591.3L835.8 1585.3L836.1 1590.6L836.4 1586.3L836.8 1590.9L837.1 1586.4L837.4 1591.8L837.8 1586.1L838.1 1592.7L838.4 1586.5L838.8 1592.0L839.1 1586.5L839.4 1592.9L839.8 1586.8L840.1 1592.6L840.4 1587.2L840.8 1592.5L841.1 1586.9L841.4 1592.2L841.8 1587.1L842.1 1592.3L842.4 1587.2L842.8 1594.0L843.1 1587.8L843.4 1597.7L843.8 1587.5L844.1 1592.7L844.4 1586.6L844.8 1592.9L845.1 1586.6L845.4 1592.4L845.8 1582.6L846.1 1596.8L846.4 1583.3L846.8 1592.7L847.1 1581.7L847.4 1593.8L847.8 1585.0L848.1 1592.1L848.4 1585.9L848.8 1597.1L849.1 1585.2L849.4 1591.8L849.8 1584.7L850.1 1591.1L850.4 1584.6L850.8 1592.4L851.1 1584.5L851.4 1590.9L851.8 1584.8L852.1 1590.5L852.4 1584.6L852.8 1590.3L853.1 1583.8L853.4 1590.4L853.8 1584.4L854.1 1592.1L854.4 1584.4L854.8 1595.7L855.1 1577.9L855.4 1590.3L855.8 1583.2L856.1 1590.1L856.4 1583.7L856.8 1591.9L857.1 1580.1L857.4 1590.2L857.8 1583.2L858.1 1592.3L858.4 1584.2L858.8 1590.2L859.1 1584.6L859.4 1589.7L859.8 1584.1L860.1 1589.5L860.4 1584.6L860.8 1590.0L861.1 1584.9L861.4 1590.4L861.8 1582.7L862.1 1591.5L862.4 1584.5L862.8 1592.0L863.1 1584.4L863.4 1591.7L863.8 1585.1L864.1 1595.0L864.4 1585.7L864.8 1591.3L865.1 1585.4L865.4 1591.6L865.8 1585.0L866.1 1591.3L866.4 1585.4L866.8 1591.4L867.1 1585.8L867.4 1592.2L867.8 1582.2L868.1 1591.7L868.4 1585.0L868.8 1591.2L869.1 1584.4L869.4 1593.9L869.8 1582.4L870.1 1591.6L870.4 1584.7L870.8 1590.7L871.1 1584.5L871.4 1590.8L871.8 1585.2L872.1 1591.4L872.4 1584.5L872.8 1590.4L873.1 1584.6L873.4 1593.1L873.8 1584.2L874.1 1590.6L874.4 1584.2L874.8 1590.5L875.1 1584.9L875.4 1590.3L875.8 1584.7L876.1 1590.5L876.4 1585.6L876.8 1590.3L877.1 1585.7L877.4 1590.7L877.8 1585.8L878.1 1591.1L878.4 1585.4L878.8 1590.9L879.1 1585.4L879.4 1595.7L879.8 1584.9L880.1 1590.5L880.4 1585.8L880.8 1591.1L881.1 1585.2L881.4 1590.9L881.8 1580.8L882.1 1591.0L882.4 1585.1L882.8 1591.1L883.1 1585.4L883.4 1590.7L883.8 1584.9L884.1 1590.6L884.4 1584.2L884.8 1591.0L885.1 1585.0L885.4 1591.7L885.8 1584.9L886.1 1591.2L886.4 1584.7L886.8 1590.9L887.1 1584.0L887.4 1591.0L887.8 1584.4L888.1 1590.8L888.4 1583.4L888.8 1590.8L889.1 1585.1L889.4 1591.4L889.8 1584.3L890.1 1591.7L890.4 1584.2L890.8 1591.0L891.1 1585.0L891.4 1593.0L891.8 1583.8L892.1 1594.1L892.4 1584.5L892.8 1593.1L893.1 1583.0L893.4 1594.4L893.8 1583.8L894.1 1592.6L894.4 1585.1L894.8 1597.0L895.1 1585.5L895.4 1592.1L895.8 1586.2L896.1 1594.6L896.4 1585.9L896.8 1593.9L897.1 1585.5L897.4 1591.7L897.8 1585.6L898.1 1593.1L898.4 1585.3L898.8 1591.7L899.1 1585.3L899.4 1592.6L899.8 1585.9L900.1 1595.5L900.4 1585.6L900.8 1596.0L901.1 1584.6L901.4 1592.0L901.8 1586.4L902.1 1592.8L902.4 1586.9L902.8 1598.2L903.1 1582.6L903.4 1592.2L903.8 1586.9L904.1 1592.5L904.4 1587.1L904.8 1597.3L905.1 1586.2L905.4 1592.3L905.8 1580.9L906.1 1595.1L906.5 1585.8L906.8 1597.6L907.1 1586.4L907.5 1593.8L907.8 1586.5L908.1 1591.6L908.5 1586.0L908.8 1591.8L909.1 1585.6L909.5 1591.9L909.8 1586.1L910.1 1591.6L910.5 1586.2L910.8 1591.9L911.1 1586.0L911.5 1592.3L911.8 1586.0L912.1 1592.1L912.5 1585.9L912.8 1592.1L913.1 1586.5L913.5 1591.7L913.8 1582.3L914.1 1595.5L914.5 1585.8L914.8 1592.4L915.1 1586.6L915.5 1591.6L915.8 1585.4L916.1 1592.3L916.5 1586.4L916.8 1593.8L917.1 1585.7L917.5 1591.5L917.8 1585.6L918.1 1591.9L918.5 1586.1L918.8 1591.1L919.1 1586.0L919.5 1591.5L919.8 1585.5L920.1 1592.1L920.5 1585.3L920.8 1593.5L921.1 1585.2L921.5 1591.8L921.8 1585.8L922.1 1591.4L922.5 1585.1L922.8 1591.5L923.1 1585.5L923.5 1592.4L923.8 1584.6L924.1 1592.9L924.5 1583.3L924.8 1594.3L925.1 1585.9L925.5 1593.8L925.8 1585.7L926.1 1591.9L926.5 1585.0L926.8 1592.0L927.1 1586.3L927.5 1591.9L927.8 1585.8L928.1 1592.3L928.5 1586.7L928.8 1596.9L929.1 1584.1L929.5 1592.1L929.8 1586.0L930.1 1592.2L930.5 1585.6L930.8 1593.3L931.1 1584.5L931.5 1593.1L931.8 1586.5L932.1 1594.1L932.5 1579.7L932.8 1593.8L933.1 1585.9L933.5 1593.2L933.8 1585.1L934.1 1598.8L934.5 1584.9L934.8 1594.4L935.1 1582.6L935.5 1598.6L935.8 1585.5L936.1 1596.4L936.5 1580.6L936.8 1596.0L937.1 1582.9L937.5 1593.4L937.8 1581.7L938.1 1594.4L938.5 1586.0L938.8 1594.9L939.1 1585.1L939.5 1592.7L939.8 1586.2L940.1 1593.3L940.5 1585.7L940.8 1592.1L941.1 1586.4L941.5 1595.3L941.8 1585.8L942.1 1592.6L942.5 1585.4L942.8 1592.1L943.1 1585.8L943.5 1592.8L943.8 1586.1L944.1 1591.0L944.5 1585.3L944.8 1591.8L945.1 1585.1L945.5 1591.3L945.8 1585.8L946.1 1591.0L946.5 1585.5L946.8 1590.9L947.1 1585.4L947.5 1591.3L947.8 1584.9L948.1 1591.5L948.5 1585.4L948.8 1591.8L949.1 1581.8L949.5 1591.1L949.8 1584.6L950.1 1591.7L950.5 1585.0L950.8 1592.4L951.1 1584.6L951.5 1591.4L951.8 1585.4L952.1 1592.1L952.5 1584.4L952.8 1591.1L953.1 1581.4L953.5 1591.1L953.8 1582.2L954.1 1591.7L954.5 1583.7L954.8 1591.4L955.1 1583.9L955.5 1590.7L955.8 1584.6L956.1 1590.6L956.5 1582.0L956.8 1592.3L957.1 1584.9L957.5 1590.7L957.8 1580.5L958.1 1595.8L958.5 1585.5L958.8 1591.3L959.1 1585.8L959.5 1590.7L959.8 1586.0L960.1 1591.2L960.5 1586.5L960.8 1594.3L961.1 1586.4L961.5 1590.9L961.8 1587.0L962.1 1591.6L962.5 1586.5L962.8 1591.4L963.1 1586.6L963.5 1591.8L963.8 1586.6L964.1 1592.0L964.5 1586.5L964.8 1592.6L965.1 1586.2L965.5 1592.3L965.8 1584.4L966.1 1592.2L966.5 1582.1L966.8 1592.2L967.1 1586.0L967.5 1592.0L967.8 1585.9L968.1 1592.1L968.5 1585.6L968.8 1591.5L969.1 1586.0L969.5 1592.6L969.8 1584.3L970.1 1591.6L970.5 1584.6L970.8 1591.2L971.1 1585.6L971.5 1591.7L971.8 1585.2L972.1 1591.5L972.5 1585.4L972.8 1591.2L973.1 1585.4L973.5 1591.0L973.8 1585.0L974.1 1591.1L974.5 1583.2L974.8 1593.5L975.1 1579.5L975.5 1591.5L975.8 1584.8L976.1 1593.0L976.5 1586.1L976.8 1598.3L977.1 1583.2L977.5 1592.6L977.8 1582.3L978.1 1592.8L978.5 1585.7L978.8 1598.9L979.1 1586.4L979.5 1594.2L979.8 1587.0L980.1 1594.3L980.5 1584.0L980.8 1599.4L981.1 1586.0L981.5 1594.5L981.8 1585.7L982.1 1596.6L982.5 1583.8L982.8 1593.7L983.1 1586.1L983.5 1592.9L983.8 1585.5L984.1 1596.2L984.5 1585.8L984.8 1592.4L985.1 1586.2L985.5 1592.6L985.8 1586.0L986.1 1592.0L986.5 1586.2L986.8 1592.0L987.1 1582.9L987.5 1591.7L987.8 1585.9L988.1 1592.4L988.5 1585.1L988.8 1590.9L989.1 1585.3L989.5 1595.3L989.8 1585.1L990.1 1591.7L990.5 1585.3L990.8 1591.7L991.1 1585.2L991.5 1591.8L991.8 1585.5L992.1 1592.8L992.5 1584.4L992.8 1592.4L993.1 1584.9L993.5 1596.7L993.8 1579.7L994.1 1594.0L994.5 1584.2L994.8 1592.6L995.1 1585.6L995.5 1592.5L995.8 1584.3L996.2 1592.3L996.5 1585.1L996.8 1592.1L997.2 1584.5L997.5 1591.4L997.8 1586.1L998.2 1591.4L998.5 1585.6L998.8 1591.2L999.2 1585.7L999.5 1590.4L999.8 1584.9L1000.2 1594.5L1000.5 1584.8L1000.8 1591.0L1001.2 1585.1L1001.5 1590.4L1001.8 1583.3L1002.2 1590.5L1002.5 1585.1L1002.8 1591.3L1003.2 1585.0L1003.5 1591.4L1003.8 1585.5L1004.2 1593.3L1004.5 1585.2L1004.8 1592.2L1005.2 1585.6L1005.5 1592.4L1005.8 1585.8L1006.2 1592.4L1006.5 1585.6L1006.8 1592.6L1007.2 1585.7L1007.5 1593.6L1007.8 1584.0L1008.2 1592.5L1008.5 1586.2L1008.8 1593.5L1009.2 1586.4L1009.5 1594.8L1009.8 1586.4L1010.2 1592.9L1010.5 1586.7L1010.8 1595.0L1011.2 1587.0L1011.5 1593.6L1011.8 1586.2L1012.2 1592.8L1012.5 1585.7L1012.8 1593.2L1013.2 1586.7L1013.5 1592.3L1013.8 1586.2L1014.2 1592.6L1014.5 1585.0L1014.8 1595.7L1015.2 1586.7L1015.5 1593.6L1015.8 1581.4L1016.2 1599.0L1016.5 1586.6L1016.8 1593.0L1017.2 1587.0L1017.5 1593.3L1017.8 1587.3L1018.2 1594.1L1018.5 1586.9L1018.8 1592.8L1019.2 1586.3L1019.5 1593.3L1019.8 1586.3L1020.2 1597.8L1020.5 1586.1L1020.8 1592.8L1021.2 1586.6L1021.5 1592.4L1021.8 1586.5L1022.2 1592.0L1022.5 1582.4L1022.8 1592.5L1023.2 1586.3L1023.5 1592.2L1023.8 1586.2L1024.2 1592.3L1024.5 1586.3L1024.8 1593.0L1025.2 1584.3L1025.5 1592.6L1025.8 1586.1L1026.2 1592.8L1026.5 1586.9L1026.8 1593.0L1027.2 1581.3L1027.5 1595.0L1027.8 1586.6L1028.2 1598.1L1028.5 1585.7L1028.8 1593.3L1029.2 1584.8L1029.5 1593.2L1029.8 1582.8L1030.2 1592.8L1030.5 1586.3L1030.8 1592.4L1031.2 1583.6L1031.5 1595.3L1031.8 1585.5L1032.2 1592.4L1032.5 1585.8L1032.8 1591.4L1033.2 1585.3L1033.5 1591.7L1033.8 1584.7L1034.2 1592.5L1034.5 1582.9L1034.8 1591.1L1035.2 1585.4L1035.5 1591.0L1035.8 1585.1L1036.2 1592.2L1036.5 1585.9L1036.8 1590.9L1037.2 1585.5L1037.5 1590.9L1037.8 1580.4L1038.2 1591.8L1038.5 1585.7L1038.8 1591.3L1039.2 1580.4L1039.5 1596.4L1039.8 1585.2L1040.2 1592.2L1040.5 1585.1L1040.8 1592.0L1041.2 1585.2L1041.5 1592.9L1041.8 1585.1L1042.2 1591.8L1042.5 1584.5L1042.8 1592.7L1043.2 1585.4L1043.5 1591.9L1043.8 1584.6L1044.2 1591.1L1044.5 1585.2L1044.8 1590.5L1045.2 1584.4L1045.5 1590.4L1045.8 1581.1L1046.2 1590.8L1046.5 1583.7L1046.8 1590.7L1047.2 1584.4L1047.5 1596.0L1047.8 1585.3L1048.2 1590.3L1048.5 1580.2L1048.8 1590.8L1049.2 1585.8L1049.5 1590.8L1049.8 1586.0L1050.2 1591.2L1050.5 1585.5L1050.8 1591.0L1051.2 1585.2L1051.5 1591.1L1051.8 1584.2L1052.2 1590.8L1052.5 1584.9L1052.8 1590.6L1053.2 1584.6L1053.5 1593.4L1053.8 1584.4L1054.2 1591.9L1054.5 1584.0L1054.8 1592.6L1055.2 1583.7L1055.5 1591.3L1055.8 1584.1L1056.2 1591.6L1056.5 1579.3L1056.8 1591.1L1057.2 1585.0L1057.5 1592.6L1057.8 1584.6L1058.2 1591.7L1058.5 1584.8L1058.8 1592.1L1059.2 1584.8L1059.5 1591.3L1059.8 1585.6L1060.2 1591.6L1060.5 1586.2L1060.8 1591.6L1061.2 1585.9L1061.5 1591.4L1061.8 1586.5L1062.2 1591.6L1062.5 1586.8L1062.8 1591.8L1063.2 1586.1L1063.5 1592.2L1063.8 1586.7L1064.2 1594.7L1064.5 1586.0L1064.8 1595.5L1065.2 1587.1L1065.5 1592.6L1065.8 1586.2L1066.2 1595.5L1066.5 1586.5L1066.8 1592.7L1067.2 1586.6L1067.5 1592.3L1067.8 1587.2L1068.2 1592.0L1068.5 1587.5L1068.8 1593.6L1069.2 1586.5L1069.5 1592.2L1069.8 1586.1L1070.2 1592.0L1070.5 1586.1L1070.8 1592.9L1071.2 1586.2L1071.5 1593.0L1071.8 1586.6L1072.2 1592.9L1072.5 1585.5L1072.8 1592.0L1073.2 1586.5L1073.5 1594.8L1073.8 1585.7L1074.2 1591.5L1074.5 1585.6L1074.8 1591.2L1075.2 1586.3L1075.5 1595.7L1075.8 1585.8L1076.2 1591.7L1076.5 1586.1L1076.8 1591.8L1077.2 1586.2L1077.5 1591.6L1077.8 1586.0L1078.2 1591.3L1078.5 1585.6L1078.8 1594.9L1079.2 1586.4L1079.5 1592.0L1079.8 1586.2L1080.2 1591.9L1080.5 1586.1L1080.8 1591.7L1081.2 1586.4L1081.5 1592.0L1081.8 1584.8L1082.2 1591.7L1082.5 1582.5L1082.8 1591.6L1083.2 1585.5L1083.5 1590.8L1083.8 1585.8L1084.2 1590.5L1084.5 1585.1L1084.8 1590.3L1085.2 1585.4L1085.5 1590.7L1085.9 1584.5L1086.2 1590.6L1086.5 1582.1L1086.9 1590.2L1087.2 1582.0L1087.5 1590.0L1087.9 1584.5L1088.2 1590.7L1088.5 1582.9L1088.9 1590.5L1089.2 1583.4L1089.5 1591.0L1089.9 1585.2L1090.2 1591.0L1090.5 1580.7L1090.9 1591.2L1091.2 1584.9L1091.5 1590.8L1091.9 1585.4L1092.2 1591.4L1092.5 1586.3L1092.9 1591.2L1093.2 1582.2L1093.5 1592.1L1093.9 1584.3L1094.2 1591.7L1094.5 1585.5L1094.9 1592.3L1095.2 1585.9L1095.5 1592.6L1095.9 1586.2L1096.2 1592.6L1096.5 1586.1L1096.9 1592.5L1097.2 1584.2L1097.5 1592.7L1097.9 1586.0L1098.2 1592.4L1098.5 1586.3L1098.9 1593.4L1099.2 1585.7L1099.5 1592.4L1099.9 1584.7L1100.2 1592.5L1100.5 1585.5L1100.9 1594.7L1101.2 1585.4L1101.5 1591.3L1101.9 1582.1L1102.2 1591.8L1102.5 1586.5L1102.9 1591.2L1103.2 1585.8L1103.5 1591.8L1103.9 1582.6L1104.2 1591.2L1104.5 1586.4L1104.9 1591.1L1105.2 1586.3L1105.5 1591.4L1105.9 1586.9L1106.2 1592.2L1106.5 1586.4L1106.9 1591.6L1107.2 1586.4L1107.5 1591.1L1107.9 1585.8L1108.2 1593.9L1108.5 1586.3L1108.9 1591.5L1109.2 1585.8L1109.5 1591.4L1109.9 1585.4L1110.2 1591.2L1110.5 1580.1L1110.9 1592.0L1111.2 1586.1L1111.5 1591.0L1111.9 1585.7L1112.2 1591.2L1112.5 1585.9L1112.9 1591.5L1113.2 1585.9L1113.5 1591.2L1113.9 1585.3L1114.2 1590.8L1114.5 1585.1L1114.9 1592.3L1115.2 1585.1L1115.5 1591.6L1115.9 1585.4L1116.2 1591.4L1116.5 1584.9L1116.9 1590.5L1117.2 1584.8L1117.5 1591.1L1117.9 1584.6L1118.2 1590.6L1118.5 1584.0L1118.9 1590.1L1119.2 1583.1L1119.5 1590.1L1119.9 1582.3L1120.2 1591.5L1120.5 1584.9L1120.9 1590.6L1121.2 1584.8L1121.5 1591.6L1121.9 1584.7L1122.2 1595.4L1122.5 1584.2L1122.9 1590.1L1123.2 1581.0L1123.5 1590.4L1123.9 1585.3L1124.2 1590.7L1124.5 1584.9L1124.9 1590.9L1125.2 1584.6L1125.5 1590.5L1125.9 1584.6L1126.2 1590.4L1126.5 1585.2L1126.9 1590.8L1127.2 1584.7L1127.5 1590.5L1127.9 1581.4L1128.2 1590.6L1128.5 1585.2L1128.9 1591.1L1129.2 1585.3L1129.5 1590.8L1129.9 1585.0L1130.2 1591.1L1130.5 1584.8L1130.9 1591.7L1131.2 1582.8L1131.5 1593.0L1131.9 1584.0L1132.2 1594.3L1132.5 1583.2L1132.9 1601.5L1133.2 1581.5L1133.5 1595.5L1133.9 1582.0L1134.2 1606.5L1134.5 1581.3L1134.9 1596.6L1135.2 1583.1L1135.5 1595.8L1135.9 1582.3L1136.2 1597.0L1136.5 1582.9L1136.9 1598.3L1137.2 1579.7L1137.5 1598.3L1137.9 1580.1L1138.2 1598.9L1138.5 1577.8L1138.9 1598.3L1139.2 1576.8L1139.5 1599.4L1139.9 1577.6L1140.2 1599.0L1140.5 1578.3L1140.9 1595.8L1141.2 1579.5L1141.5 1595.9L1141.9 1577.8L1142.2 1596.3L1142.5 1575.0L1142.9 1610.3L1143.2 1572.1L1143.5 1599.2L1143.9 1568.3L1144.2 1608.5L1144.5 1565.4L1144.9 1601.5L1145.2 1565.4L1145.5 1604.7L1145.9 1558.0L1146.2 1606.1L1146.5 1568.1L1146.9 1605.2L1147.2 1569.9L1147.5 1605.0L1147.9 1572.6L1148.2 1606.3L1148.5 1572.9L1148.9 1599.6L1149.2 1567.4L1149.5 1600.4L1149.9 1569.2L1150.2 1604.2L1150.5 1567.6L1150.9 1603.8L1151.2 1571.2L1151.5 1599.3L1151.9 1566.2L1152.2 1599.7L1152.5 1568.2L1152.9 1603.2L1153.2 1565.7L1153.5 1604.8L1153.9 1537.5L1154.2 1602.7L1154.5 1567.4L1154.9 1602.5L1155.2 1542.6L1155.5 1631.4L1155.9 1571.1L1156.2 1599.1L1156.5 1572.7L1156.9 1600.5L1157.2 1567.4L1157.5 1602.9L1157.9 1575.7L1158.2 1601.7L1158.5 1575.2L1158.9 1602.8L1159.2 1573.1L1159.5 1635.7L1159.9 1568.0L1160.2 1604.7L1160.5 1572.4L1160.9 1604.9L1161.2 1572.3L1161.5 1627.7L1161.9 1542.2L1162.2 1603.9L1162.5 1566.5L1162.9 1603.3L1163.2 1574.0L1163.5 1605.0L1163.9 1570.7L1164.2 1602.8L1164.5 1572.2L1164.9 1603.4L1165.2 1571.5L1165.5 1607.0L1165.9 1569.7L1166.2 1614.8L1166.5 1565.4L1166.9 1628.1L1167.2 1570.9L1167.5 1613.7L1167.9 1567.0L1168.2 1612.2L1168.5 1568.9L1168.9 1607.8L1169.2 1572.7L1169.5 1607.2L1169.9 1561.1L1170.2 1631.6L1170.5 1555.8L1170.9 1608.8L1171.2 1574.2L1171.5 1614.2L1171.9 1567.0L1172.2 1638.1L1172.5 1574.3L1172.9 1617.7L1173.2 1565.1L1173.5 1611.9L1173.9 1569.1L1174.2 1606.3L1174.5 1573.2L1174.9 1611.5L1175.2 1573.7L1175.6 1604.7L1175.9 1575.4L1176.2 1605.1L1176.6 1573.4L1176.9 1605.1L1177.2 1557.2L1177.6 1602.6L1177.9 1573.8L1178.2 1605.9L1178.6 1569.5L1178.9 1622.1L1179.2 1546.2L1179.6 1625.7L1179.9 1568.2L1180.2 1602.5L1180.6 1565.7L1180.9 1603.3L1181.2 1572.9L1181.6 1605.7L1181.9 1568.6L1182.2 1623.0L1182.6 1566.1L1182.9 1605.5L1183.2 1549.6L1183.6 1604.9L1183.9 1536.1L1184.2 1612.5L1184.6 1556.8L1184.9 1609.6L1185.2 1560.1L1185.6 1603.8L1185.9 1570.3L1186.2 1605.0L1186.6 1564.5L1186.9 1618.9L1187.2 1566.4L1187.6 1606.7L1187.9 1569.1L1188.2 1609.2L1188.6 1542.8L1188.9 1611.0L1189.2 1536.5L1189.6 1615.5L1189.9 1533.9L1190.2 1612.5L1190.6 1557.9L1190.9 1605.2L1191.2 1567.2L1191.6 1609.2L1191.9 1567.8L1192.2 1630.4L1192.6 1563.2L1192.9 1642.7L1193.2 1564.9L1193.6 1609.6L1193.9 1568.5L1194.2 1641.4L1194.6 1564.1L1194.9 1617.0L1195.2 1566.0L1195.6 1614.4L1195.9 1545.4L1196.2 1608.2L1196.6 1572.1L1196.9 1605.8L1197.2 1571.4L1197.6 1604.3L1197.9 1572.7L1198.2 1607.0L1198.6 1579.7L1198.9 1597.2L1199.2 1581.0L1199.6 1595.7L1199.9 1579.6L1200.2 1595.3L1200.6 1576.6L1200.9 1595.9L1201.2 1573.7L1201.6 1595.6L1201.9 1579.0L1202.2 1613.6L1202.6 1578.6L1202.9 1606.3L1203.2 1579.4L1203.6 1597.7L1203.9 1577.3L1204.2 1598.2L1204.6 1577.8L1204.9 1601.8L1205.2 1579.1L1205.6 1595.6L1205.9 1580.2L1206.2 1597.6L1206.6 1580.5L1206.9 1612.1L1207.2 1577.0L1207.6 1597.3L1207.9 1553.5L1208.2 1597.4L1208.6 1573.0L1208.9 1598.1L1209.2 1579.5L1209.6 1596.7L1209.9 1579.1L1210.2 1597.5L1210.6 1578.8L1210.9 1596.0L1211.2 1578.5L1211.6 1597.7L1211.9 1565.1L1212.2 1600.6L1212.6 1578.8L1212.9 1596.6L1213.2 1578.5L1213.6 1594.8L1213.9 1577.5L1214.2 1595.3L1214.6 1575.5L1214.9 1594.1L1215.2 1562.7L1215.6 1595.5L1215.9 1576.0L1216.2 1598.4L1216.6 1575.6L1216.9 1595.9L1217.2 1576.4L1217.6 1594.9L1217.9 1569.5L1218.2 1596.3L1218.6 1569.7L1218.9 1595.1L1219.2 1574.3L1219.6 1594.5L1219.9 1573.1L1220.2 1593.4L1220.6 1576.6L1220.9 1594.8L1221.2 1577.9L1221.6 1602.5L1221.9 1577.5L1222.2 1594.1L1222.6 1573.8L1222.9 1596.6L1223.2 1575.9L1223.6 1612.9L1223.9 1569.7L1224.2 1597.7L1224.6 1574.8L1224.9 1597.0L1225.2 1576.6L1225.6 1597.0L1225.9 1578.5L1226.2 1613.4L1226.6 1572.8L1226.9 1603.6L1227.2 1580.0L1227.6 1594.9L1227.9 1576.7L1228.2 1595.9L1228.6 1576.5L1228.9 1597.2L1229.2 1578.4L1229.6 1594.8L1229.9 1576.7L1230.2 1594.3L1230.6 1576.8L1230.9 1614.3L1231.2 1577.7L1231.6 1593.5L1231.9 1576.3L1232.2 1594.3L1232.6 1566.7L1232.9 1596.8L1233.2 1577.7L1233.6 1592.6L1233.9 1577.4L1234.2 1594.5L1234.6 1579.3L1234.9 1592.4L1235.2 1577.5L1235.6 1594.0L1235.9 1579.4L1236.2 1595.1L1236.6 1578.8L1236.9 1593.8L1237.2 1576.8L1237.6 1597.9L1237.9 1577.2L1238.2 1595.3L1238.6 1577.6L1238.9 1595.0L1239.2 1570.2L1239.6 1593.1L1239.9 1575.7L1240.2 1593.0L1240.6 1557.0L1240.9 1592.9L1241.2 1570.3L1241.6 1595.0L1241.9 1575.1L1242.2 1613.4L1242.6 1572.8L1242.9 1609.1L1243.2 1576.1L1243.6 1592.7L1243.9 1576.5L1244.2 1593.0L1244.6 1575.7L1244.9 1594.2L1245.2 1575.8L1245.6 1594.3L1245.9 1574.1L1246.2 1596.6L1246.6 1567.0L1246.9 1594.9L1247.2 1551.0L1247.6 1592.1L1247.9 1574.7L1248.2 1593.5L1248.6 1573.1L1248.9 1593.8L1249.2 1574.3L1249.6 1593.6L1249.9 1575.2L1250.2 1596.3L1250.6 1572.9L1250.9 1605.9L1251.2 1574.7L1251.6 1592.2L1251.9 1573.5L1252.2 1592.9L1252.6 1565.3L1252.9 1611.4L1253.2 1573.9L1253.6 1593.3L1253.9 1572.9L1254.2 1592.6L1254.2 1585.3L1254.5 1509.0L1254.8 1585.3L1254.6 1574.5L1254.9 1592.5L1255.2 1574.9L1255.6 1592.5L1255.9 1562.5L1256.2 1594.0L1256.6 1577.8L1256.9 1591.8L1257.2 1577.4L1257.6 1594.7L1257.9 1578.8L1258.2 1593.9L1258.5 1585.2L1258.8 1527.0L1259.0 1585.2L1258.6 1580.0L1258.9 1592.6L1259.2 1579.8L1259.6 1593.4L1259.9 1580.6L1260.2 1593.1L1260.6 1581.2L1260.9 1593.9L1261.2 1580.7L1261.6 1592.5L1261.9 1580.4L1262.2 1595.7L1262.6 1578.1L1262.9 1593.3L1263.2 1560.0L1263.6 1593.2L1263.9 1576.7L1264.2 1593.6L1264.6 1577.8L1264.9 1600.4L1265.3 1577.2L1265.6 1594.1L1265.9 1555.2L1266.3 1594.1L1266.6 1575.2L1266.9 1594.7L1267.3 1574.4L1267.6 1595.8L1267.9 1572.7L1268.3 1596.6L1268.6 1572.0L1268.9 1593.5L1269.3 1574.2L1269.6 1598.9L1269.9 1573.9L1270.3 1594.8L1270.6 1570.4L1270.9 1642.1L1271.3 1516.9L1271.6 1636.9L1271.9 1503.8L1272.3 1626.5L1272.6 1533.8L1272.9 1631.9L1273.3 1522.8L1273.6 1646.2L1273.9 1522.6L1274.3 1631.7L1274.6 1537.9L1274.9 1628.1L1275.3 1534.8L1275.6 1640.4L1275.9 1531.9L1276.3 1636.7L1276.6 1522.6L1276.9 1614.6L1277.3 1538.5L1277.6 1625.1L1277.9 1506.6L1278.3 1612.2L1278.6 1513.7L1278.9 1616.9L1279.3 1551.5L1279.6 1613.3L1279.9 1545.9L1280.3 1628.2L1280.6 1556.9L1280.9 1613.3L1281.3 1548.2L1281.6 1610.7L1281.9 1554.8L1282.0 1584.8L1282.2 1477.5L1282.5 1584.8L1282.3 1612.3L1282.5 1584.8L1282.7 1664.0L1283.0 1584.8L1282.6 1532.5L1282.9 1609.1L1283.3 1556.8L1283.6 1652.9L1283.9 1553.6L1284.3 1624.3L1284.6 1555.2L1284.9 1620.2L1285.3 1536.2L1285.6 1615.9L1285.9 1547.1L1286.3 1617.8L1286.6 1547.0L1286.9 1615.6L1287.3 1513.5L1287.6 1616.3L1287.9 1544.7L1288.3 1622.9L1288.6 1547.2L1288.9 1614.0L1289.3 1549.6L1289.6 1617.8L1289.9 1533.5L1290.3 1656.7L1290.6 1530.2L1290.9 1631.6L1291.3 1527.2L1291.6 1655.9L1291.9 1523.9L1292.3 1614.4L1292.6 1541.1L1292.9 1625.5L1293.3 1552.5L1293.6 1615.6L1293.9 1556.0L1294.3 1613.1L1294.6 1521.8L1294.9 1642.8L1295.3 1544.3L1295.6 1618.7L1295.9 1549.5L1296.3 1628.0L1296.6 1537.4L1296.9 1627.4L1297.3 1538.9L1297.6 1636.0L1297.9 1534.7L1298.3 1624.8L1298.6 1534.2L1298.9 1646.7L1299.3 1524.9L1299.6 1640.2L1299.9 1504.3L1300.3 1651.1L1300.6 1540.5L1300.9 1622.6L1301.3 1555.2L1301.5 1584.6L1301.8 1480.7L1302.0 1584.6L1301.6 1616.7L1301.9 1551.2L1302.3 1640.9L1302.6 1551.7L1302.9 1621.7L1303.3 1550.6L1303.6 1621.6L1303.9 1514.8L1304.3 1612.6L1304.6 1538.7L1304.9 1624.2L1305.3 1554.3L1305.6 1623.6L1305.9 1554.9L1306.3 1624.4L1306.6 1557.7L1306.9 1623.8L1307.3 1552.2L1307.6 1616.2L1307.9 1559.5L1308.3 1616.1L1308.6 1552.9L1308.9 1618.7L1309.3 1559.8L1309.6 1644.0L1309.9 1560.4L1310.3 1619.6L1310.6 1551.3L1310.9 1619.3L1311.3 1555.5L1311.6 1617.8L1311.9 1544.4L1312.3 1628.9L1312.6 1550.2L1312.9 1616.7L1313.3 1555.2L1313.6 1619.5L1313.9 1555.0L1314.3 1638.7L1314.6 1543.0L1314.9 1609.7L1315.3 1547.7L1315.6 1620.1L1315.9 1527.9L1316.3 1612.3L1316.6 1529.0L1316.9 1632.6L1317.3 1545.2L1317.6 1620.0L1317.9 1531.5L1318.3 1624.6L1318.6 1518.8L1318.9 1632.6L1319.3 1510.6L1319.6 1642.1L1319.9 1534.2L1320.3 1630.1L1320.6 1518.0L1320.9 1630.0L1321.3 1508.6L1321.6 1628.3L1321.9 1549.7L1322.3 1617.7L1322.6 1511.3L1322.9 1653.7L1323.3 1524.6L1323.6 1614.3L1323.9 1540.7L1324.3 1645.9L1324.6 1546.5L1324.9 1653.7L1325.3 1511.5L1325.6 1623.6L1325.9 1540.0L1326.3 1636.2L1326.6 1547.9L1326.9 1636.1L1327.3 1540.5L1327.6 1627.8L1327.9 1554.0L1328.3 1652.9L1328.6 1517.4L1328.9 1614.2L1329.3 1528.4L1329.6 1627.0L1329.9 1556.3L1330.3 1618.6L1330.6 1558.4L1330.9 1621.4L1331.3 1551.8L1331.6 1611.6L1331.9 1551.9L1332.3 1617.3L1332.6 1514.3L1332.9 1615.9L1333.3 1554.9L1333.6 1641.1L1333.9 1557.6L1334.3 1612.8L1334.6 1550.7L1334.9 1610.2L1335.3 1553.8L1335.6 1613.1L1335.9 1553.3L1336.3 1611.4L1336.6 1547.8L1336.9 1614.2L1337.3 1550.1L1337.6 1616.6L1337.9 1543.9L1338.3 1621.1L1338.6 1514.1L1338.9 1625.9L1339.3 1549.5L1339.6 1618.0L1339.9 1548.5L1340.3 1623.2L1340.6 1517.3L1340.9 1634.1L1341.3 1549.0L1341.6 1626.0L1341.9 1549.6L1342.3 1619.3L1342.6 1546.9L1342.9 1618.3L1343.3 1552.4L1343.6 1612.8L1343.9 1552.6L1344.3 1620.0L1344.6 1553.2L1344.9 1613.9L1345.3 1548.4L1345.6 1617.5L1345.9 1516.7L1346.3 1620.1L1346.6 1552.4L1346.9 1654.6L1347.3 1529.2L1347.6 1627.5L1347.9 1521.4L1348.3 1615.4L1348.6 1549.9L1348.9 1657.6L1349.3 1540.4L1349.6 1612.6L1349.9 1550.8L1350.3 1617.6L1350.6 1550.4L1350.9 1612.2L1351.3 1551.4L1351.6 1643.5L1351.9 1557.2L1352.3 1616.6L1352.6 1558.1L1352.9 1614.2L1353.3 1549.2L1353.6 1640.2L1353.9 1522.9L1354.3 1618.9L1354.6 1548.0L1355.0 1610.2L1355.3 1551.7L1355.6 1611.0L1356.0 1557.8L1356.3 1623.4L1356.6 1527.3L1357.0 1614.7L1357.3 1556.6L1357.6 1631.1L1358.0 1549.8L1358.3 1616.1L1358.6 1549.3L1359.0 1651.0L1359.3 1542.7L1359.6 1607.7L1360.0 1549.4L1360.3 1613.0L1360.6 1556.3L1361.0 1610.4L1361.3 1551.1L1361.6 1617.0L1362.0 1549.9L1362.3 1611.8L1362.6 1543.9L1363.0 1623.5L1363.3 1551.5L1363.6 1619.7L1364.0 1533.1L1364.3 1630.6L1364.6 1506.5L1365.0 1637.1L1365.3 1549.5L1365.6 1643.6L1366.0 1546.4L1366.3 1647.5L1366.6 1544.5L1367.0 1620.7L1367.3 1519.4L1367.6 1615.7L1368.0 1548.5L1368.3 1620.4L1368.6 1543.3L1369.0 1616.4L1369.3 1540.9L1369.6 1620.2L1370.0 1536.5L1370.3 1642.0L1370.6 1548.0L1371.0 1618.1L1371.3 1557.0L1371.6 1608.3L1372.0 1556.2L1372.3 1610.7L1372.6 1556.6L1373.0 1627.3L1373.3 1561.8L1373.6 1607.5L1374.0 1560.2L1374.3 1614.0L1374.6 1554.1L1375.0 1609.2L1375.3 1559.6L1375.6 1612.5L1376.0 1517.9L1376.3 1620.3L1376.6 1559.9L1377.0 1615.9L1377.3 1550.0L1377.6 1620.1L1378.0 1547.7L1378.3 1614.4L1378.6 1555.4L1379.0 1612.5L1379.3 1542.3L1379.6 1618.3L1380.0 1550.2L1380.3 1613.3L1380.6 1532.4L1381.0 1627.9L1381.3 1548.0L1381.6 1626.9L1382.0 1539.0L1382.3 1632.1L1382.6 1543.2L1383.0 1615.3L1383.3 1519.3L1383.6 1620.2L1384.0 1547.6L1384.3 1625.7L1384.6 1547.0L1385.0 1622.7L1385.3 1551.4L1385.6 1616.9L1386.0 1552.9L1386.3 1615.5L1386.6 1555.7L1387.0 1603.6L1387.3 1554.8L1387.6 1607.8L1387.8 1583.4L1388.0 1487.0L1388.2 1583.4L1388.0 1557.3L1388.3 1604.8L1388.6 1559.3L1389.0 1611.5L1389.3 1551.6L1389.6 1609.3L1390.0 1548.1L1390.3 1633.8L1390.6 1528.1L1391.0 1633.9L1391.3 1547.0L1391.6 1627.0L1392.0 1538.0L1392.3 1614.5L1392.6 1549.2L1393.0 1623.7L1393.3 1547.6L1393.6 1629.1L1394.0 1549.7L1394.3 1623.7L1394.6 1516.9L1395.0 1614.9L1395.3 1548.3L1395.6 1640.5L1396.0 1554.8L1396.3 1610.3L1396.6 1556.4L1397.0 1606.7L1397.3 1555.1L1397.6 1614.8L1398.0 1550.6L1398.3 1630.6L1398.6 1537.8L1399.0 1611.2L1399.3 1552.6L1399.6 1616.1L1400.0 1540.8L1400.2 1583.2L1400.4 1491.5L1400.7 1583.2L1400.3 1639.6L1400.6 1543.5L1400.7 1583.2L1400.9 1668.0L1401.2 1583.2L1401.0 1617.3L1401.3 1538.0L1401.6 1624.2L1402.0 1506.9L1402.3 1630.0L1402.6 1545.7L1403.0 1612.0L1403.3 1552.3L1403.6 1615.6L1404.0 1553.0L1404.3 1625.0L1404.6 1536.4L1405.0 1612.2L1405.3 1551.2L1405.6 1635.6L1406.0 1549.6L1406.3 1659.5L1406.6 1532.9L1407.0 1619.4L1407.3 1523.6L1407.6 1631.7L1408.0 1522.5L1408.3 1665.6L1408.6 1524.9L1409.0 1618.3L1409.3 1529.1L1409.6 1627.8L1410.0 1528.5L1410.3 1634.1L1410.6 1547.4L1411.0 1620.4L1411.3 1526.6L1411.6 1634.0L1412.0 1549.6L1412.3 1628.9L1412.6 1548.4L1413.0 1616.0L1413.3 1543.6L1413.6 1657.0L1414.0 1533.1L1414.3 1630.6L1414.6 1551.4L1415.0 1620.0L1415.3 1509.0L1415.6 1625.7L1416.0 1532.3L1416.3 1630.0L1416.6 1547.2L1417.0 1616.1L1417.3 1537.1L1417.6 1631.5L1418.0 1549.1L1418.3 1615.2L1418.6 1554.6L1419.0 1616.2L1419.3 1561.5L1419.6 1609.9L1420.0 1561.2L1420.3 1607.3L1420.6 1556.2L1421.0 1610.0L1421.3 1559.4L1421.6 1604.1L1422.0 1563.1L1422.3 1634.4L1422.6 1560.7L1423.0 1613.2L1423.3 1559.5L1423.6 1614.4L1424.0 1540.3L1424.3 1611.3L1424.6 1556.6L1425.0 1637.7L1425.3 1545.0L1425.6 1648.1L1426.0 1530.2L1426.3 1614.2L1426.6 1517.6L1427.0 1612.3L1427.3 1540.9L1427.6 1630.7L1428.0 1545.0L1428.3 1615.0L1428.6 1535.2L1429.0 1621.8L1429.3 1546.9L1429.6 1626.2L1430.0 1554.9L1430.3 1608.7L1430.6 1547.9L1431.0 1619.0L1431.3 1549.6L1431.6 1618.5L1432.0 1542.3L1432.3 1617.5L1432.6 1555.1L1433.0 1615.8L1433.3 1553.6L1433.6 1613.0L1434.0 1552.4L1434.3 1625.2L1434.6 1544.5L1435.0 1624.6L1435.3 1546.1L1435.6 1629.9L1436.0 1526.2L1436.3 1655.4L1436.6 1530.5L1436.8 1582.7L1437.0 1501.0L1437.2 1582.7L1437.0 1629.3L1437.3 1582.7L1437.5 1675.2L1437.8 1582.7L1437.3 1545.5L1437.6 1619.4L1438.0 1546.9L1438.3 1614.2L1438.6 1549.5L1439.0 1611.8L1439.3 1535.3L1439.6 1646.5L1440.0 1547.9L1440.3 1616.7L1440.6 1525.9L1441.0 1644.6L1441.3 1551.9L1441.6 1616.8L1442.0 1547.8L1442.3 1611.0L1442.6 1556.4L1443.0 1620.0L1443.3 1550.7L1443.6 1616.6L1444.0 1527.3L1444.3 1622.1L1444.7 1555.0L1445.0 1608.8L1445.3 1552.7L1445.7 1616.3L1446.0 1553.7L1446.3 1582.6L1446.5 1670.6L1446.8 1582.6L1446.3 1606.0L1446.7 1556.6L1447.0 1608.8L1447.3 1553.9L1447.7 1625.1L1448.0 1560.4L1448.3 1610.6L1448.7 1553.6L1449.0 1605.5L1449.3 1555.2L1449.7 1611.7L1450.0 1549.7L1450.3 1608.4L1450.7 1556.4L1451.0 1644.6L1451.3 1544.9L1451.7 1613.1L1452.0 1553.2L1452.3 1614.9L1452.7 1553.9L1453.0 1613.1L1453.3 1542.4L1453.7 1612.9L1454.0 1552.4L1454.3 1609.6L1454.7 1554.7L1455.0 1615.5L1455.3 1551.2L1455.7 1636.4L1456.0 1554.3L1456.3 1616.4L1456.7 1523.2L1457.0 1618.5L1457.3 1524.8L1457.7 1611.8L1458.0 1552.2L1458.3 1616.9L1458.7 1539.6L1459.0 1661.6L1459.3 1520.6L1459.7 1626.9L1460.0 1545.8L1460.3 1614.6L1460.7 1521.9L1461.0 1621.6L1461.3 1533.9L1461.7 1626.3L1462.0 1531.8L1462.3 1632.5L1462.7 1541.5L1462.8 1582.4L1463.0 1487.0L1463.2 1582.4L1463.0 1616.5L1463.3 1529.3L1463.7 1616.4L1464.0 1515.3L1464.3 1611.0L1464.7 1541.9L1465.0 1611.5L1465.3 1546.3L1465.7 1649.1L1466.0 1536.3L1466.3 1630.9L1466.7 1526.0L1467.0 1619.5L1467.3 1546.1L1467.7 1615.4L1468.0 1536.0L1468.3 1613.3L1468.7 1549.4L1469.0 1617.1L1469.3 1540.0L1469.7 1625.0L1470.0 1549.8L1470.3 1617.8L1470.7 1530.9L1471.0 1619.2L1471.3 1541.1L1471.7 1625.3L1472.0 1542.6L1472.3 1612.1L1472.7 1536.9L1473.0 1611.8L1473.3 1540.6L1473.5 1582.2L1473.7 1457.9L1474.0 1582.2L1473.7 1621.3L1474.0 1534.1L1474.3 1610.7L1474.7 1552.9L1475.0 1613.5L1475.3 1552.0L1475.7 1614.4L1476.0 1541.3L1476.3 1621.0L1476.7 1541.9L1477.0 1613.4L1477.3 1533.1L1477.7 1621.2L1478.0 1537.3L1478.3 1659.6L1478.7 1514.7L1479.0 1626.6L1479.3 1541.1L1479.7 1657.2L1480.0 1548.3L1480.3 1625.6L1480.7 1536.2L1481.0 1637.5L1481.3 1538.7L1481.7 1639.0L1482.0 1500.2L1482.3 1635.3L1482.7 1544.1L1483.0 1656.2L1483.3 1546.1L1483.7 1613.1L1484.0 1540.6L1484.3 1613.6L1484.7 1535.7L1485.0 1654.7L1485.3 1545.9L1485.7 1629.1L1486.0 1554.3L1486.3 1607.8L1486.7 1555.8L1487.0 1604.7L1487.3 1555.1L1487.7 1604.7L1488.0 1555.6L1488.3 1608.5L1488.7 1556.7L1489.0 1604.5" stroke="#000000" stroke-width="1.50" fill="none" stroke-linejoin="round"/>
<rect x="204.15" y="1410.90" width="4.60" height="664.20" fill="#000"/>
<rect x="1499.30" y="1410.90" width="4.75" height="664.20" fill="#000"/>
<rect x="204.15" y="2071.10" width="1299.90" height="4.00" fill="#000"/>
</g>
<g id="legend1">
<rect x="206.55" y="94.05" width="350.60" height="92.70" fill="#000"/>
<rect x="207.75" y="95.25" width="347.90" height="90.00" fill="#fff"/>
<path d="M215.3 139.50H363.8" stroke="#ff0000" stroke-width="1.3" fill="none"/>
<text x="380.6" y="162.35" font-family="'Liberation Serif',serif" font-size="66" fill="#000">60mm</text>
</g>
<g id="legend2">
<rect x="206.55" y="752.95" width="350.60" height="93.80" fill="#000"/>
<rect x="207.75" y="754.15" width="347.90" height="91.10" fill="#fff"/>
<path d="M215.3 799.50H363.8" stroke="#0000a0" stroke-width="1.3" fill="none"/>
<text x="380.6" y="822.35" font-family="'Liberation Serif',serif" font-size="66" fill="#000">40mm</text>
</g>
<g id="legend3">
<rect x="206.55" y="1412.95" width="350.60" height="93.80" fill="#000"/>
<rect x="207.75" y="1414.15" width="347.90" height="91.10" fill="#fff"/>
<path d="M215.3 1459.50H363.8" stroke="#000000" stroke-width="1.3" fill="none"/>
<text x="380.6" y="1482.35" font-family="'Liberation Serif',serif" font-size="66" fill="#000">20mm</text>
</g>
<text x="179.6" y="189.90" text-anchor="end" font-family="'Liberation Serif',serif" font-size="54.2" fill="#000">690</text>
<text x="179.6" y="358.70" text-anchor="end" font-family="'Liberation Serif',serif" font-size="54.2" fill="#000">460</text>
<text x="179.6" y="527.10" text-anchor="end" font-family="'Liberation Serif',serif" font-size="54.2" fill="#000">230</text>
<text x="179.6" y="695.90" text-anchor="end" font-family="'Liberation Serif',serif" font-size="54.2" fill="#000">0</text>
<text transform="translate(58.8 376.00) rotate(-90)" text-anchor="middle" font-family="'Liberation Serif',serif" font-size="66.5" fill="#000">Stress (kPa)</text>
<text x="179.6" y="931.40" text-anchor="end" font-family="'Liberation Serif',serif" font-size="54.2" fill="#000">780</text>
<text x="179.6" y="1097.00" text-anchor="end" font-family="'Liberation Serif',serif" font-size="54.2" fill="#000">520</text>
<text x="179.6" y="1262.90" text-anchor="end" font-family="'Liberation Serif',serif" font-size="54.2" fill="#000">260</text>
<text x="179.6" y="1428.80" text-anchor="end" font-family="'Liberation Serif',serif" font-size="54.2" fill="#000">0</text>
<text transform="translate(58.8 1036.00) rotate(-90)" text-anchor="middle" font-family="'Liberation Serif',serif" font-size="66.5" fill="#000">Stress (kPa)</text>
<text x="179.6" y="1509.00" text-anchor="end" font-family="'Liberation Serif',serif" font-size="54.2" fill="#000">660</text>
<text x="179.6" y="1679.00" text-anchor="end" font-family="'Liberation Serif',serif" font-size="54.2" fill="#000">550</text>
<text x="179.6" y="1849.00" text-anchor="end" font-family="'Liberation Serif',serif" font-size="54.2" fill="#000">440</text>
<text x="179.6" y="2018.80" text-anchor="end" font-family="'Liberation Serif',serif" font-size="54.2" fill="#000">330</text>
<text transform="translate(58.8 1696.00) rotate(-90)" text-anchor="middle" font-family="'Liberation Serif',serif" font-size="66.5" fill="#000">Stress (kPa)</text>
<text x="232.00" y="53.9" text-anchor="middle" font-family="'Liberation Serif',serif" font-size="54.2" fill="#000">0.0</text>
<text x="232.00" y="2142.3" text-anchor="middle" font-family="'Liberation Serif',serif" font-size="54.2" fill="#000">0.0</text>
<text x="860.65" y="53.9" text-anchor="middle" font-family="'Liberation Serif',serif" font-size="54.2" fill="#000">0.5</text>
<text x="860.65" y="2142.3" text-anchor="middle" font-family="'Liberation Serif',serif" font-size="54.2" fill="#000">0.5</text>
<text x="1489.30" y="53.9" text-anchor="middle" font-family="'Liberation Serif',serif" font-size="54.2" fill="#000">1.0</text>
<text x="1489.30" y="2142.3" text-anchor="middle" font-family="'Liberation Serif',serif" font-size="54.2" fill="#000">1.0</text>
<text x="854.5" y="2247.2" text-anchor="middle" font-family="'Liberation Serif',serif" font-size="66.5" fill="#000">Time (h)</text>
</svg>
</body>
</html>
